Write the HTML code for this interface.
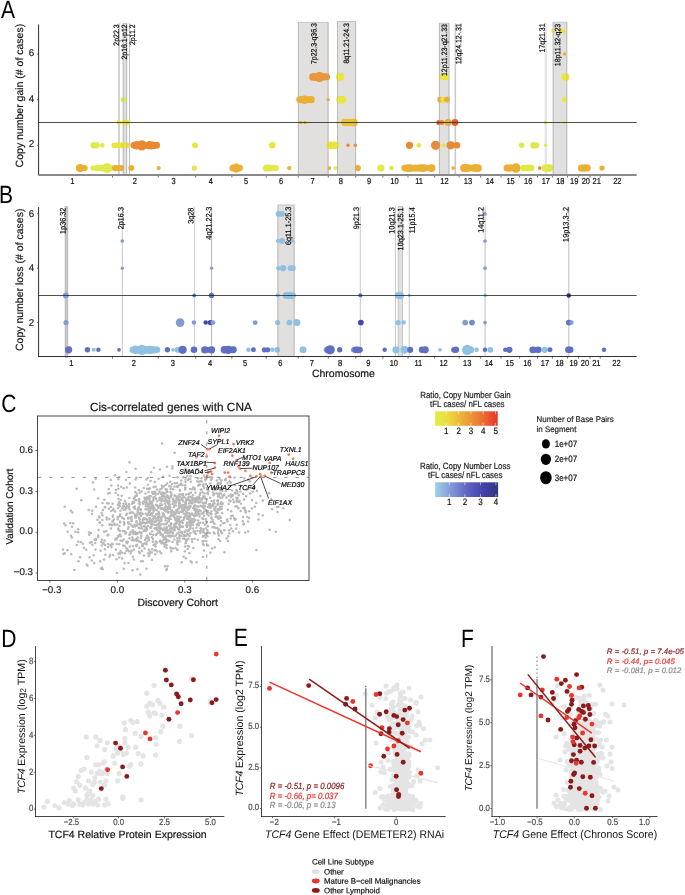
<!DOCTYPE html>
<html lang="en"><head><meta charset="utf-8"><title>Figure</title>
<style>
html,body{margin:0;padding:0;background:#fff;}
body{width:685px;height:895px;overflow:hidden;}
svg{display:block;font-family:"Liberation Sans",sans-serif;text-rendering:geometricPrecision;}
</style></head><body>
<svg width="685" height="895" viewBox="0 0 685 895">
<rect width="685" height="895" fill="#fff"/>
<g id="pA">
<rect x="118.2" y="23.4" width="1.6" height="151.1" fill="#c9c9c9"/>
<rect x="123.2" y="23.4" width="3.5" height="151.1" fill="#e1e0df" stroke="#bdbdbd" stroke-width="0.8"/>
<rect x="129" y="23.4" width="1" height="151.1" fill="#bdbdbd"/>
<rect x="298.3" y="22.3" width="29.8" height="152.2" fill="#e1e0df" stroke="#bdbdbd" stroke-width="0.8"/>
<rect x="337.5" y="21.4" width="18.2" height="153.1" fill="#e1e0df" stroke="#bdbdbd" stroke-width="0.8"/>
<rect x="439.3" y="23.2" width="9.7" height="151.3" fill="#e1e0df" stroke="#bdbdbd" stroke-width="0.8"/>
<rect x="454.6" y="23.2" width="1.5" height="151.3" fill="#c9c9c9"/>
<rect x="545" y="23.2" width="1.4" height="151.3" fill="#ececec" stroke="#d4d4d4" stroke-width="0.5"/>
<rect x="553.1" y="22.2" width="13.7" height="152.3" fill="#e1e0df" stroke="#bdbdbd" stroke-width="0.8"/>
<line x1="38.6" y1="24.4" x2="38.6" y2="175.2" stroke="#2e2e2e" stroke-width="1"/>
<line x1="38.4" y1="175" x2="636.7" y2="175" stroke="#8a8a8a" stroke-width="2"/>
<line x1="112.5" y1="176" x2="112.5" y2="177.5" stroke="#444" stroke-width="0.8"/>
<line x1="158.3" y1="176" x2="158.3" y2="177.5" stroke="#444" stroke-width="0.8"/>
<line x1="195.7" y1="176" x2="195.7" y2="177.5" stroke="#444" stroke-width="0.8"/>
<line x1="231.9" y1="176" x2="231.9" y2="177.5" stroke="#444" stroke-width="0.8"/>
<line x1="266.2" y1="176" x2="266.2" y2="177.5" stroke="#444" stroke-width="0.8"/>
<line x1="298.2" y1="176" x2="298.2" y2="177.5" stroke="#444" stroke-width="0.8"/>
<line x1="328.3" y1="176" x2="328.3" y2="177.5" stroke="#444" stroke-width="0.8"/>
<line x1="355.8" y1="176" x2="355.8" y2="177.5" stroke="#444" stroke-width="0.8"/>
<line x1="382.9" y1="176" x2="382.9" y2="177.5" stroke="#444" stroke-width="0.8"/>
<line x1="408" y1="176" x2="408" y2="177.5" stroke="#444" stroke-width="0.8"/>
<line x1="434.7" y1="176" x2="434.7" y2="177.5" stroke="#444" stroke-width="0.8"/>
<line x1="459.1" y1="176" x2="459.1" y2="177.5" stroke="#444" stroke-width="0.8"/>
<line x1="480.7" y1="176" x2="480.7" y2="177.5" stroke="#444" stroke-width="0.8"/>
<line x1="501" y1="176" x2="501" y2="177.5" stroke="#444" stroke-width="0.8"/>
<line x1="519.6" y1="176" x2="519.6" y2="177.5" stroke="#444" stroke-width="0.8"/>
<line x1="537.5" y1="176" x2="537.5" y2="177.5" stroke="#444" stroke-width="0.8"/>
<line x1="552.4" y1="176" x2="552.4" y2="177.5" stroke="#444" stroke-width="0.8"/>
<line x1="567.6" y1="176" x2="567.6" y2="177.5" stroke="#444" stroke-width="0.8"/>
<line x1="578.7" y1="176" x2="578.7" y2="177.5" stroke="#444" stroke-width="0.8"/>
<line x1="590" y1="176" x2="590" y2="177.5" stroke="#444" stroke-width="0.8"/>
<line x1="600.2" y1="176" x2="600.2" y2="177.5" stroke="#444" stroke-width="0.8"/>
<line x1="37" y1="54.1" x2="38.4" y2="54.1" stroke="#333" stroke-width="0.7"/>
<text x="34.3" y="56.2" font-size="9.8" text-anchor="end" fill="#222" stroke="#222" stroke-width="0.18">6</text>
<line x1="37" y1="99.7" x2="38.4" y2="99.7" stroke="#333" stroke-width="0.7"/>
<text x="34.3" y="101.8" font-size="9.8" text-anchor="end" fill="#222" stroke="#222" stroke-width="0.18">4</text>
<line x1="37" y1="145.3" x2="38.4" y2="145.3" stroke="#333" stroke-width="0.7"/>
<text x="34.3" y="147.4" font-size="9.8" text-anchor="end" fill="#222" stroke="#222" stroke-width="0.18">2</text>
<text transform="translate(72.3 184.2) scale(1 1.16)" font-size="7.5" fill="#111" stroke="#111" stroke-width="0.18" text-anchor="middle">1</text>
<text transform="translate(134.9 184.2) scale(1 1.16)" font-size="7.5" fill="#111" stroke="#111" stroke-width="0.18" text-anchor="middle">2</text>
<text transform="translate(173.6 184.2) scale(1 1.16)" font-size="7.5" fill="#111" stroke="#111" stroke-width="0.18" text-anchor="middle">3</text>
<text transform="translate(210.8 184.2) scale(1 1.16)" font-size="7.5" fill="#111" stroke="#111" stroke-width="0.18" text-anchor="middle">4</text>
<text transform="translate(246 184.2) scale(1 1.16)" font-size="7.5" fill="#111" stroke="#111" stroke-width="0.18" text-anchor="middle">5</text>
<text transform="translate(281.1 184.2) scale(1 1.16)" font-size="7.5" fill="#111" stroke="#111" stroke-width="0.18" text-anchor="middle">6</text>
<text transform="translate(312.5 184.2) scale(1 1.16)" font-size="7.5" fill="#111" stroke="#111" stroke-width="0.18" text-anchor="middle">7</text>
<text transform="translate(340.8 184.2) scale(1 1.16)" font-size="7.5" fill="#111" stroke="#111" stroke-width="0.18" text-anchor="middle">8</text>
<text transform="translate(369.1 184.2) scale(1 1.16)" font-size="7.5" fill="#111" stroke="#111" stroke-width="0.18" text-anchor="middle">9</text>
<text transform="translate(394.5 184.2) scale(1 1.16)" font-size="7.5" fill="#111" stroke="#111" stroke-width="0.18" text-anchor="middle">10</text>
<text transform="translate(419.1 184.2) scale(1 1.16)" font-size="7.5" fill="#111" stroke="#111" stroke-width="0.18" text-anchor="middle">11</text>
<text transform="translate(444.5 184.2) scale(1 1.16)" font-size="7.5" fill="#111" stroke="#111" stroke-width="0.18" text-anchor="middle">12</text>
<text transform="translate(468 184.2) scale(1 1.16)" font-size="7.5" fill="#111" stroke="#111" stroke-width="0.18" text-anchor="middle">13</text>
<text transform="translate(489.8 184.2) scale(1 1.16)" font-size="7.5" fill="#111" stroke="#111" stroke-width="0.18" text-anchor="middle">14</text>
<text transform="translate(510.6 184.2) scale(1 1.16)" font-size="7.5" fill="#111" stroke="#111" stroke-width="0.18" text-anchor="middle">15</text>
<text transform="translate(528.2 184.2) scale(1 1.16)" font-size="7.5" fill="#111" stroke="#111" stroke-width="0.18" text-anchor="middle">16</text>
<text transform="translate(545.8 184.2) scale(1 1.16)" font-size="7.5" fill="#111" stroke="#111" stroke-width="0.18" text-anchor="middle">17</text>
<text transform="translate(560.3 184.2) scale(1 1.16)" font-size="7.5" fill="#111" stroke="#111" stroke-width="0.18" text-anchor="middle">18</text>
<text transform="translate(574.2 184.2) scale(1 1.16)" font-size="7.5" fill="#111" stroke="#111" stroke-width="0.18" text-anchor="middle">19</text>
<text transform="translate(585.8 184.2) scale(1 1.16)" font-size="7.5" fill="#111" stroke="#111" stroke-width="0.18" text-anchor="middle">20</text>
<text transform="translate(596.7 184.2) scale(1 1.16)" font-size="7.5" fill="#111" stroke="#111" stroke-width="0.18" text-anchor="middle">21</text>
<text transform="translate(617.3 184.2) scale(1 1.16)" font-size="7.5" fill="#111" stroke="#111" stroke-width="0.18" text-anchor="middle">22</text>
<text x="23.2" y="95.6" font-size="10.5" text-anchor="middle" fill="#111" transform="rotate(-90 23.2 95.6)" stroke="#111" stroke-width="0.18">Copy number gain (# of cases)</text>
<circle cx="80" cy="168.1" r="4.12" fill="#eab035"/>
<circle cx="84.6" cy="168.1" r="3.09" fill="#eab035"/>
<circle cx="93" cy="168.1" r="2.58" fill="#dfe94b"/>
<circle cx="97" cy="168.1" r="3.09" fill="#dfe94b"/>
<circle cx="100.5" cy="168.1" r="3.3" fill="#dfe94b"/>
<circle cx="104" cy="168.1" r="3.71" fill="#dfe94b"/>
<circle cx="107.4" cy="168.1" r="4.94" fill="#dfe94b"/>
<circle cx="110.3" cy="168.1" r="3.09" fill="#dfe94b"/>
<circle cx="115" cy="168.1" r="3.09" fill="#eab035"/>
<circle cx="118" cy="168.1" r="3.09" fill="#eab035"/>
<circle cx="121" cy="168.1" r="3.09" fill="#eab035"/>
<circle cx="131.3" cy="168.1" r="2.99" fill="#eab035"/>
<circle cx="158.7" cy="168.1" r="2.06" fill="#eab035"/>
<circle cx="194.4" cy="168.1" r="2.68" fill="#dfe94b"/>
<circle cx="233" cy="168.1" r="3.5" fill="#eab035"/>
<circle cx="236.2" cy="168.1" r="4.53" fill="#eab035"/>
<circle cx="239.6" cy="168.1" r="3.3" fill="#eab035"/>
<circle cx="266.5" cy="168.1" r="3.6" fill="#dfe94b"/>
<circle cx="269.5" cy="168.1" r="3.5" fill="#dfe94b"/>
<circle cx="272.5" cy="168.1" r="3.09" fill="#dfe94b"/>
<circle cx="275.8" cy="168.1" r="3.09" fill="#dfe94b"/>
<circle cx="289.2" cy="168.1" r="2.06" fill="#eab035"/>
<circle cx="329.4" cy="168.1" r="1.85" fill="#eab035"/>
<circle cx="335.2" cy="168.1" r="1.85" fill="#dfe94b"/>
<circle cx="357.8" cy="168.1" r="3.09" fill="#eab035"/>
<circle cx="380.9" cy="168.1" r="3.6" fill="#dfe94b"/>
<circle cx="391.4" cy="168.1" r="2.37" fill="#dfe94b"/>
<circle cx="404.7" cy="168.1" r="3.28" fill="#eab035"/>
<circle cx="407.39" cy="168.1" r="3.92" fill="#eab035"/>
<circle cx="410.08" cy="168.1" r="3.84" fill="#eab035"/>
<circle cx="412.77" cy="168.1" r="3.38" fill="#eab035"/>
<circle cx="415.46" cy="168.1" r="3.6" fill="#eab035"/>
<circle cx="418.15" cy="168.1" r="3.56" fill="#eab035"/>
<circle cx="420.84" cy="168.1" r="3.74" fill="#eab035"/>
<circle cx="423.53" cy="168.1" r="3.87" fill="#eab035"/>
<circle cx="426.22" cy="168.1" r="3.24" fill="#eab035"/>
<circle cx="428.91" cy="168.1" r="3.18" fill="#eab035"/>
<circle cx="431.6" cy="168.1" r="3.91" fill="#eab035"/>
<circle cx="453.2" cy="168.1" r="1.85" fill="#eab035"/>
<circle cx="464.1" cy="168.1" r="4.13" fill="#eab035"/>
<circle cx="466.86" cy="168.1" r="4.12" fill="#eab035"/>
<circle cx="469.62" cy="168.1" r="3.3" fill="#eab035"/>
<circle cx="472.38" cy="168.1" r="3.32" fill="#eab035"/>
<circle cx="475.14" cy="168.1" r="4.02" fill="#eab035"/>
<circle cx="477.9" cy="168.1" r="3.93" fill="#eab035"/>
<circle cx="507.1" cy="168.1" r="3.51" fill="#eab035"/>
<circle cx="510.4" cy="168.1" r="3.74" fill="#eab035"/>
<circle cx="516" cy="168.1" r="4.74" fill="#eab035"/>
<circle cx="523.9" cy="168.1" r="3.37" fill="#dfe94b"/>
<circle cx="526.3" cy="168.1" r="3.25" fill="#dfe94b"/>
<circle cx="528.7" cy="168.1" r="3.51" fill="#dfe94b"/>
<circle cx="531.1" cy="168.1" r="3.29" fill="#dfe94b"/>
<circle cx="539.7" cy="168.1" r="1.85" fill="#e88a33"/>
<circle cx="545.2" cy="168.1" r="3.69" fill="#dfe94b"/>
<circle cx="547.35" cy="168.1" r="3.78" fill="#dfe94b"/>
<circle cx="549.5" cy="168.1" r="3.82" fill="#dfe94b"/>
<circle cx="581.5" cy="168.1" r="3.71" fill="#eab035"/>
<circle cx="584.4" cy="168.1" r="3.73" fill="#eab035"/>
<circle cx="587.3" cy="168.1" r="3.49" fill="#eab035"/>
<circle cx="602" cy="168.1" r="2.58" fill="#eab035"/>
<circle cx="93.5" cy="145.3" r="3.09" fill="#dfe94b"/>
<circle cx="96.6" cy="145.3" r="3.09" fill="#dfe94b"/>
<circle cx="102.3" cy="145.3" r="2.37" fill="#dfe94b"/>
<circle cx="114.4" cy="145.3" r="2.88" fill="#ebe33e"/>
<circle cx="116.84" cy="145.3" r="2.78" fill="#ebe33e"/>
<circle cx="119.28" cy="145.3" r="3.08" fill="#ebe33e"/>
<circle cx="121.72" cy="145.3" r="2.73" fill="#ebe33e"/>
<circle cx="124.16" cy="145.3" r="3.01" fill="#ebe33e"/>
<circle cx="126.6" cy="145.3" r="2.91" fill="#ebe33e"/>
<circle cx="133.7" cy="145.3" r="3.21" fill="#e88a33"/>
<circle cx="136.24" cy="145.3" r="3.99" fill="#e88a33"/>
<circle cx="138.79" cy="145.3" r="3.11" fill="#e88a33"/>
<circle cx="141.33" cy="145.3" r="3.72" fill="#e88a33"/>
<circle cx="143.88" cy="145.3" r="3.07" fill="#e88a33"/>
<circle cx="146.42" cy="145.3" r="3.24" fill="#e88a33"/>
<circle cx="148.97" cy="145.3" r="4.03" fill="#e88a33"/>
<circle cx="151.51" cy="145.3" r="3.2" fill="#e88a33"/>
<circle cx="154.06" cy="145.3" r="3.65" fill="#e88a33"/>
<circle cx="156.6" cy="145.3" r="3.46" fill="#e88a33"/>
<circle cx="141.9" cy="145.3" r="5.15" fill="#e88a33"/>
<circle cx="136.5" cy="145.3" r="4.12" fill="#e88a33"/>
<circle cx="151" cy="145.3" r="4.12" fill="#e88a33"/>
<circle cx="195" cy="145.3" r="2.88" fill="#ebe33e"/>
<circle cx="272.3" cy="145.3" r="3.3" fill="#ebe33e"/>
<circle cx="330.2" cy="145.3" r="3.9" fill="#ebe33e"/>
<circle cx="332.8" cy="145.3" r="3.86" fill="#ebe33e"/>
<circle cx="335.4" cy="145.3" r="3.77" fill="#ebe33e"/>
<circle cx="348" cy="145.3" r="1.75" fill="#e88a33"/>
<circle cx="355.3" cy="145.3" r="1.75" fill="#e88a33"/>
<circle cx="409.5" cy="145.3" r="3.6" fill="#e88a33"/>
<circle cx="418.8" cy="145.3" r="2.37" fill="#ebe33e"/>
<circle cx="435.6" cy="145.3" r="4.63" fill="#e88a33"/>
<circle cx="443.7" cy="145.3" r="1.85" fill="#ebe33e"/>
<circle cx="450.7" cy="145.3" r="4.12" fill="#e88a33"/>
<circle cx="457" cy="145.3" r="3.3" fill="#e88a33"/>
<circle cx="521.6" cy="145.3" r="2.78" fill="#dfe94b"/>
<circle cx="533.3" cy="145.3" r="3.09" fill="#dfe94b"/>
<circle cx="536.2" cy="145.3" r="3.09" fill="#dfe94b"/>
<circle cx="545.7" cy="145.3" r="1.75" fill="#dfe94b"/>
<circle cx="119" cy="122.5" r="2.37" fill="#ebe33e"/>
<circle cx="124.8" cy="122.5" r="2.88" fill="#ebe33e"/>
<circle cx="128" cy="122.5" r="2.37" fill="#ebe33e"/>
<circle cx="300.7" cy="122.5" r="1.65" fill="#eab035"/>
<circle cx="305" cy="122.5" r="1.65" fill="#eab035"/>
<circle cx="337.7" cy="122.5" r="1.54" fill="#ebe33e"/>
<circle cx="344.8" cy="122.5" r="3.68" fill="#e8c03a"/>
<circle cx="347.05" cy="122.5" r="3.53" fill="#e8c03a"/>
<circle cx="349.3" cy="122.5" r="3.69" fill="#e8c03a"/>
<circle cx="351.55" cy="122.5" r="3.29" fill="#e8c03a"/>
<circle cx="353.8" cy="122.5" r="3.94" fill="#e8c03a"/>
<circle cx="438.9" cy="122.5" r="2.58" fill="#e6602f"/>
<circle cx="441.9" cy="122.5" r="2.58" fill="#e88a33"/>
<circle cx="448.2" cy="122.5" r="3.6" fill="#eab035"/>
<circle cx="455" cy="122.5" r="3.4" fill="#e6602f"/>
<circle cx="545.7" cy="122.5" r="1.85" fill="#dfe94b"/>
<circle cx="564.6" cy="122.5" r="1.54" fill="#ebe33e"/>
<circle cx="123.5" cy="99.7" r="2.58" fill="#dfe94b"/>
<circle cx="299.7" cy="99.7" r="3.45" fill="#eab035"/>
<circle cx="302" cy="99.7" r="3.56" fill="#eab035"/>
<circle cx="304.3" cy="99.7" r="3.95" fill="#eab035"/>
<circle cx="306.6" cy="99.7" r="3.47" fill="#eab035"/>
<circle cx="308.9" cy="99.7" r="3.51" fill="#eab035"/>
<circle cx="311.2" cy="99.7" r="3.59" fill="#eab035"/>
<circle cx="304.5" cy="99.7" r="4.12" fill="#eab035"/>
<circle cx="328.2" cy="99.7" r="1.65" fill="#eab035"/>
<circle cx="340" cy="99.7" r="3.71" fill="#ebe33e"/>
<circle cx="342.3" cy="99.7" r="3.91" fill="#ebe33e"/>
<circle cx="440.1" cy="99.7" r="2.88" fill="#eab035"/>
<circle cx="443.4" cy="99.7" r="2.99" fill="#ebe33e"/>
<circle cx="446.9" cy="99.7" r="2.88" fill="#eab035"/>
<circle cx="564.8" cy="99.7" r="2.58" fill="#ebe33e"/>
<circle cx="312.8" cy="76.9" r="3.68" fill="#e8973a"/>
<circle cx="315.1" cy="76.9" r="3.88" fill="#e8973a"/>
<circle cx="317.4" cy="76.9" r="3.89" fill="#e8973a"/>
<circle cx="319.7" cy="76.9" r="3.31" fill="#e8973a"/>
<circle cx="322" cy="76.9" r="3.16" fill="#e8973a"/>
<circle cx="324.3" cy="76.9" r="3.57" fill="#e8973a"/>
<circle cx="326.6" cy="76.9" r="3.46" fill="#e8973a"/>
<circle cx="319.4" cy="76.9" r="5.15" fill="#e8973a"/>
<circle cx="340.1" cy="76.9" r="4.12" fill="#ebe33e"/>
<circle cx="442.6" cy="76.9" r="3.09" fill="#ebe33e"/>
<circle cx="446" cy="76.9" r="3.09" fill="#ebe33e"/>
<circle cx="565.5" cy="76.9" r="3.91" fill="#ebe33e"/>
<circle cx="564.5" cy="54.1" r="1.75" fill="#eab035"/>
<circle cx="553.2" cy="31.3" r="2.06" fill="#ebe33e"/>
<circle cx="563.2" cy="31.3" r="2.37" fill="#ebe33e"/>
<circle cx="561" cy="31.3" r="1.85" fill="#ebe33e"/>
<line x1="123.2" y1="23.4" x2="123.2" y2="174.5" stroke="#a8a8a8" stroke-width="0.7" opacity="0.55"/>
<line x1="126.7" y1="23.4" x2="126.7" y2="174.5" stroke="#a8a8a8" stroke-width="0.7" opacity="0.55"/>
<line x1="298.3" y1="22.3" x2="298.3" y2="174.5" stroke="#a8a8a8" stroke-width="0.7" opacity="0.55"/>
<line x1="328.1" y1="22.3" x2="328.1" y2="174.5" stroke="#a8a8a8" stroke-width="0.7" opacity="0.55"/>
<line x1="337.5" y1="21.4" x2="337.5" y2="174.5" stroke="#a8a8a8" stroke-width="0.7" opacity="0.55"/>
<line x1="355.7" y1="21.4" x2="355.7" y2="174.5" stroke="#a8a8a8" stroke-width="0.7" opacity="0.55"/>
<line x1="439.3" y1="23.2" x2="439.3" y2="174.5" stroke="#a8a8a8" stroke-width="0.7" opacity="0.55"/>
<line x1="449" y1="23.2" x2="449" y2="174.5" stroke="#a8a8a8" stroke-width="0.7" opacity="0.55"/>
<line x1="553.1" y1="22.2" x2="553.1" y2="174.5" stroke="#a8a8a8" stroke-width="0.7" opacity="0.55"/>
<line x1="566.8" y1="22.2" x2="566.8" y2="174.5" stroke="#a8a8a8" stroke-width="0.7" opacity="0.55"/>
<line x1="38.4" y1="122.5" x2="636.7" y2="122.5" stroke="#222" stroke-width="0.8"/>
<text transform="translate(119.1 24.4) rotate(-90.03) scale(1 1.13)" font-size="6.95" text-anchor="end" stroke="#000" stroke-width="0.15">2p22.3</text>
<text transform="translate(126.9 24.4) rotate(-90.03) scale(1 1.13)" font-size="6.95" text-anchor="end" stroke="#000" stroke-width="0.15">2p16.1-p12</text>
<text transform="translate(135.1 24.4) rotate(-90.03) scale(1 1.13)" font-size="6.95" text-anchor="end" stroke="#000" stroke-width="0.15">2p11.2</text>
<text transform="translate(316.5 23.2) rotate(-90.03) scale(1 1.13)" font-size="6.95" text-anchor="end" stroke="#000" stroke-width="0.15">7p22.3-q36.3</text>
<text transform="translate(348.9 23.2) rotate(-90.03) scale(1 1.13)" font-size="6.95" text-anchor="end" stroke="#000" stroke-width="0.15">8q11.21-24.3</text>
<text transform="translate(447 24.1) rotate(-90.03) scale(1 1.13)" font-size="6.95" text-anchor="end" stroke="#000" stroke-width="0.15">12p11.23-q21.33</text>
<text transform="translate(461.3 23.4) rotate(-90.03) scale(1 1.13)" font-size="6.95" text-anchor="end" stroke="#000" stroke-width="0.15">12q24.12-.31</text>
<text transform="translate(544.7 23.5) rotate(-90.03) scale(1 1.13)" font-size="6.95" text-anchor="end" stroke="#000" stroke-width="0.15">17q21.31</text>
<text transform="translate(560.3 23.9) rotate(-90.03) scale(1 1.13)" font-size="6.95" text-anchor="end" stroke="#000" stroke-width="0.15">18p11.32-q23</text>
<text transform="translate(1 18.1) scale(0.84 1)" font-size="25">A</text>
</g>
<g id="pB">
<rect x="65" y="206.5" width="2.9" height="151.2" fill="#c6c6c6" stroke="#b0b0b0" stroke-width="0.5"/>
<rect x="277.9" y="204.9" width="16.2" height="151.6" fill="#e1e0df" stroke="#bdbdbd" stroke-width="0.8"/>
<rect x="398.2" y="206.5" width="4.4" height="150" fill="#e1e0df" stroke="#bdbdbd" stroke-width="0.8"/>
<line x1="122.3" y1="206.5" x2="122.3" y2="356.5" stroke="#c8c8c8" stroke-width="1"/>
<line x1="194.4" y1="206.5" x2="194.4" y2="356.5" stroke="#d2d2d2" stroke-width="1"/>
<line x1="211.6" y1="206.5" x2="211.6" y2="356.5" stroke="#b8b8b8" stroke-width="1"/>
<line x1="360.3" y1="206.5" x2="360.3" y2="356.5" stroke="#c8c8c8" stroke-width="1"/>
<line x1="395.4" y1="206.5" x2="395.4" y2="356.5" stroke="#c8c8c8" stroke-width="1"/>
<line x1="409.2" y1="206.5" x2="409.2" y2="356.5" stroke="#c8c8c8" stroke-width="1"/>
<line x1="485.1" y1="206.5" x2="485.1" y2="356.5" stroke="#c0c0c0" stroke-width="1"/>
<line x1="568.8" y1="206.5" x2="568.8" y2="356.5" stroke="#c0c0c0" stroke-width="1"/>
<line x1="38.6" y1="207.1" x2="38.6" y2="357.2" stroke="#2e2e2e" stroke-width="1"/>
<line x1="38.1" y1="356.5" x2="636.7" y2="356.5" stroke="#333" stroke-width="1"/>
<line x1="112.5" y1="357" x2="112.5" y2="358.6" stroke="#444" stroke-width="0.8"/>
<line x1="158.3" y1="357" x2="158.3" y2="358.6" stroke="#444" stroke-width="0.8"/>
<line x1="195.7" y1="357" x2="195.7" y2="358.6" stroke="#444" stroke-width="0.8"/>
<line x1="231.9" y1="357" x2="231.9" y2="358.6" stroke="#444" stroke-width="0.8"/>
<line x1="266.2" y1="357" x2="266.2" y2="358.6" stroke="#444" stroke-width="0.8"/>
<line x1="298.2" y1="357" x2="298.2" y2="358.6" stroke="#444" stroke-width="0.8"/>
<line x1="328.3" y1="357" x2="328.3" y2="358.6" stroke="#444" stroke-width="0.8"/>
<line x1="355.8" y1="357" x2="355.8" y2="358.6" stroke="#444" stroke-width="0.8"/>
<line x1="382.9" y1="357" x2="382.9" y2="358.6" stroke="#444" stroke-width="0.8"/>
<line x1="408" y1="357" x2="408" y2="358.6" stroke="#444" stroke-width="0.8"/>
<line x1="434.7" y1="357" x2="434.7" y2="358.6" stroke="#444" stroke-width="0.8"/>
<line x1="459.1" y1="357" x2="459.1" y2="358.6" stroke="#444" stroke-width="0.8"/>
<line x1="480.7" y1="357" x2="480.7" y2="358.6" stroke="#444" stroke-width="0.8"/>
<line x1="501" y1="357" x2="501" y2="358.6" stroke="#444" stroke-width="0.8"/>
<line x1="519.6" y1="357" x2="519.6" y2="358.6" stroke="#444" stroke-width="0.8"/>
<line x1="537.5" y1="357" x2="537.5" y2="358.6" stroke="#444" stroke-width="0.8"/>
<line x1="552.4" y1="357" x2="552.4" y2="358.6" stroke="#444" stroke-width="0.8"/>
<line x1="567.6" y1="357" x2="567.6" y2="358.6" stroke="#444" stroke-width="0.8"/>
<line x1="578.7" y1="357" x2="578.7" y2="358.6" stroke="#444" stroke-width="0.8"/>
<line x1="590" y1="357" x2="590" y2="358.6" stroke="#444" stroke-width="0.8"/>
<line x1="600.2" y1="357" x2="600.2" y2="358.6" stroke="#444" stroke-width="0.8"/>
<line x1="37" y1="213.8" x2="38.4" y2="213.8" stroke="#333" stroke-width="0.7"/>
<text x="34.3" y="216.7" font-size="9.8" text-anchor="end" fill="#222" stroke="#222" stroke-width="0.18">6</text>
<line x1="37" y1="268.2" x2="38.4" y2="268.2" stroke="#333" stroke-width="0.7"/>
<text x="34.3" y="271.1" font-size="9.8" text-anchor="end" fill="#222" stroke="#222" stroke-width="0.18">4</text>
<line x1="37" y1="322.6" x2="38.4" y2="322.6" stroke="#333" stroke-width="0.7"/>
<text x="34.3" y="325.5" font-size="9.8" text-anchor="end" fill="#222" stroke="#222" stroke-width="0.18">2</text>
<text transform="translate(71.3 366.1) scale(1 1.16)" font-size="7.5" fill="#111" stroke="#111" stroke-width="0.18" text-anchor="middle">1</text>
<text transform="translate(133.9 366.1) scale(1 1.16)" font-size="7.5" fill="#111" stroke="#111" stroke-width="0.18" text-anchor="middle">2</text>
<text transform="translate(172.9 366.1) scale(1 1.16)" font-size="7.5" fill="#111" stroke="#111" stroke-width="0.18" text-anchor="middle">3</text>
<text transform="translate(210.1 366.1) scale(1 1.16)" font-size="7.5" fill="#111" stroke="#111" stroke-width="0.18" text-anchor="middle">4</text>
<text transform="translate(245 366.1) scale(1 1.16)" font-size="7.5" fill="#111" stroke="#111" stroke-width="0.18" text-anchor="middle">5</text>
<text transform="translate(280.3 366.1) scale(1 1.16)" font-size="7.5" fill="#111" stroke="#111" stroke-width="0.18" text-anchor="middle">6</text>
<text transform="translate(311.8 366.1) scale(1 1.16)" font-size="7.5" fill="#111" stroke="#111" stroke-width="0.18" text-anchor="middle">7</text>
<text transform="translate(340 366.1) scale(1 1.16)" font-size="7.5" fill="#111" stroke="#111" stroke-width="0.18" text-anchor="middle">8</text>
<text transform="translate(368.3 366.1) scale(1 1.16)" font-size="7.5" fill="#111" stroke="#111" stroke-width="0.18" text-anchor="middle">9</text>
<text transform="translate(393.8 366.1) scale(1 1.16)" font-size="7.5" fill="#111" stroke="#111" stroke-width="0.18" text-anchor="middle">10</text>
<text transform="translate(418.3 366.1) scale(1 1.16)" font-size="7.5" fill="#111" stroke="#111" stroke-width="0.18" text-anchor="middle">11</text>
<text transform="translate(443.6 366.1) scale(1 1.16)" font-size="7.5" fill="#111" stroke="#111" stroke-width="0.18" text-anchor="middle">12</text>
<text transform="translate(467.2 366.1) scale(1 1.16)" font-size="7.5" fill="#111" stroke="#111" stroke-width="0.18" text-anchor="middle">13</text>
<text transform="translate(488.8 366.1) scale(1 1.16)" font-size="7.5" fill="#111" stroke="#111" stroke-width="0.18" text-anchor="middle">14</text>
<text transform="translate(509.7 366.1) scale(1 1.16)" font-size="7.5" fill="#111" stroke="#111" stroke-width="0.18" text-anchor="middle">15</text>
<text transform="translate(527.3 366.1) scale(1 1.16)" font-size="7.5" fill="#111" stroke="#111" stroke-width="0.18" text-anchor="middle">16</text>
<text transform="translate(544.9 366.1) scale(1 1.16)" font-size="7.5" fill="#111" stroke="#111" stroke-width="0.18" text-anchor="middle">17</text>
<text transform="translate(559.6 366.1) scale(1 1.16)" font-size="7.5" fill="#111" stroke="#111" stroke-width="0.18" text-anchor="middle">18</text>
<text transform="translate(573.6 366.1) scale(1 1.16)" font-size="7.5" fill="#111" stroke="#111" stroke-width="0.18" text-anchor="middle">19</text>
<text transform="translate(584.9 366.1) scale(1 1.16)" font-size="7.5" fill="#111" stroke="#111" stroke-width="0.18" text-anchor="middle">20</text>
<text transform="translate(596.3 366.1) scale(1 1.16)" font-size="7.5" fill="#111" stroke="#111" stroke-width="0.18" text-anchor="middle">21</text>
<text transform="translate(616.5 366.1) scale(1 1.16)" font-size="7.5" fill="#111" stroke="#111" stroke-width="0.18" text-anchor="middle">22</text>
<text x="23.2" y="279.8" font-size="10.5" text-anchor="middle" fill="#111" transform="rotate(-90 23.2 279.8)" stroke="#111" stroke-width="0.18">Copy number loss (# of cases)</text>
<text x="343.4" y="377.2" font-size="10.5" text-anchor="middle" fill="#111" stroke="#111" stroke-width="0.18">Chromosome</text>
<circle cx="68.6" cy="349.8" r="3.6" fill="#5f70c4"/>
<circle cx="87.4" cy="349.8" r="2.68" fill="#5f70c4"/>
<circle cx="93.7" cy="349.8" r="2.06" fill="#8fc1e3"/>
<circle cx="98.4" cy="349.8" r="2.27" fill="#5f70c4"/>
<circle cx="119" cy="349.8" r="1.85" fill="#5f70c4"/>
<circle cx="132.8" cy="349.8" r="3.24" fill="#8fc1e3"/>
<circle cx="135.48" cy="349.8" r="3.81" fill="#8fc1e3"/>
<circle cx="138.16" cy="349.8" r="3.75" fill="#8fc1e3"/>
<circle cx="140.83" cy="349.8" r="3.58" fill="#8fc1e3"/>
<circle cx="143.51" cy="349.8" r="3.3" fill="#8fc1e3"/>
<circle cx="146.19" cy="349.8" r="3.92" fill="#8fc1e3"/>
<circle cx="148.87" cy="349.8" r="3.94" fill="#8fc1e3"/>
<circle cx="151.54" cy="349.8" r="3.62" fill="#8fc1e3"/>
<circle cx="154.22" cy="349.8" r="3.61" fill="#8fc1e3"/>
<circle cx="156.9" cy="349.8" r="3.32" fill="#8fc1e3"/>
<circle cx="141.9" cy="349.8" r="5.15" fill="#8fc1e3"/>
<circle cx="135.5" cy="349.8" r="4.33" fill="#8fc1e3"/>
<circle cx="150.5" cy="349.8" r="4.12" fill="#8fc1e3"/>
<circle cx="167.4" cy="349.8" r="2.68" fill="#5f70c4"/>
<circle cx="173.1" cy="349.8" r="1.85" fill="#8fc1e3"/>
<circle cx="177.6" cy="349.8" r="2.88" fill="#8fc1e3"/>
<circle cx="182.6" cy="349.8" r="4.12" fill="#5f70c4"/>
<circle cx="194" cy="349.8" r="3.3" fill="#5f70c4"/>
<circle cx="204.7" cy="349.8" r="3.6" fill="#5f70c4"/>
<circle cx="207" cy="349.8" r="3.06" fill="#5f70c4"/>
<circle cx="209.3" cy="349.8" r="2.98" fill="#5f70c4"/>
<circle cx="211.6" cy="349.8" r="3.62" fill="#5f70c4"/>
<circle cx="224.3" cy="349.8" r="3.69" fill="#5f70c4"/>
<circle cx="226.55" cy="349.8" r="3.7" fill="#5f70c4"/>
<circle cx="228.8" cy="349.8" r="3.67" fill="#5f70c4"/>
<circle cx="231.05" cy="349.8" r="3.12" fill="#5f70c4"/>
<circle cx="233.3" cy="349.8" r="3.46" fill="#5f70c4"/>
<circle cx="228.3" cy="349.8" r="4.12" fill="#5f70c4"/>
<circle cx="248.4" cy="349.8" r="2.27" fill="#8fc1e3"/>
<circle cx="253.4" cy="349.8" r="2.47" fill="#5f70c4"/>
<circle cx="264.4" cy="349.8" r="2.58" fill="#5f70c4"/>
<circle cx="267.6" cy="349.8" r="2.58" fill="#5f70c4"/>
<circle cx="272.3" cy="349.8" r="2.27" fill="#8fc1e3"/>
<circle cx="277.3" cy="349.8" r="2.88" fill="#8fc1e3"/>
<circle cx="302.9" cy="349.8" r="3.3" fill="#8fc1e3"/>
<circle cx="303.1" cy="349.8" r="3.3" fill="#8fc1e3"/>
<circle cx="325.2" cy="349.8" r="1.85" fill="#8fc1e3"/>
<circle cx="330.2" cy="349.8" r="4.63" fill="#5f70c4"/>
<circle cx="328" cy="349.8" r="3.6" fill="#5f70c4"/>
<circle cx="339.7" cy="349.8" r="2.68" fill="#5f70c4"/>
<circle cx="353.5" cy="349.8" r="2.58" fill="#829cd3"/>
<circle cx="355.7" cy="349.8" r="3.33" fill="#5f70c4"/>
<circle cx="357.8" cy="349.8" r="3.41" fill="#5f70c4"/>
<circle cx="359.9" cy="349.8" r="2.99" fill="#5f70c4"/>
<circle cx="384.7" cy="349.8" r="2.27" fill="#5f70c4"/>
<circle cx="396" cy="349.8" r="3.6" fill="#8fc1e3"/>
<circle cx="404.2" cy="349.8" r="3.81" fill="#8fc1e3"/>
<circle cx="404.6" cy="349.8" r="3.81" fill="#8fc1e3"/>
<circle cx="410.2" cy="349.8" r="3.09" fill="#5f70c4"/>
<circle cx="422" cy="349.8" r="3.21" fill="#5f70c4"/>
<circle cx="425.2" cy="349.8" r="3.58" fill="#5f70c4"/>
<circle cx="440" cy="349.8" r="1.85" fill="#8fc1e3"/>
<circle cx="455.9" cy="349.8" r="3.19" fill="#5f70c4"/>
<circle cx="454" cy="349.8" r="2.88" fill="#5f70c4"/>
<circle cx="466.8" cy="349.8" r="3.5" fill="#8fc1e3"/>
<circle cx="468.7" cy="349.8" r="3.5" fill="#8fc1e3"/>
<circle cx="470.6" cy="349.8" r="3.5" fill="#8fc1e3"/>
<circle cx="467.2" cy="349.8" r="5.15" fill="#8fc1e3"/>
<circle cx="476.6" cy="349.8" r="2.27" fill="#8fc1e3"/>
<circle cx="485" cy="349.8" r="2.27" fill="#5f70c4"/>
<circle cx="490.3" cy="349.8" r="2.88" fill="#8fc1e3"/>
<circle cx="505.3" cy="349.8" r="2.27" fill="#5f70c4"/>
<circle cx="509.4" cy="349.8" r="3.09" fill="#5f70c4"/>
<circle cx="532.7" cy="349.8" r="3.35" fill="#5f70c4"/>
<circle cx="534.6" cy="349.8" r="3" fill="#5f70c4"/>
<circle cx="536.5" cy="349.8" r="3" fill="#5f70c4"/>
<circle cx="538.4" cy="349.8" r="3.26" fill="#5f70c4"/>
<circle cx="544.8" cy="349.8" r="3.09" fill="#8fc1e3"/>
<circle cx="550" cy="349.8" r="2.47" fill="#5f70c4"/>
<circle cx="568.4" cy="349.8" r="3.3" fill="#5f70c4"/>
<circle cx="570.2" cy="349.8" r="3.3" fill="#5f70c4"/>
<circle cx="604" cy="349.8" r="2.27" fill="#5f70c4"/>
<circle cx="66" cy="322.6" r="2.58" fill="#829cd3"/>
<circle cx="180.1" cy="322.6" r="4.33" fill="#829cd3"/>
<circle cx="194" cy="322.6" r="2.27" fill="#829cd3"/>
<circle cx="205.7" cy="322.6" r="2.27" fill="#4348b0"/>
<circle cx="210.3" cy="322.6" r="2.58" fill="#4348b0"/>
<circle cx="212.9" cy="322.6" r="2.47" fill="#829cd3"/>
<circle cx="255.2" cy="322.6" r="2.47" fill="#829cd3"/>
<circle cx="277.6" cy="322.6" r="2.58" fill="#8fc1e3"/>
<circle cx="289.4" cy="322.6" r="2.88" fill="#8fc1e3"/>
<circle cx="296.9" cy="322.6" r="3.5" fill="#8fc1e3"/>
<circle cx="360.9" cy="322.6" r="2.88" fill="#4348b0"/>
<circle cx="398" cy="322.6" r="2.68" fill="#8fc1e3"/>
<circle cx="403.6" cy="322.6" r="2.27" fill="#8fc1e3"/>
<circle cx="465.2" cy="322.6" r="2.88" fill="#829cd3"/>
<circle cx="472" cy="322.6" r="2.88" fill="#6f8ad2"/>
<circle cx="485" cy="322.6" r="1.85" fill="#829cd3"/>
<circle cx="568.9" cy="322.6" r="2.88" fill="#5f70c4"/>
<circle cx="571.4" cy="322.6" r="2.27" fill="#829cd3"/>
<circle cx="65.8" cy="295.4" r="2.88" fill="#829cd3"/>
<circle cx="194.2" cy="295.4" r="1.85" fill="#5f70c4"/>
<circle cx="211.5" cy="295.4" r="2.68" fill="#5f70c4"/>
<circle cx="277.8" cy="295.4" r="2.06" fill="#8fc1e3"/>
<circle cx="286.2" cy="295.4" r="3.39" fill="#8fc1e3"/>
<circle cx="288.4" cy="295.4" r="3.43" fill="#8fc1e3"/>
<circle cx="290.6" cy="295.4" r="3.6" fill="#8fc1e3"/>
<circle cx="292.8" cy="295.4" r="3.1" fill="#8fc1e3"/>
<circle cx="360.4" cy="295.4" r="2.06" fill="#5f70c4"/>
<circle cx="398.4" cy="295.4" r="3.5" fill="#8fc1e3"/>
<circle cx="400.6" cy="295.4" r="3.5" fill="#8fc1e3"/>
<circle cx="409.3" cy="295.4" r="1.65" fill="#8fc1e3"/>
<circle cx="485.2" cy="295.4" r="1.85" fill="#8fc1e3"/>
<circle cx="568.7" cy="295.4" r="2.27" fill="#2a2f7a"/>
<circle cx="122.3" cy="268.2" r="1.65" fill="#829cd3"/>
<circle cx="211.6" cy="268.2" r="1.65" fill="#829cd3"/>
<circle cx="278.5" cy="268.2" r="2.27" fill="#8fc1e3"/>
<circle cx="283.1" cy="268.2" r="3.09" fill="#8fc1e3"/>
<circle cx="290.5" cy="268.2" r="2.88" fill="#8fc1e3"/>
<circle cx="292.8" cy="268.2" r="2.88" fill="#8fc1e3"/>
<circle cx="485" cy="268.2" r="1.85" fill="#829cd3"/>
<circle cx="122.3" cy="241" r="1.85" fill="#829cd3"/>
<circle cx="277.9" cy="241" r="2.06" fill="#8fc1e3"/>
<circle cx="282" cy="241" r="2.88" fill="#8fc1e3"/>
<circle cx="292.2" cy="241" r="2.06" fill="#8fc1e3"/>
<circle cx="485" cy="241" r="1.85" fill="#829cd3"/>
<circle cx="278.5" cy="213.8" r="2.88" fill="#8fc1e3"/>
<circle cx="282" cy="213.8" r="2.88" fill="#8fc1e3"/>
<circle cx="485" cy="213.8" r="1.85" fill="#829cd3"/>
<line x1="277.9" y1="205.2" x2="277.9" y2="356.5" stroke="#a8a8a8" stroke-width="0.7" opacity="0.55"/>
<line x1="294.1" y1="205.2" x2="294.1" y2="356.5" stroke="#a8a8a8" stroke-width="0.7" opacity="0.55"/>
<line x1="38.4" y1="295.5" x2="636.7" y2="295.5" stroke="#222" stroke-width="0.8"/>
<text transform="translate(65.4 207.6) rotate(-90.03) scale(1 1.09)" font-size="7.3" text-anchor="end" stroke="#000" stroke-width="0.15">1p36.32</text>
<text transform="translate(123.4 207) rotate(-90.03) scale(1 1.09)" font-size="7.3" text-anchor="end" stroke="#000" stroke-width="0.15">2p16.3</text>
<text transform="translate(193.5 207.6) rotate(-90.03) scale(1 1.09)" font-size="7.3" text-anchor="end" stroke="#000" stroke-width="0.15">3q28</text>
<text transform="translate(211.6 206.8) rotate(-90.03) scale(1 1.09)" font-size="7.3" text-anchor="end" stroke="#000" stroke-width="0.15">4q21.22-3</text>
<text transform="translate(291 206.6) rotate(-90.03) scale(1 1.09)" font-size="7.3" text-anchor="end" stroke="#000" stroke-width="0.15">6q11.1-25.3</text>
<text transform="translate(358.9 206.9) rotate(-90.03) scale(1 1.09)" font-size="7.3" text-anchor="end" stroke="#000" stroke-width="0.15">9p21.3</text>
<text transform="translate(394.6 207.3) rotate(-90.03) scale(1 1.09)" font-size="7.3" text-anchor="end" stroke="#000" stroke-width="0.15">10q21.3</text>
<text transform="translate(403.3 207.4) rotate(-90.03) scale(1 1.09)" font-size="7.3" text-anchor="end" stroke="#000" stroke-width="0.15">10q23.1-25.1</text>
<text transform="translate(414.7 207.3) rotate(-90.03) scale(1 1.09)" font-size="7.3" text-anchor="end" stroke="#000" stroke-width="0.15">11p15.4</text>
<text transform="translate(483.4 207) rotate(-90.03) scale(1 1.09)" font-size="7.3" text-anchor="end" stroke="#000" stroke-width="0.15">14q11.2</text>
<text transform="translate(568.4 207) rotate(-90.03) scale(1 1.09)" font-size="7.3" text-anchor="end" stroke="#000" stroke-width="0.15">19p13.3-.2</text>
<text transform="translate(-0.88 203) scale(0.84 1)" font-size="25">B</text>
</g>
<g id="pC">
<g fill="#b9b9b9">
<circle cx="246.17" cy="496.22" r="1.25"/>
<circle cx="165.3" cy="506.9" r="1.25"/>
<circle cx="174.51" cy="502.72" r="1.25"/>
<circle cx="136.54" cy="525.66" r="1.25"/>
<circle cx="92.89" cy="482.57" r="1.25"/>
<circle cx="214.78" cy="510.41" r="1.25"/>
<circle cx="205.12" cy="477.34" r="1.25"/>
<circle cx="176.29" cy="510.55" r="1.25"/>
<circle cx="272.05" cy="509.27" r="1.25"/>
<circle cx="269.09" cy="493.35" r="1.25"/>
<circle cx="165.99" cy="528.92" r="1.25"/>
<circle cx="119.92" cy="503.46" r="1.25"/>
<circle cx="159.54" cy="532.55" r="1.25"/>
<circle cx="141.1" cy="561.15" r="1.25"/>
<circle cx="172.45" cy="466.5" r="1.25"/>
<circle cx="194.06" cy="532.45" r="1.25"/>
<circle cx="145.67" cy="529.73" r="1.25"/>
<circle cx="188.33" cy="506.6" r="1.25"/>
<circle cx="174.98" cy="524.26" r="1.25"/>
<circle cx="161.17" cy="518.6" r="1.25"/>
<circle cx="230.99" cy="496.99" r="1.25"/>
<circle cx="256.22" cy="503.04" r="1.25"/>
<circle cx="168.35" cy="536.01" r="1.25"/>
<circle cx="165.94" cy="540.96" r="1.25"/>
<circle cx="159.26" cy="527.56" r="1.25"/>
<circle cx="64.67" cy="506.86" r="1.25"/>
<circle cx="186.48" cy="539.48" r="1.25"/>
<circle cx="185.97" cy="503.94" r="1.25"/>
<circle cx="165.56" cy="500.86" r="1.25"/>
<circle cx="140.54" cy="524.15" r="1.25"/>
<circle cx="219.8" cy="506.79" r="1.25"/>
<circle cx="133.16" cy="540.13" r="1.25"/>
<circle cx="145.86" cy="518.98" r="1.25"/>
<circle cx="207.15" cy="513.27" r="1.25"/>
<circle cx="186.03" cy="515.19" r="1.25"/>
<circle cx="163.62" cy="508.9" r="1.25"/>
<circle cx="128.47" cy="523.78" r="1.25"/>
<circle cx="148.05" cy="537.16" r="1.25"/>
<circle cx="158.75" cy="513.58" r="1.25"/>
<circle cx="169.52" cy="501.92" r="1.25"/>
<circle cx="144.21" cy="501.87" r="1.25"/>
<circle cx="138.93" cy="552.12" r="1.25"/>
<circle cx="159.34" cy="491.42" r="1.25"/>
<circle cx="136.45" cy="522.24" r="1.25"/>
<circle cx="201.76" cy="498.35" r="1.25"/>
<circle cx="235" cy="492.7" r="1.25"/>
<circle cx="122.22" cy="508.36" r="1.25"/>
<circle cx="177.2" cy="533.85" r="1.25"/>
<circle cx="210.82" cy="505.58" r="1.25"/>
<circle cx="134.07" cy="549.72" r="1.25"/>
<circle cx="222.3" cy="497.59" r="1.25"/>
<circle cx="163.25" cy="509" r="1.25"/>
<circle cx="224.47" cy="523.03" r="1.25"/>
<circle cx="196.17" cy="499.72" r="1.25"/>
<circle cx="190.55" cy="505.98" r="1.25"/>
<circle cx="190.41" cy="523.38" r="1.25"/>
<circle cx="184.32" cy="509.97" r="1.25"/>
<circle cx="172.85" cy="533.62" r="1.25"/>
<circle cx="195.26" cy="508.86" r="1.25"/>
<circle cx="192.2" cy="489.25" r="1.25"/>
<circle cx="207.62" cy="511.07" r="1.25"/>
<circle cx="208.5" cy="490.82" r="1.25"/>
<circle cx="136.87" cy="540.02" r="1.25"/>
<circle cx="166.79" cy="527.43" r="1.25"/>
<circle cx="95.51" cy="549.39" r="1.25"/>
<circle cx="173.83" cy="512.14" r="1.25"/>
<circle cx="190.69" cy="525.67" r="1.25"/>
<circle cx="157.74" cy="519.7" r="1.25"/>
<circle cx="199.71" cy="502.29" r="1.25"/>
<circle cx="203.26" cy="486.09" r="1.25"/>
<circle cx="183.48" cy="504.9" r="1.25"/>
<circle cx="191.88" cy="503.59" r="1.25"/>
<circle cx="179.69" cy="523.8" r="1.25"/>
<circle cx="248.04" cy="521.5" r="1.25"/>
<circle cx="220.64" cy="517.85" r="1.25"/>
<circle cx="173.03" cy="548.52" r="1.25"/>
<circle cx="200.35" cy="480.97" r="1.25"/>
<circle cx="140.96" cy="523.75" r="1.25"/>
<circle cx="188.79" cy="462.38" r="1.25"/>
<circle cx="144.96" cy="498.82" r="1.25"/>
<circle cx="101.95" cy="539.71" r="1.25"/>
<circle cx="180.79" cy="517.35" r="1.25"/>
<circle cx="243.75" cy="523.67" r="1.25"/>
<circle cx="138.86" cy="503.59" r="1.25"/>
<circle cx="188.41" cy="498.91" r="1.25"/>
<circle cx="161.38" cy="520.43" r="1.25"/>
<circle cx="205.86" cy="511.09" r="1.25"/>
<circle cx="109.55" cy="556.72" r="1.25"/>
<circle cx="90.83" cy="532.9" r="1.25"/>
<circle cx="247.41" cy="517.02" r="1.25"/>
<circle cx="181.18" cy="480.6" r="1.25"/>
<circle cx="161.48" cy="508.64" r="1.25"/>
<circle cx="162.25" cy="505.05" r="1.25"/>
<circle cx="161.84" cy="485.66" r="1.25"/>
<circle cx="125.41" cy="533.62" r="1.25"/>
<circle cx="151.14" cy="506.69" r="1.25"/>
<circle cx="149.46" cy="499.9" r="1.25"/>
<circle cx="140.25" cy="502.59" r="1.25"/>
<circle cx="118.33" cy="553.46" r="1.25"/>
<circle cx="98.14" cy="535.51" r="1.25"/>
<circle cx="132.46" cy="570.31" r="1.25"/>
<circle cx="133.87" cy="507.21" r="1.25"/>
<circle cx="179.37" cy="527.89" r="1.25"/>
<circle cx="151.55" cy="508.32" r="1.25"/>
<circle cx="143.05" cy="502.6" r="1.25"/>
<circle cx="170.2" cy="481.71" r="1.25"/>
<circle cx="166.58" cy="511.14" r="1.25"/>
<circle cx="148.07" cy="553.38" r="1.25"/>
<circle cx="162.29" cy="492.9" r="1.25"/>
<circle cx="204.86" cy="506.23" r="1.25"/>
<circle cx="122.21" cy="517.39" r="1.25"/>
<circle cx="217.84" cy="484.55" r="1.25"/>
<circle cx="164.2" cy="536.94" r="1.25"/>
<circle cx="169.2" cy="525.7" r="1.25"/>
<circle cx="237.6" cy="497.92" r="1.25"/>
<circle cx="204.16" cy="511.43" r="1.25"/>
<circle cx="78.08" cy="529.25" r="1.25"/>
<circle cx="191.28" cy="523.42" r="1.25"/>
<circle cx="184.38" cy="507.55" r="1.25"/>
<circle cx="132.8" cy="556.66" r="1.25"/>
<circle cx="173.88" cy="507.01" r="1.25"/>
<circle cx="203.1" cy="507.17" r="1.25"/>
<circle cx="126.5" cy="548.35" r="1.25"/>
<circle cx="200.61" cy="510.97" r="1.25"/>
<circle cx="197.29" cy="509.4" r="1.25"/>
<circle cx="141.55" cy="532.44" r="1.25"/>
<circle cx="160.26" cy="540.48" r="1.25"/>
<circle cx="181.16" cy="499.7" r="1.25"/>
<circle cx="226.67" cy="538.44" r="1.25"/>
<circle cx="249.02" cy="517.91" r="1.25"/>
<circle cx="174.63" cy="452.7" r="1.25"/>
<circle cx="170.08" cy="508.92" r="1.25"/>
<circle cx="173.68" cy="516.08" r="1.25"/>
<circle cx="137" cy="544.83" r="1.25"/>
<circle cx="221.39" cy="480.27" r="1.25"/>
<circle cx="243.11" cy="493.67" r="1.25"/>
<circle cx="208.5" cy="515.52" r="1.25"/>
<circle cx="190.41" cy="496.67" r="1.25"/>
<circle cx="200.25" cy="493.09" r="1.25"/>
<circle cx="139.9" cy="523.92" r="1.25"/>
<circle cx="162.9" cy="536.43" r="1.25"/>
<circle cx="194.2" cy="515.92" r="1.25"/>
<circle cx="119.41" cy="525.97" r="1.25"/>
<circle cx="168.42" cy="503.84" r="1.25"/>
<circle cx="144.84" cy="529.51" r="1.25"/>
<circle cx="188.74" cy="478.82" r="1.25"/>
<circle cx="175.74" cy="535.47" r="1.25"/>
<circle cx="152.81" cy="541.87" r="1.25"/>
<circle cx="179.38" cy="503.9" r="1.25"/>
<circle cx="187.77" cy="546.09" r="1.25"/>
<circle cx="129.72" cy="513.24" r="1.25"/>
<circle cx="130.74" cy="551.41" r="1.25"/>
<circle cx="177.46" cy="542.16" r="1.25"/>
<circle cx="159.94" cy="505.38" r="1.25"/>
<circle cx="223.04" cy="523.35" r="1.25"/>
<circle cx="112.88" cy="516.7" r="1.25"/>
<circle cx="135.94" cy="516.14" r="1.25"/>
<circle cx="193.32" cy="547.89" r="1.25"/>
<circle cx="212.96" cy="489.52" r="1.25"/>
<circle cx="168.44" cy="511.68" r="1.25"/>
<circle cx="191.88" cy="519.15" r="1.25"/>
<circle cx="136.34" cy="477.87" r="1.25"/>
<circle cx="161.59" cy="523.97" r="1.25"/>
<circle cx="226.46" cy="497.56" r="1.25"/>
<circle cx="168.24" cy="512.67" r="1.25"/>
<circle cx="197.06" cy="497.53" r="1.25"/>
<circle cx="127.83" cy="549.51" r="1.25"/>
<circle cx="190.15" cy="528.85" r="1.25"/>
<circle cx="167.75" cy="530.37" r="1.25"/>
<circle cx="156.5" cy="513.89" r="1.25"/>
<circle cx="217.55" cy="512.61" r="1.25"/>
<circle cx="120.7" cy="499.89" r="1.25"/>
<circle cx="184.95" cy="504.55" r="1.25"/>
<circle cx="136.71" cy="493.7" r="1.25"/>
<circle cx="164.55" cy="496.53" r="1.25"/>
<circle cx="204.18" cy="497.56" r="1.25"/>
<circle cx="179.72" cy="489.91" r="1.25"/>
<circle cx="150.37" cy="527.51" r="1.25"/>
<circle cx="159.56" cy="507.3" r="1.25"/>
<circle cx="190.61" cy="476.21" r="1.25"/>
<circle cx="198.13" cy="520.51" r="1.25"/>
<circle cx="184.75" cy="532.07" r="1.25"/>
<circle cx="116.43" cy="559.22" r="1.25"/>
<circle cx="140.41" cy="514.54" r="1.25"/>
<circle cx="190.22" cy="502.83" r="1.25"/>
<circle cx="152.61" cy="519.33" r="1.25"/>
<circle cx="125.83" cy="503.79" r="1.25"/>
<circle cx="128.58" cy="527.01" r="1.25"/>
<circle cx="232.04" cy="490.49" r="1.25"/>
<circle cx="155.46" cy="546.52" r="1.25"/>
<circle cx="176.8" cy="498.27" r="1.25"/>
<circle cx="95.73" cy="478.72" r="1.25"/>
<circle cx="142.14" cy="545.69" r="1.25"/>
<circle cx="151.24" cy="508.24" r="1.25"/>
<circle cx="119.9" cy="534.45" r="1.25"/>
<circle cx="164.31" cy="493.25" r="1.25"/>
<circle cx="214.78" cy="547.32" r="1.25"/>
<circle cx="211.41" cy="505.94" r="1.25"/>
<circle cx="92.01" cy="513.93" r="1.25"/>
<circle cx="128.84" cy="551.37" r="1.25"/>
<circle cx="139.47" cy="532.03" r="1.25"/>
<circle cx="230.45" cy="501.27" r="1.25"/>
<circle cx="144.09" cy="531.1" r="1.25"/>
<circle cx="145.36" cy="499.23" r="1.25"/>
<circle cx="190.79" cy="561.22" r="1.25"/>
<circle cx="194.73" cy="508.7" r="1.25"/>
<circle cx="172.33" cy="468.39" r="1.25"/>
<circle cx="166.4" cy="569.97" r="1.25"/>
<circle cx="211.42" cy="511.62" r="1.25"/>
<circle cx="98.48" cy="530.06" r="1.25"/>
<circle cx="153.32" cy="507.48" r="1.25"/>
<circle cx="218.45" cy="487.99" r="1.25"/>
<circle cx="96.02" cy="506.67" r="1.25"/>
<circle cx="162.48" cy="529.36" r="1.25"/>
<circle cx="147.53" cy="509.58" r="1.25"/>
<circle cx="153.25" cy="534.83" r="1.25"/>
<circle cx="278.49" cy="506.67" r="1.25"/>
<circle cx="148.6" cy="492.01" r="1.25"/>
<circle cx="92.38" cy="544.76" r="1.25"/>
<circle cx="157.29" cy="489.56" r="1.25"/>
<circle cx="229.18" cy="533.45" r="1.25"/>
<circle cx="156.66" cy="520.78" r="1.25"/>
<circle cx="173.89" cy="526.93" r="1.25"/>
<circle cx="132.35" cy="537.3" r="1.25"/>
<circle cx="155.6" cy="541.55" r="1.25"/>
<circle cx="149.92" cy="551.6" r="1.25"/>
<circle cx="144.02" cy="522.67" r="1.25"/>
<circle cx="129.38" cy="538.34" r="1.25"/>
<circle cx="202.39" cy="530.38" r="1.25"/>
<circle cx="183.34" cy="477.14" r="1.25"/>
<circle cx="118.51" cy="504.83" r="1.25"/>
<circle cx="190.05" cy="515.04" r="1.25"/>
<circle cx="135.84" cy="517.64" r="1.25"/>
<circle cx="277.51" cy="512.07" r="1.25"/>
<circle cx="192.35" cy="471.59" r="1.25"/>
<circle cx="227.23" cy="519.54" r="1.25"/>
<circle cx="151.87" cy="559.78" r="1.25"/>
<circle cx="70.89" cy="510.71" r="1.25"/>
<circle cx="216.87" cy="511.67" r="1.25"/>
<circle cx="203.2" cy="506.01" r="1.25"/>
<circle cx="209.46" cy="507.61" r="1.25"/>
<circle cx="200.41" cy="501.55" r="1.25"/>
<circle cx="177.31" cy="477.23" r="1.25"/>
<circle cx="233.1" cy="499.43" r="1.25"/>
<circle cx="191.83" cy="497.5" r="1.25"/>
<circle cx="176.37" cy="519.63" r="1.25"/>
<circle cx="198.87" cy="497.08" r="1.25"/>
<circle cx="178.08" cy="519.83" r="1.25"/>
<circle cx="103.05" cy="510.08" r="1.25"/>
<circle cx="64.69" cy="553.17" r="1.25"/>
<circle cx="170.27" cy="506.89" r="1.25"/>
<circle cx="128.36" cy="522.4" r="1.25"/>
<circle cx="154.52" cy="550.24" r="1.25"/>
<circle cx="136.52" cy="539.5" r="1.25"/>
<circle cx="208.04" cy="545.45" r="1.25"/>
<circle cx="154.44" cy="524.76" r="1.25"/>
<circle cx="152.51" cy="513.21" r="1.25"/>
<circle cx="135.21" cy="496.25" r="1.25"/>
<circle cx="183.8" cy="513.44" r="1.25"/>
<circle cx="148.77" cy="556.04" r="1.25"/>
<circle cx="189.99" cy="507.22" r="1.25"/>
<circle cx="199.74" cy="494.93" r="1.25"/>
<circle cx="206.46" cy="498.92" r="1.25"/>
<circle cx="125.8" cy="532.37" r="1.25"/>
<circle cx="155.57" cy="492.96" r="1.25"/>
<circle cx="173.66" cy="514.67" r="1.25"/>
<circle cx="180.58" cy="484.68" r="1.25"/>
<circle cx="123.04" cy="531.05" r="1.25"/>
<circle cx="185.83" cy="558.17" r="1.25"/>
<circle cx="183.97" cy="517.9" r="1.25"/>
<circle cx="233.85" cy="502.22" r="1.25"/>
<circle cx="160.28" cy="525.43" r="1.25"/>
<circle cx="190.65" cy="500.81" r="1.25"/>
<circle cx="167.4" cy="531.5" r="1.25"/>
<circle cx="123.84" cy="522.1" r="1.25"/>
<circle cx="182.96" cy="526.84" r="1.25"/>
<circle cx="194.13" cy="506.2" r="1.25"/>
<circle cx="227.58" cy="482.93" r="1.25"/>
<circle cx="170.48" cy="526.98" r="1.25"/>
<circle cx="166.54" cy="548.09" r="1.25"/>
<circle cx="213.17" cy="505.95" r="1.25"/>
<circle cx="128.03" cy="517.86" r="1.25"/>
<circle cx="175.43" cy="526.93" r="1.25"/>
<circle cx="211.2" cy="517.62" r="1.25"/>
<circle cx="149.72" cy="501.58" r="1.25"/>
<circle cx="173.46" cy="529.84" r="1.25"/>
<circle cx="203.18" cy="519.04" r="1.25"/>
<circle cx="234.53" cy="477.39" r="1.25"/>
<circle cx="161.79" cy="496.68" r="1.25"/>
<circle cx="220.58" cy="482.62" r="1.25"/>
<circle cx="177.56" cy="544.52" r="1.25"/>
<circle cx="202.58" cy="502.68" r="1.25"/>
<circle cx="217.44" cy="501.02" r="1.25"/>
<circle cx="173" cy="498.77" r="1.25"/>
<circle cx="175.22" cy="500.82" r="1.25"/>
<circle cx="163.5" cy="536.85" r="1.25"/>
<circle cx="112.74" cy="544.23" r="1.25"/>
<circle cx="102.49" cy="515.31" r="1.25"/>
<circle cx="169.99" cy="535.44" r="1.25"/>
<circle cx="148.85" cy="549.8" r="1.25"/>
<circle cx="182.79" cy="494.63" r="1.25"/>
<circle cx="209.78" cy="533.1" r="1.25"/>
<circle cx="174.61" cy="505.34" r="1.25"/>
<circle cx="237.13" cy="506.56" r="1.25"/>
<circle cx="171.09" cy="524.77" r="1.25"/>
<circle cx="235.5" cy="506.26" r="1.25"/>
<circle cx="111.37" cy="485.43" r="1.25"/>
<circle cx="154.04" cy="508.22" r="1.25"/>
<circle cx="171.91" cy="528.61" r="1.25"/>
<circle cx="167.12" cy="496.71" r="1.25"/>
<circle cx="138.98" cy="517.78" r="1.25"/>
<circle cx="136.46" cy="546.11" r="1.25"/>
<circle cx="125.43" cy="509.52" r="1.25"/>
<circle cx="164.57" cy="538.83" r="1.25"/>
<circle cx="208.68" cy="505.06" r="1.25"/>
<circle cx="150.76" cy="513.97" r="1.25"/>
<circle cx="224.31" cy="494.38" r="1.25"/>
<circle cx="123" cy="506.45" r="1.25"/>
<circle cx="153.78" cy="518.2" r="1.25"/>
<circle cx="98.09" cy="537.08" r="1.25"/>
<circle cx="146.87" cy="537.55" r="1.25"/>
<circle cx="244.9" cy="510.05" r="1.25"/>
<circle cx="174.33" cy="539.45" r="1.25"/>
<circle cx="204.03" cy="475.54" r="1.25"/>
<circle cx="222.4" cy="490.72" r="1.25"/>
<circle cx="198.51" cy="485.17" r="1.25"/>
<circle cx="159.63" cy="499.9" r="1.25"/>
<circle cx="191.79" cy="562.59" r="1.25"/>
<circle cx="241.06" cy="485.71" r="1.25"/>
<circle cx="130.62" cy="531.69" r="1.25"/>
<circle cx="138.43" cy="523.96" r="1.25"/>
<circle cx="91.57" cy="542.01" r="1.25"/>
<circle cx="170.09" cy="516.53" r="1.25"/>
<circle cx="217.89" cy="500.36" r="1.25"/>
<circle cx="175" cy="496.24" r="1.25"/>
<circle cx="178.28" cy="498.31" r="1.25"/>
<circle cx="191.98" cy="513.76" r="1.25"/>
<circle cx="252.64" cy="491.75" r="1.25"/>
<circle cx="174.72" cy="524.35" r="1.25"/>
<circle cx="136.06" cy="545.41" r="1.25"/>
<circle cx="195.65" cy="461.84" r="1.25"/>
<circle cx="116.7" cy="543.94" r="1.25"/>
<circle cx="189.13" cy="508.94" r="1.25"/>
<circle cx="214.97" cy="489.7" r="1.25"/>
<circle cx="166.57" cy="531.8" r="1.25"/>
<circle cx="160.56" cy="503.65" r="1.25"/>
<circle cx="176.45" cy="526.66" r="1.25"/>
<circle cx="218.59" cy="529.15" r="1.25"/>
<circle cx="174.13" cy="536.21" r="1.25"/>
<circle cx="189.04" cy="546.41" r="1.25"/>
<circle cx="210.95" cy="522.11" r="1.25"/>
<circle cx="146.96" cy="529.33" r="1.25"/>
<circle cx="155.74" cy="486.73" r="1.25"/>
<circle cx="230.74" cy="518.47" r="1.25"/>
<circle cx="177.91" cy="518.89" r="1.25"/>
<circle cx="129.41" cy="462.34" r="1.25"/>
<circle cx="179.56" cy="521.47" r="1.25"/>
<circle cx="184.45" cy="536.23" r="1.25"/>
<circle cx="170.35" cy="492.01" r="1.25"/>
<circle cx="165.88" cy="509.38" r="1.25"/>
<circle cx="120.17" cy="522.42" r="1.25"/>
<circle cx="258.61" cy="514.13" r="1.25"/>
<circle cx="150.2" cy="510.29" r="1.25"/>
<circle cx="200.37" cy="522.8" r="1.25"/>
<circle cx="203.36" cy="513.15" r="1.25"/>
<circle cx="141.3" cy="512.77" r="1.25"/>
<circle cx="190.39" cy="533.17" r="1.25"/>
<circle cx="183.69" cy="509.97" r="1.25"/>
<circle cx="133.24" cy="539.42" r="1.25"/>
<circle cx="206.29" cy="541.11" r="1.25"/>
<circle cx="212.09" cy="477.44" r="1.25"/>
<circle cx="155.31" cy="554.18" r="1.25"/>
<circle cx="98.16" cy="498.35" r="1.25"/>
<circle cx="198.8" cy="514.08" r="1.25"/>
<circle cx="198.3" cy="485.42" r="1.25"/>
<circle cx="165.7" cy="489.34" r="1.25"/>
<circle cx="113.18" cy="510.11" r="1.25"/>
<circle cx="100.54" cy="550.63" r="1.25"/>
<circle cx="208.09" cy="511.95" r="1.25"/>
<circle cx="187.56" cy="499.81" r="1.25"/>
<circle cx="172" cy="484.05" r="1.25"/>
<circle cx="133.16" cy="512.78" r="1.25"/>
<circle cx="179.05" cy="513.12" r="1.25"/>
<circle cx="199.54" cy="511.14" r="1.25"/>
<circle cx="188.74" cy="500.34" r="1.25"/>
<circle cx="126.16" cy="515.09" r="1.25"/>
<circle cx="275.78" cy="531.68" r="1.25"/>
<circle cx="177.4" cy="499.68" r="1.25"/>
<circle cx="187.05" cy="518.65" r="1.25"/>
<circle cx="148.73" cy="489.02" r="1.25"/>
<circle cx="206.99" cy="514.03" r="1.25"/>
<circle cx="238.95" cy="495.19" r="1.25"/>
<circle cx="193.48" cy="498.55" r="1.25"/>
<circle cx="211.26" cy="517.92" r="1.25"/>
<circle cx="179.23" cy="485.17" r="1.25"/>
<circle cx="242.98" cy="516.94" r="1.25"/>
<circle cx="95.28" cy="542.93" r="1.25"/>
<circle cx="135.29" cy="492.1" r="1.25"/>
<circle cx="144.53" cy="497.78" r="1.25"/>
<circle cx="262.93" cy="500.45" r="1.25"/>
<circle cx="186.97" cy="522.71" r="1.25"/>
<circle cx="134.63" cy="524.64" r="1.25"/>
<circle cx="182.19" cy="511.71" r="1.25"/>
<circle cx="192.97" cy="521.83" r="1.25"/>
<circle cx="119.83" cy="506.18" r="1.25"/>
<circle cx="209.19" cy="504.16" r="1.25"/>
<circle cx="119.08" cy="535.86" r="1.25"/>
<circle cx="176.34" cy="523.59" r="1.25"/>
<circle cx="145.34" cy="518.49" r="1.25"/>
<circle cx="158.85" cy="513.04" r="1.25"/>
<circle cx="168.41" cy="503.49" r="1.25"/>
<circle cx="120" cy="531.02" r="1.25"/>
<circle cx="192.98" cy="524.73" r="1.25"/>
<circle cx="189.74" cy="521.44" r="1.25"/>
<circle cx="119.9" cy="521.56" r="1.25"/>
<circle cx="183.59" cy="556.73" r="1.25"/>
<circle cx="146.31" cy="479.62" r="1.25"/>
<circle cx="154.95" cy="491.87" r="1.25"/>
<circle cx="157.47" cy="518.43" r="1.25"/>
<circle cx="178.98" cy="505.86" r="1.25"/>
<circle cx="166.54" cy="501.8" r="1.25"/>
<circle cx="165.35" cy="532.59" r="1.25"/>
<circle cx="154.49" cy="516.29" r="1.25"/>
<circle cx="193.45" cy="499.84" r="1.25"/>
<circle cx="146.05" cy="503.9" r="1.25"/>
<circle cx="186.37" cy="535.72" r="1.25"/>
<circle cx="72.08" cy="526.72" r="1.25"/>
<circle cx="222.04" cy="488.22" r="1.25"/>
<circle cx="169.66" cy="507.42" r="1.25"/>
<circle cx="176.02" cy="505.58" r="1.25"/>
<circle cx="124.41" cy="562.88" r="1.25"/>
<circle cx="142.76" cy="561.33" r="1.25"/>
<circle cx="139.42" cy="513.52" r="1.25"/>
<circle cx="142.69" cy="514.1" r="1.25"/>
<circle cx="187.06" cy="507.28" r="1.25"/>
<circle cx="182.63" cy="523.1" r="1.25"/>
<circle cx="187.31" cy="475.93" r="1.25"/>
<circle cx="214.56" cy="508.62" r="1.25"/>
<circle cx="181.91" cy="521.84" r="1.25"/>
<circle cx="236.62" cy="501.75" r="1.25"/>
<circle cx="147.89" cy="514.27" r="1.25"/>
<circle cx="217.92" cy="531.69" r="1.25"/>
<circle cx="177.58" cy="487.07" r="1.25"/>
<circle cx="179.15" cy="516.7" r="1.25"/>
<circle cx="139.7" cy="492.69" r="1.25"/>
<circle cx="190.46" cy="520.27" r="1.25"/>
<circle cx="166.97" cy="527.41" r="1.25"/>
<circle cx="184.38" cy="506.02" r="1.25"/>
<circle cx="155.46" cy="518.48" r="1.25"/>
<circle cx="204.93" cy="498.53" r="1.25"/>
<circle cx="172.34" cy="515.5" r="1.25"/>
<circle cx="157.09" cy="510.23" r="1.25"/>
<circle cx="133.98" cy="533.96" r="1.25"/>
<circle cx="167.46" cy="518.35" r="1.25"/>
<circle cx="174.13" cy="526.63" r="1.25"/>
<circle cx="191.45" cy="520.04" r="1.25"/>
<circle cx="194.11" cy="500.37" r="1.25"/>
<circle cx="187.46" cy="524.53" r="1.25"/>
<circle cx="147.88" cy="504.83" r="1.25"/>
<circle cx="203.73" cy="529.24" r="1.25"/>
<circle cx="101.19" cy="542.03" r="1.25"/>
<circle cx="174.58" cy="486.71" r="1.25"/>
<circle cx="184.18" cy="497.3" r="1.25"/>
<circle cx="277.14" cy="507.05" r="1.25"/>
<circle cx="155.46" cy="494.76" r="1.25"/>
<circle cx="245.79" cy="511.6" r="1.25"/>
<circle cx="110.86" cy="528.55" r="1.25"/>
<circle cx="217.31" cy="528.04" r="1.25"/>
<circle cx="93.7" cy="555.22" r="1.25"/>
<circle cx="82.8" cy="543.78" r="1.25"/>
<circle cx="181.61" cy="526.34" r="1.25"/>
<circle cx="158.89" cy="531.05" r="1.25"/>
<circle cx="157.39" cy="506.03" r="1.25"/>
<circle cx="105.24" cy="507.03" r="1.25"/>
<circle cx="145.29" cy="523.57" r="1.25"/>
<circle cx="170.6" cy="528.84" r="1.25"/>
<circle cx="213.8" cy="532.43" r="1.25"/>
<circle cx="152.03" cy="512.88" r="1.25"/>
<circle cx="135.14" cy="487.42" r="1.25"/>
<circle cx="221.06" cy="520.99" r="1.25"/>
<circle cx="203.33" cy="536.15" r="1.25"/>
<circle cx="220.98" cy="493.51" r="1.25"/>
<circle cx="179.56" cy="521.65" r="1.25"/>
<circle cx="179.24" cy="524.98" r="1.25"/>
<circle cx="159.47" cy="525.85" r="1.25"/>
<circle cx="118.3" cy="528.46" r="1.25"/>
<circle cx="167.21" cy="483.58" r="1.25"/>
<circle cx="217.9" cy="483.28" r="1.25"/>
<circle cx="74.32" cy="570.01" r="1.25"/>
<circle cx="117.61" cy="519.25" r="1.25"/>
<circle cx="147.74" cy="484.73" r="1.25"/>
<circle cx="141.66" cy="491.4" r="1.25"/>
<circle cx="185.85" cy="508.32" r="1.25"/>
<circle cx="190.8" cy="492.84" r="1.25"/>
<circle cx="175.97" cy="520.36" r="1.25"/>
<circle cx="200.89" cy="489.82" r="1.25"/>
<circle cx="204.89" cy="502.77" r="1.25"/>
<circle cx="172.64" cy="542.05" r="1.25"/>
<circle cx="188.47" cy="519.18" r="1.25"/>
<circle cx="172.93" cy="512.29" r="1.25"/>
<circle cx="177.65" cy="540.58" r="1.25"/>
<circle cx="254.76" cy="506.73" r="1.25"/>
<circle cx="152.98" cy="539" r="1.25"/>
<circle cx="184.85" cy="551.24" r="1.25"/>
<circle cx="169.48" cy="532.27" r="1.25"/>
<circle cx="143.66" cy="501.61" r="1.25"/>
<circle cx="123.76" cy="539.4" r="1.25"/>
<circle cx="163.87" cy="543.18" r="1.25"/>
<circle cx="126" cy="508.84" r="1.25"/>
<circle cx="152.85" cy="505.66" r="1.25"/>
<circle cx="147.56" cy="536.99" r="1.25"/>
<circle cx="140.78" cy="542.27" r="1.25"/>
<circle cx="215.65" cy="513.82" r="1.25"/>
<circle cx="153.65" cy="511.6" r="1.25"/>
<circle cx="120.3" cy="514.38" r="1.25"/>
<circle cx="164.09" cy="524.27" r="1.25"/>
<circle cx="216.57" cy="517.04" r="1.25"/>
<circle cx="191.55" cy="514.15" r="1.25"/>
<circle cx="180.72" cy="483.77" r="1.25"/>
<circle cx="175.15" cy="518.85" r="1.25"/>
<circle cx="157.14" cy="505.42" r="1.25"/>
<circle cx="137.53" cy="537.41" r="1.25"/>
<circle cx="147.35" cy="515.48" r="1.25"/>
<circle cx="195.38" cy="509.19" r="1.25"/>
<circle cx="169.7" cy="532.83" r="1.25"/>
<circle cx="189.6" cy="516.27" r="1.25"/>
<circle cx="205.91" cy="528.14" r="1.25"/>
<circle cx="181.77" cy="562.28" r="1.25"/>
<circle cx="177.28" cy="516.46" r="1.25"/>
<circle cx="128.45" cy="563.06" r="1.25"/>
<circle cx="136.69" cy="534.03" r="1.25"/>
<circle cx="190.53" cy="471.31" r="1.25"/>
<circle cx="177.19" cy="498.83" r="1.25"/>
<circle cx="235.67" cy="519.16" r="1.25"/>
<circle cx="171.12" cy="529.62" r="1.25"/>
<circle cx="160.64" cy="534.81" r="1.25"/>
<circle cx="234.22" cy="518.15" r="1.25"/>
<circle cx="161.32" cy="534.62" r="1.25"/>
<circle cx="216.31" cy="516.37" r="1.25"/>
<circle cx="185.1" cy="487.71" r="1.25"/>
<circle cx="155.48" cy="544.34" r="1.25"/>
<circle cx="218.95" cy="509.14" r="1.25"/>
<circle cx="197.74" cy="524.74" r="1.25"/>
<circle cx="237.13" cy="493.26" r="1.25"/>
<circle cx="159.64" cy="521.92" r="1.25"/>
<circle cx="124.36" cy="523.1" r="1.25"/>
<circle cx="155.91" cy="527.92" r="1.25"/>
<circle cx="166.77" cy="491.43" r="1.25"/>
<circle cx="179.36" cy="502.05" r="1.25"/>
<circle cx="214.47" cy="533.41" r="1.25"/>
<circle cx="170.7" cy="489.02" r="1.25"/>
<circle cx="200.57" cy="505.85" r="1.25"/>
<circle cx="163.07" cy="476.68" r="1.25"/>
<circle cx="146.66" cy="538.07" r="1.25"/>
<circle cx="185.37" cy="487.72" r="1.25"/>
<circle cx="166.84" cy="500.96" r="1.25"/>
<circle cx="179.95" cy="490.42" r="1.25"/>
<circle cx="230.79" cy="482.7" r="1.25"/>
<circle cx="87.5" cy="565.76" r="1.25"/>
<circle cx="117.13" cy="524.62" r="1.25"/>
<circle cx="214.76" cy="509.8" r="1.25"/>
<circle cx="149.3" cy="518.05" r="1.25"/>
<circle cx="152.02" cy="549.32" r="1.25"/>
<circle cx="179.56" cy="534.91" r="1.25"/>
<circle cx="165.62" cy="485.09" r="1.25"/>
<circle cx="134.9" cy="526.4" r="1.25"/>
<circle cx="214.46" cy="503.44" r="1.25"/>
<circle cx="121.73" cy="495.68" r="1.25"/>
<circle cx="158.04" cy="514.33" r="1.25"/>
<circle cx="168.91" cy="497.94" r="1.25"/>
<circle cx="127.03" cy="543.17" r="1.25"/>
<circle cx="132.82" cy="532.18" r="1.25"/>
<circle cx="229.55" cy="481.22" r="1.25"/>
<circle cx="144.08" cy="526.36" r="1.25"/>
<circle cx="152.17" cy="504.99" r="1.25"/>
<circle cx="116.73" cy="573.07" r="1.25"/>
<circle cx="193.67" cy="531.27" r="1.25"/>
<circle cx="181.24" cy="494.6" r="1.25"/>
<circle cx="111.21" cy="511.08" r="1.25"/>
<circle cx="166.06" cy="506.18" r="1.25"/>
<circle cx="120.45" cy="551.21" r="1.25"/>
<circle cx="144.66" cy="519.21" r="1.25"/>
<circle cx="203.93" cy="550.38" r="1.25"/>
<circle cx="65.61" cy="525.35" r="1.25"/>
<circle cx="145.44" cy="493.55" r="1.25"/>
<circle cx="169.48" cy="475.73" r="1.25"/>
<circle cx="228.85" cy="495.74" r="1.25"/>
<circle cx="269.64" cy="529.84" r="1.25"/>
<circle cx="251.84" cy="508.62" r="1.25"/>
<circle cx="229.32" cy="500.52" r="1.25"/>
<circle cx="202.32" cy="518.14" r="1.25"/>
<circle cx="136.07" cy="534.05" r="1.25"/>
<circle cx="147.95" cy="513.42" r="1.25"/>
<circle cx="221.42" cy="502.18" r="1.25"/>
<circle cx="137.46" cy="513.2" r="1.25"/>
<circle cx="181.02" cy="526.69" r="1.25"/>
<circle cx="108.7" cy="503.59" r="1.25"/>
<circle cx="153.86" cy="507.61" r="1.25"/>
<circle cx="210.26" cy="497.65" r="1.25"/>
<circle cx="153.34" cy="499.95" r="1.25"/>
<circle cx="221.02" cy="531.81" r="1.25"/>
<circle cx="140.87" cy="533.16" r="1.25"/>
<circle cx="150.82" cy="523.37" r="1.25"/>
<circle cx="186.62" cy="525.63" r="1.25"/>
<circle cx="218.37" cy="494.33" r="1.25"/>
<circle cx="185.95" cy="511.53" r="1.25"/>
<circle cx="124.2" cy="524.63" r="1.25"/>
<circle cx="149.84" cy="518.53" r="1.25"/>
<circle cx="156.64" cy="525.58" r="1.25"/>
<circle cx="214.16" cy="527.23" r="1.25"/>
<circle cx="149.12" cy="521.89" r="1.25"/>
<circle cx="145.79" cy="506.32" r="1.25"/>
<circle cx="189.01" cy="522.47" r="1.25"/>
<circle cx="118.49" cy="499.01" r="1.25"/>
<circle cx="131.47" cy="512.06" r="1.25"/>
<circle cx="171.06" cy="511.47" r="1.25"/>
<circle cx="165.22" cy="497.92" r="1.25"/>
<circle cx="152.13" cy="501.41" r="1.25"/>
<circle cx="139.24" cy="499" r="1.25"/>
<circle cx="219.58" cy="478.72" r="1.25"/>
<circle cx="163.37" cy="539.96" r="1.25"/>
<circle cx="177.05" cy="549.56" r="1.25"/>
<circle cx="158.24" cy="527.82" r="1.25"/>
<circle cx="176.76" cy="518.43" r="1.25"/>
<circle cx="134.69" cy="499.46" r="1.25"/>
<circle cx="173.14" cy="489.34" r="1.25"/>
<circle cx="160.43" cy="489.24" r="1.25"/>
<circle cx="160.7" cy="532.89" r="1.25"/>
<circle cx="197.34" cy="481.25" r="1.25"/>
<circle cx="196.06" cy="501.48" r="1.25"/>
<circle cx="189.81" cy="516.2" r="1.25"/>
<circle cx="182.06" cy="511.7" r="1.25"/>
<circle cx="212.84" cy="492.62" r="1.25"/>
<circle cx="147.3" cy="535.49" r="1.25"/>
<circle cx="180.26" cy="521.99" r="1.25"/>
<circle cx="185.32" cy="502.69" r="1.25"/>
<circle cx="152.04" cy="521.07" r="1.25"/>
<circle cx="197.78" cy="501.18" r="1.25"/>
<circle cx="215.94" cy="489.79" r="1.25"/>
<circle cx="152.38" cy="515.91" r="1.25"/>
<circle cx="219.22" cy="483.47" r="1.25"/>
<circle cx="176.46" cy="520.02" r="1.25"/>
<circle cx="257.01" cy="490.73" r="1.25"/>
<circle cx="148.18" cy="506.31" r="1.25"/>
<circle cx="147.95" cy="508.54" r="1.25"/>
<circle cx="107.94" cy="493.38" r="1.25"/>
<circle cx="187.62" cy="548.99" r="1.25"/>
<circle cx="157.07" cy="542.45" r="1.25"/>
<circle cx="196.48" cy="527.74" r="1.25"/>
<circle cx="120.83" cy="536.25" r="1.25"/>
<circle cx="140.5" cy="524.96" r="1.25"/>
<circle cx="171.18" cy="551.23" r="1.25"/>
<circle cx="123.48" cy="503.66" r="1.25"/>
<circle cx="135.49" cy="479.44" r="1.25"/>
<circle cx="144.58" cy="548.44" r="1.25"/>
<circle cx="139.36" cy="547.7" r="1.25"/>
<circle cx="176.09" cy="523.42" r="1.25"/>
<circle cx="140.32" cy="574.43" r="1.25"/>
<circle cx="187.29" cy="499.56" r="1.25"/>
<circle cx="159.56" cy="530.91" r="1.25"/>
<circle cx="130.84" cy="553.15" r="1.25"/>
<circle cx="169.21" cy="518.14" r="1.25"/>
<circle cx="119.83" cy="553.48" r="1.25"/>
<circle cx="177.05" cy="486.36" r="1.25"/>
<circle cx="167.5" cy="507.92" r="1.25"/>
<circle cx="167.69" cy="508.78" r="1.25"/>
<circle cx="148.28" cy="537.16" r="1.25"/>
<circle cx="155.15" cy="498.35" r="1.25"/>
<circle cx="219.24" cy="493.59" r="1.25"/>
<circle cx="181.21" cy="521.84" r="1.25"/>
<circle cx="135.5" cy="468.64" r="1.25"/>
<circle cx="166.15" cy="529.95" r="1.25"/>
<circle cx="137.11" cy="539.6" r="1.25"/>
<circle cx="78.19" cy="541.67" r="1.25"/>
<circle cx="184.75" cy="535.5" r="1.25"/>
<circle cx="119.23" cy="557.54" r="1.25"/>
<circle cx="194.81" cy="502.37" r="1.25"/>
<circle cx="157.73" cy="517.51" r="1.25"/>
<circle cx="232.94" cy="531.15" r="1.25"/>
<circle cx="99.07" cy="516.56" r="1.25"/>
<circle cx="147.43" cy="521.35" r="1.25"/>
<circle cx="133.05" cy="526.89" r="1.25"/>
<circle cx="113.39" cy="508.73" r="1.25"/>
<circle cx="152.05" cy="537.19" r="1.25"/>
<circle cx="204.06" cy="515.84" r="1.25"/>
<circle cx="155.89" cy="535.01" r="1.25"/>
<circle cx="162.1" cy="443.41" r="1.25"/>
<circle cx="104.13" cy="531.73" r="1.25"/>
<circle cx="170.65" cy="518.97" r="1.25"/>
<circle cx="215.59" cy="506.79" r="1.25"/>
<circle cx="117.86" cy="504.74" r="1.25"/>
<circle cx="188.68" cy="496.63" r="1.25"/>
<circle cx="166.65" cy="545.22" r="1.25"/>
<circle cx="196.72" cy="524.72" r="1.25"/>
<circle cx="146.42" cy="544.32" r="1.25"/>
<circle cx="169.97" cy="529.6" r="1.25"/>
<circle cx="153.48" cy="509.97" r="1.25"/>
<circle cx="228.62" cy="504.06" r="1.25"/>
<circle cx="238.99" cy="501.96" r="1.25"/>
<circle cx="224.47" cy="552.36" r="1.25"/>
<circle cx="178.78" cy="532.44" r="1.25"/>
<circle cx="133.64" cy="534.09" r="1.25"/>
<circle cx="198.61" cy="525.15" r="1.25"/>
<circle cx="165.28" cy="532.58" r="1.25"/>
<circle cx="162" cy="494.14" r="1.25"/>
<circle cx="198.18" cy="478.3" r="1.25"/>
<circle cx="168.01" cy="509.26" r="1.25"/>
<circle cx="162.43" cy="499.61" r="1.25"/>
<circle cx="121.32" cy="486.8" r="1.25"/>
<circle cx="131.7" cy="521.18" r="1.25"/>
<circle cx="135.31" cy="517.28" r="1.25"/>
<circle cx="190.24" cy="522.76" r="1.25"/>
<circle cx="140.72" cy="537.88" r="1.25"/>
<circle cx="138.91" cy="512.89" r="1.25"/>
<circle cx="179.31" cy="508.35" r="1.25"/>
<circle cx="118.29" cy="488.72" r="1.25"/>
<circle cx="154.18" cy="497.37" r="1.25"/>
<circle cx="119.27" cy="544.34" r="1.25"/>
<circle cx="171.02" cy="486.4" r="1.25"/>
<circle cx="184.04" cy="534.86" r="1.25"/>
<circle cx="204.15" cy="488.03" r="1.25"/>
<circle cx="112.49" cy="503.87" r="1.25"/>
<circle cx="203.39" cy="496.37" r="1.25"/>
<circle cx="187" cy="539.92" r="1.25"/>
<circle cx="193.4" cy="522.19" r="1.25"/>
<circle cx="201.52" cy="489.59" r="1.25"/>
<circle cx="156.87" cy="529.68" r="1.25"/>
<circle cx="200.44" cy="532.91" r="1.25"/>
<circle cx="218.17" cy="503.57" r="1.25"/>
<circle cx="127.68" cy="541.85" r="1.25"/>
<circle cx="145.39" cy="526.67" r="1.25"/>
<circle cx="177.58" cy="496.22" r="1.25"/>
<circle cx="284.71" cy="502.26" r="1.25"/>
<circle cx="108.78" cy="489.12" r="1.25"/>
<circle cx="195.76" cy="513.14" r="1.25"/>
<circle cx="108.2" cy="544" r="1.25"/>
<circle cx="196.96" cy="515.3" r="1.25"/>
<circle cx="234.84" cy="519.81" r="1.25"/>
<circle cx="244.54" cy="507.73" r="1.25"/>
<circle cx="196.67" cy="562.24" r="1.25"/>
<circle cx="186.15" cy="499.57" r="1.25"/>
<circle cx="203.97" cy="461.9" r="1.25"/>
<circle cx="143.41" cy="503.95" r="1.25"/>
<circle cx="187.53" cy="498.46" r="1.25"/>
<circle cx="176.89" cy="519.67" r="1.25"/>
<circle cx="174.48" cy="528.89" r="1.25"/>
<circle cx="154.09" cy="467.87" r="1.25"/>
<circle cx="94.13" cy="489.52" r="1.25"/>
<circle cx="140.81" cy="509.4" r="1.25"/>
<circle cx="177.43" cy="510.01" r="1.25"/>
<circle cx="231.25" cy="528.54" r="1.25"/>
<circle cx="139.88" cy="504.38" r="1.25"/>
<circle cx="173.45" cy="499.4" r="1.25"/>
<circle cx="182.47" cy="485.06" r="1.25"/>
<circle cx="199.83" cy="484.44" r="1.25"/>
<circle cx="164.01" cy="543.8" r="1.25"/>
<circle cx="175.06" cy="526.76" r="1.25"/>
<circle cx="157.22" cy="501.24" r="1.25"/>
<circle cx="171.21" cy="495.33" r="1.25"/>
<circle cx="128.85" cy="506.17" r="1.25"/>
<circle cx="256.43" cy="550.11" r="1.25"/>
<circle cx="119.03" cy="502.16" r="1.25"/>
<circle cx="196.7" cy="512.41" r="1.25"/>
<circle cx="170.69" cy="531.82" r="1.25"/>
<circle cx="133.96" cy="559.4" r="1.25"/>
<circle cx="194.58" cy="488.22" r="1.25"/>
<circle cx="195.24" cy="520.04" r="1.25"/>
<circle cx="232.97" cy="494.88" r="1.25"/>
<circle cx="134.91" cy="508.67" r="1.25"/>
<circle cx="182.83" cy="494.11" r="1.25"/>
<circle cx="201.52" cy="478.21" r="1.25"/>
<circle cx="192.26" cy="498.33" r="1.25"/>
<circle cx="212.15" cy="548.59" r="1.25"/>
<circle cx="118.15" cy="485.43" r="1.25"/>
<circle cx="102.53" cy="569.31" r="1.25"/>
<circle cx="157.98" cy="524.2" r="1.25"/>
<circle cx="248.19" cy="479.54" r="1.25"/>
<circle cx="249.84" cy="481.29" r="1.25"/>
<circle cx="203.17" cy="522.64" r="1.25"/>
<circle cx="150.48" cy="503.64" r="1.25"/>
<circle cx="196.45" cy="511.34" r="1.25"/>
<circle cx="158.16" cy="493.8" r="1.25"/>
<circle cx="168.83" cy="540.82" r="1.25"/>
<circle cx="155.47" cy="521.67" r="1.25"/>
<circle cx="194.94" cy="505.14" r="1.25"/>
<circle cx="104.74" cy="507.27" r="1.25"/>
<circle cx="183.26" cy="538.5" r="1.25"/>
<circle cx="122.34" cy="541.01" r="1.25"/>
<circle cx="187.85" cy="509.77" r="1.25"/>
<circle cx="183.3" cy="501.27" r="1.25"/>
<circle cx="137.32" cy="515.19" r="1.25"/>
<circle cx="179.25" cy="494.45" r="1.25"/>
<circle cx="162.79" cy="534.68" r="1.25"/>
<circle cx="174.5" cy="524.77" r="1.25"/>
<circle cx="216.57" cy="493.32" r="1.25"/>
<circle cx="220.83" cy="483.39" r="1.25"/>
<circle cx="102.36" cy="520" r="1.25"/>
<circle cx="150.03" cy="514.77" r="1.25"/>
<circle cx="94.69" cy="539.73" r="1.25"/>
<circle cx="149.85" cy="515.03" r="1.25"/>
<circle cx="150.55" cy="534.26" r="1.25"/>
<circle cx="156.51" cy="524.73" r="1.25"/>
<circle cx="137.15" cy="533.08" r="1.25"/>
<circle cx="218.86" cy="495.97" r="1.25"/>
<circle cx="146.59" cy="568.8" r="1.25"/>
<circle cx="174.18" cy="516.59" r="1.25"/>
<circle cx="185.47" cy="479.52" r="1.25"/>
<circle cx="75.29" cy="531.73" r="1.25"/>
<circle cx="164.58" cy="516.5" r="1.25"/>
<circle cx="119.94" cy="553.6" r="1.25"/>
<circle cx="185.31" cy="485.16" r="1.25"/>
<circle cx="81.23" cy="500.24" r="1.25"/>
<circle cx="219.93" cy="489.22" r="1.25"/>
<circle cx="145.92" cy="543.88" r="1.25"/>
<circle cx="204.95" cy="535.55" r="1.25"/>
<circle cx="171.09" cy="523.35" r="1.25"/>
<circle cx="207.26" cy="536.21" r="1.25"/>
<circle cx="102.49" cy="503.05" r="1.25"/>
<circle cx="161.29" cy="543.23" r="1.25"/>
<circle cx="190.19" cy="517.52" r="1.25"/>
<circle cx="212.08" cy="478.56" r="1.25"/>
<circle cx="134.02" cy="502.37" r="1.25"/>
<circle cx="131.81" cy="540.07" r="1.25"/>
<circle cx="142.68" cy="520.98" r="1.25"/>
<circle cx="168.63" cy="506.87" r="1.25"/>
<circle cx="95.98" cy="539.85" r="1.25"/>
<circle cx="170.86" cy="495.42" r="1.25"/>
<circle cx="157.08" cy="551.56" r="1.25"/>
<circle cx="186.36" cy="525.07" r="1.25"/>
<circle cx="196.59" cy="512.47" r="1.25"/>
<circle cx="169.37" cy="498.55" r="1.25"/>
<circle cx="165.46" cy="532.65" r="1.25"/>
<circle cx="125.86" cy="507.29" r="1.25"/>
<circle cx="258.45" cy="519.43" r="1.25"/>
<circle cx="179.66" cy="503.39" r="1.25"/>
<circle cx="260.29" cy="495.94" r="1.25"/>
<circle cx="210.94" cy="479.94" r="1.25"/>
<circle cx="153.56" cy="487.01" r="1.25"/>
<circle cx="130.02" cy="534.32" r="1.25"/>
<circle cx="212.42" cy="519.46" r="1.25"/>
<circle cx="130.03" cy="533.47" r="1.25"/>
<circle cx="205.18" cy="524.73" r="1.25"/>
<circle cx="182.65" cy="505.69" r="1.25"/>
<circle cx="181.92" cy="533.14" r="1.25"/>
<circle cx="162.92" cy="513.24" r="1.25"/>
<circle cx="164.19" cy="529.49" r="1.25"/>
<circle cx="218.01" cy="496.58" r="1.25"/>
<circle cx="103.94" cy="559.4" r="1.25"/>
<circle cx="136.32" cy="500.14" r="1.25"/>
<circle cx="151.41" cy="526.38" r="1.25"/>
<circle cx="148.17" cy="497.31" r="1.25"/>
<circle cx="181.71" cy="497.69" r="1.25"/>
<circle cx="150.6" cy="527.64" r="1.25"/>
<circle cx="118.35" cy="516.87" r="1.25"/>
<circle cx="159.85" cy="541.5" r="1.25"/>
<circle cx="118.63" cy="529.97" r="1.25"/>
<circle cx="201.59" cy="506.39" r="1.25"/>
<circle cx="215.79" cy="527.97" r="1.25"/>
<circle cx="236.45" cy="497.66" r="1.25"/>
<circle cx="195.41" cy="492.77" r="1.25"/>
<circle cx="160.02" cy="469.6" r="1.25"/>
<circle cx="186.83" cy="513.24" r="1.25"/>
<circle cx="132.03" cy="503.8" r="1.25"/>
<circle cx="194.67" cy="516.16" r="1.25"/>
<circle cx="239.71" cy="500.83" r="1.25"/>
<circle cx="149.28" cy="504.27" r="1.25"/>
<circle cx="138.01" cy="509.4" r="1.25"/>
<circle cx="176.91" cy="542.5" r="1.25"/>
<circle cx="231.37" cy="516.07" r="1.25"/>
<circle cx="170.55" cy="536.13" r="1.25"/>
<circle cx="197.68" cy="468.91" r="1.25"/>
<circle cx="168.69" cy="521.2" r="1.25"/>
<circle cx="155.19" cy="497.6" r="1.25"/>
<circle cx="197.77" cy="539.78" r="1.25"/>
<circle cx="210.49" cy="504.96" r="1.25"/>
<circle cx="119.99" cy="516.02" r="1.25"/>
<circle cx="136.49" cy="520.97" r="1.25"/>
<circle cx="158.25" cy="507.73" r="1.25"/>
<circle cx="207.61" cy="532.45" r="1.25"/>
<circle cx="142.65" cy="544.3" r="1.25"/>
<circle cx="91.82" cy="560.61" r="1.25"/>
<circle cx="131.39" cy="519.63" r="1.25"/>
<circle cx="206.34" cy="521.61" r="1.25"/>
<circle cx="190.78" cy="481.68" r="1.25"/>
<circle cx="193.74" cy="518.94" r="1.25"/>
<circle cx="174.64" cy="495.6" r="1.25"/>
<circle cx="162.07" cy="541.83" r="1.25"/>
<circle cx="222.6" cy="495.6" r="1.25"/>
<circle cx="131.66" cy="519.19" r="1.25"/>
<circle cx="202.89" cy="536.41" r="1.25"/>
<circle cx="150.63" cy="480.96" r="1.25"/>
<circle cx="132.91" cy="545.92" r="1.25"/>
<circle cx="153.97" cy="521.62" r="1.25"/>
<circle cx="182.42" cy="499.17" r="1.25"/>
<circle cx="158.67" cy="512.08" r="1.25"/>
<circle cx="149.76" cy="507.92" r="1.25"/>
<circle cx="129.8" cy="483.48" r="1.25"/>
<circle cx="248.13" cy="531.62" r="1.25"/>
<circle cx="115.11" cy="511.41" r="1.25"/>
<circle cx="230.33" cy="524.91" r="1.25"/>
<circle cx="221.69" cy="506.48" r="1.25"/>
<circle cx="193.02" cy="495.18" r="1.25"/>
<circle cx="159.87" cy="551.39" r="1.25"/>
<circle cx="170.26" cy="536.74" r="1.25"/>
<circle cx="150.26" cy="502.98" r="1.25"/>
<circle cx="71.18" cy="554.35" r="1.25"/>
<circle cx="159.9" cy="520.59" r="1.25"/>
<circle cx="103.53" cy="543.76" r="1.25"/>
<circle cx="189.42" cy="493.59" r="1.25"/>
<circle cx="262.84" cy="515.55" r="1.25"/>
<circle cx="167.23" cy="495.6" r="1.25"/>
<circle cx="145.78" cy="513.72" r="1.25"/>
<circle cx="200.13" cy="531.55" r="1.25"/>
<circle cx="145.89" cy="531.04" r="1.25"/>
<circle cx="176.77" cy="527.21" r="1.25"/>
<circle cx="205.71" cy="534.1" r="1.25"/>
<circle cx="159.72" cy="497.77" r="1.25"/>
<circle cx="177.28" cy="538.24" r="1.25"/>
<circle cx="169.8" cy="504.8" r="1.25"/>
<circle cx="142.29" cy="528.63" r="1.25"/>
<circle cx="184.97" cy="546.44" r="1.25"/>
<circle cx="166.67" cy="489.5" r="1.25"/>
<circle cx="177.51" cy="549.76" r="1.25"/>
<circle cx="180.21" cy="526.92" r="1.25"/>
<circle cx="221.57" cy="509.07" r="1.25"/>
<circle cx="202.82" cy="543.71" r="1.25"/>
<circle cx="73.16" cy="523.17" r="1.25"/>
<circle cx="112.9" cy="515.56" r="1.25"/>
<circle cx="194.27" cy="506.12" r="1.25"/>
<circle cx="254.37" cy="487.19" r="1.25"/>
<circle cx="70.22" cy="523.09" r="1.25"/>
<circle cx="104.29" cy="499.79" r="1.25"/>
<circle cx="163.79" cy="509.02" r="1.25"/>
<circle cx="227.85" cy="509.7" r="1.25"/>
<circle cx="234.97" cy="485.25" r="1.25"/>
<circle cx="176.6" cy="512.99" r="1.25"/>
<circle cx="152.26" cy="502.78" r="1.25"/>
<circle cx="126.44" cy="472.07" r="1.25"/>
<circle cx="166.85" cy="507.19" r="1.25"/>
<circle cx="110.36" cy="524.12" r="1.25"/>
<circle cx="116.82" cy="538.9" r="1.25"/>
<circle cx="80.13" cy="557.19" r="1.25"/>
<circle cx="153.57" cy="544.95" r="1.25"/>
<circle cx="120.62" cy="540.53" r="1.25"/>
<circle cx="195.66" cy="513.48" r="1.25"/>
<circle cx="165.98" cy="511.24" r="1.25"/>
<circle cx="186.72" cy="500.04" r="1.25"/>
<circle cx="70.87" cy="535.72" r="1.25"/>
<circle cx="196.67" cy="498.91" r="1.25"/>
<circle cx="189.46" cy="553.35" r="1.25"/>
<circle cx="107.47" cy="535.51" r="1.25"/>
<circle cx="203.6" cy="544.88" r="1.25"/>
<circle cx="111.97" cy="525.3" r="1.25"/>
<circle cx="236.37" cy="489.93" r="1.25"/>
<circle cx="168.33" cy="508.17" r="1.25"/>
<circle cx="140.54" cy="509.39" r="1.25"/>
<circle cx="164.81" cy="538.24" r="1.25"/>
<circle cx="188.78" cy="508.34" r="1.25"/>
<circle cx="105.16" cy="545.05" r="1.25"/>
<circle cx="133.61" cy="502.92" r="1.25"/>
<circle cx="176.15" cy="502.52" r="1.25"/>
<circle cx="105.44" cy="554.67" r="1.25"/>
<circle cx="131.69" cy="516.81" r="1.25"/>
<circle cx="170.82" cy="515.7" r="1.25"/>
<circle cx="110.36" cy="545.17" r="1.25"/>
<circle cx="149.56" cy="522.61" r="1.25"/>
<circle cx="221.27" cy="508.65" r="1.25"/>
<circle cx="67.61" cy="531.68" r="1.25"/>
<circle cx="128.06" cy="518.55" r="1.25"/>
<circle cx="204.47" cy="493.4" r="1.25"/>
<circle cx="207.32" cy="530.32" r="1.25"/>
<circle cx="149.98" cy="488.27" r="1.25"/>
<circle cx="168.97" cy="500.5" r="1.25"/>
<circle cx="156.77" cy="529.4" r="1.25"/>
<circle cx="204.52" cy="533.05" r="1.25"/>
<circle cx="195.27" cy="531.48" r="1.25"/>
<circle cx="163.36" cy="495.96" r="1.25"/>
<circle cx="147.78" cy="478.05" r="1.25"/>
<circle cx="181.16" cy="507.15" r="1.25"/>
<circle cx="192.98" cy="528.39" r="1.25"/>
<circle cx="195.55" cy="498.27" r="1.25"/>
<circle cx="198.61" cy="506.6" r="1.25"/>
<circle cx="225.92" cy="478.72" r="1.25"/>
<circle cx="165.8" cy="500.14" r="1.25"/>
<circle cx="124.48" cy="531.21" r="1.25"/>
<circle cx="62.92" cy="549.46" r="1.25"/>
<circle cx="120.41" cy="510.71" r="1.25"/>
<circle cx="185.57" cy="543.13" r="1.25"/>
<circle cx="89.55" cy="557.27" r="1.25"/>
<circle cx="245.86" cy="512.42" r="1.25"/>
<circle cx="168.67" cy="498.27" r="1.25"/>
<circle cx="209.98" cy="477.17" r="1.25"/>
<circle cx="123.63" cy="509.76" r="1.25"/>
<circle cx="148.9" cy="540.18" r="1.25"/>
<circle cx="167.52" cy="501.72" r="1.25"/>
<circle cx="108.11" cy="546.93" r="1.25"/>
<circle cx="185.65" cy="506.62" r="1.25"/>
<circle cx="205.71" cy="510.01" r="1.25"/>
<circle cx="154.74" cy="481.94" r="1.25"/>
<circle cx="101.76" cy="545.57" r="1.25"/>
<circle cx="207.76" cy="526.23" r="1.25"/>
<circle cx="152.16" cy="492.51" r="1.25"/>
<circle cx="195.73" cy="533.88" r="1.25"/>
<circle cx="239.01" cy="532.39" r="1.25"/>
<circle cx="214.08" cy="487.3" r="1.25"/>
<circle cx="155.29" cy="493.16" r="1.25"/>
<circle cx="172.51" cy="504.12" r="1.25"/>
<circle cx="193.22" cy="508.14" r="1.25"/>
<circle cx="130.59" cy="512.64" r="1.25"/>
<circle cx="208.02" cy="493.94" r="1.25"/>
<circle cx="148.01" cy="526.05" r="1.25"/>
<circle cx="191.05" cy="524.25" r="1.25"/>
<circle cx="250.63" cy="486.66" r="1.25"/>
<circle cx="123.73" cy="568.82" r="1.25"/>
<circle cx="175.87" cy="520.23" r="1.25"/>
<circle cx="124.83" cy="553.31" r="1.25"/>
<circle cx="146.5" cy="502.39" r="1.25"/>
<circle cx="181.59" cy="535.88" r="1.25"/>
<circle cx="212.69" cy="527.29" r="1.25"/>
<circle cx="151.06" cy="496.24" r="1.25"/>
<circle cx="101.61" cy="512.82" r="1.25"/>
<circle cx="182.29" cy="505" r="1.25"/>
<circle cx="149.54" cy="553.33" r="1.25"/>
<circle cx="134.73" cy="496.99" r="1.25"/>
<circle cx="169.39" cy="486.19" r="1.25"/>
<circle cx="225.34" cy="480.34" r="1.25"/>
<circle cx="193.5" cy="515.35" r="1.25"/>
<circle cx="156.15" cy="498.92" r="1.25"/>
<circle cx="148.61" cy="506.04" r="1.25"/>
<circle cx="219.49" cy="516.26" r="1.25"/>
<circle cx="142.26" cy="523.35" r="1.25"/>
<circle cx="161.55" cy="516.94" r="1.25"/>
<circle cx="215.68" cy="516.85" r="1.25"/>
<circle cx="154.44" cy="528.51" r="1.25"/>
<circle cx="210.15" cy="513.31" r="1.25"/>
<circle cx="109.83" cy="493.05" r="1.25"/>
<circle cx="161.42" cy="499.36" r="1.25"/>
<circle cx="174.47" cy="517.37" r="1.25"/>
<circle cx="141.76" cy="526.66" r="1.25"/>
<circle cx="143.96" cy="555.44" r="1.25"/>
<circle cx="133.77" cy="498.47" r="1.25"/>
<circle cx="115.44" cy="539.8" r="1.25"/>
<circle cx="189.08" cy="503.58" r="1.25"/>
<circle cx="166.06" cy="536.37" r="1.25"/>
<circle cx="137.03" cy="524.88" r="1.25"/>
<circle cx="113.11" cy="555.07" r="1.25"/>
<circle cx="158.02" cy="518.96" r="1.25"/>
<circle cx="238.49" cy="508.3" r="1.25"/>
<circle cx="152.55" cy="524.36" r="1.25"/>
<circle cx="218.63" cy="509.21" r="1.25"/>
<circle cx="231.09" cy="511.17" r="1.25"/>
<circle cx="227.39" cy="521.29" r="1.25"/>
<circle cx="209.1" cy="504.77" r="1.25"/>
<circle cx="162.54" cy="492.53" r="1.25"/>
<circle cx="183.31" cy="463.74" r="1.25"/>
<circle cx="222.12" cy="512.99" r="1.25"/>
<circle cx="205.86" cy="503.26" r="1.25"/>
<circle cx="218.79" cy="535.52" r="1.25"/>
<circle cx="166.38" cy="542.18" r="1.25"/>
<circle cx="182.93" cy="510.8" r="1.25"/>
<circle cx="135.39" cy="532.3" r="1.25"/>
<circle cx="217.39" cy="504.86" r="1.25"/>
<circle cx="188.14" cy="517.24" r="1.25"/>
<circle cx="97.43" cy="519.86" r="1.25"/>
<circle cx="158.74" cy="523.53" r="1.25"/>
<circle cx="190.24" cy="479.12" r="1.25"/>
<circle cx="213.6" cy="502.6" r="1.25"/>
<circle cx="161.11" cy="553.35" r="1.25"/>
<circle cx="125.98" cy="503.62" r="1.25"/>
<circle cx="164.75" cy="546.83" r="1.25"/>
<circle cx="189.48" cy="520.03" r="1.25"/>
<circle cx="187.2" cy="533.71" r="1.25"/>
<circle cx="160.38" cy="520.14" r="1.25"/>
<circle cx="189.49" cy="525.54" r="1.25"/>
<circle cx="170.92" cy="548.46" r="1.25"/>
<circle cx="160.96" cy="508.46" r="1.25"/>
<circle cx="128.99" cy="507.8" r="1.25"/>
<circle cx="99.49" cy="522.43" r="1.25"/>
<circle cx="166.84" cy="496.65" r="1.25"/>
<circle cx="92.32" cy="510.82" r="1.25"/>
<circle cx="182.62" cy="497.83" r="1.25"/>
<circle cx="205.73" cy="537.7" r="1.25"/>
<circle cx="249.16" cy="511.29" r="1.25"/>
<circle cx="71.82" cy="537.46" r="1.25"/>
<circle cx="151.94" cy="521.63" r="1.25"/>
<circle cx="188.62" cy="530.18" r="1.25"/>
<circle cx="129.2" cy="504.29" r="1.25"/>
<circle cx="134.97" cy="514.38" r="1.25"/>
<circle cx="180.26" cy="505.75" r="1.25"/>
<circle cx="140.21" cy="522.02" r="1.25"/>
<circle cx="250.28" cy="493.53" r="1.25"/>
<circle cx="198.99" cy="497.41" r="1.25"/>
<circle cx="156.74" cy="534" r="1.25"/>
<circle cx="200.27" cy="530.95" r="1.25"/>
<circle cx="158.05" cy="532.79" r="1.25"/>
<circle cx="218.28" cy="518.27" r="1.25"/>
<circle cx="146.26" cy="499.91" r="1.25"/>
<circle cx="213.44" cy="495.27" r="1.25"/>
<circle cx="111.46" cy="546.88" r="1.25"/>
<circle cx="177.05" cy="510.87" r="1.25"/>
<circle cx="178.47" cy="511.96" r="1.25"/>
<circle cx="152.17" cy="531.52" r="1.25"/>
<circle cx="118.15" cy="495.12" r="1.25"/>
<circle cx="167.64" cy="533.54" r="1.25"/>
<circle cx="197.66" cy="499.4" r="1.25"/>
<circle cx="210.39" cy="552.8" r="1.25"/>
<circle cx="153.21" cy="493.96" r="1.25"/>
<circle cx="245.23" cy="532.46" r="1.25"/>
<circle cx="152.61" cy="491.96" r="1.25"/>
<circle cx="188.11" cy="531.2" r="1.25"/>
<circle cx="147.59" cy="503.84" r="1.25"/>
<circle cx="76.54" cy="488.64" r="1.25"/>
<circle cx="162.42" cy="508.57" r="1.25"/>
<circle cx="228.1" cy="536.2" r="1.25"/>
<circle cx="149.85" cy="520.07" r="1.25"/>
<circle cx="185.49" cy="468.69" r="1.25"/>
<circle cx="211.45" cy="514.16" r="1.25"/>
<circle cx="191.94" cy="539.34" r="1.25"/>
<circle cx="95.93" cy="539.31" r="1.25"/>
<circle cx="161.62" cy="501.26" r="1.25"/>
<circle cx="150.13" cy="533.64" r="1.25"/>
<circle cx="189.74" cy="517.23" r="1.25"/>
<circle cx="198.52" cy="481.93" r="1.25"/>
<circle cx="237.13" cy="491.36" r="1.25"/>
<circle cx="179.44" cy="541.31" r="1.25"/>
<circle cx="115.85" cy="490.08" r="1.25"/>
<circle cx="178" cy="529" r="1.25"/>
<circle cx="131.8" cy="550.72" r="1.25"/>
<circle cx="138.76" cy="527.74" r="1.25"/>
<circle cx="136.64" cy="540.77" r="1.25"/>
<circle cx="210.97" cy="507.38" r="1.25"/>
<circle cx="139.71" cy="528.29" r="1.25"/>
<circle cx="213.32" cy="522.52" r="1.25"/>
<circle cx="165.95" cy="524.3" r="1.25"/>
<circle cx="185.73" cy="530.54" r="1.25"/>
<circle cx="185.51" cy="517.05" r="1.25"/>
<circle cx="109.3" cy="524.83" r="1.25"/>
<circle cx="103.34" cy="543.07" r="1.25"/>
<circle cx="182.22" cy="532.09" r="1.25"/>
<circle cx="210.41" cy="483.59" r="1.25"/>
<circle cx="218.17" cy="533.43" r="1.25"/>
<circle cx="217.35" cy="509.48" r="1.25"/>
<circle cx="172.15" cy="510.48" r="1.25"/>
<circle cx="122.18" cy="552.64" r="1.25"/>
<circle cx="187.91" cy="518.06" r="1.25"/>
<circle cx="146.64" cy="527.83" r="1.25"/>
<circle cx="171.8" cy="535.72" r="1.25"/>
<circle cx="78.14" cy="532.34" r="1.25"/>
<circle cx="86.31" cy="549.77" r="1.25"/>
<circle cx="200.59" cy="528.36" r="1.25"/>
<circle cx="132.7" cy="502.12" r="1.25"/>
<circle cx="236.71" cy="524.77" r="1.25"/>
<circle cx="102.07" cy="567.86" r="1.25"/>
<circle cx="182.84" cy="495.56" r="1.25"/>
<circle cx="117.85" cy="517.16" r="1.25"/>
<circle cx="151.27" cy="523.5" r="1.25"/>
<circle cx="155.59" cy="550.03" r="1.25"/>
<circle cx="220.9" cy="530.81" r="1.25"/>
<circle cx="219.64" cy="509.38" r="1.25"/>
<circle cx="159.37" cy="520.65" r="1.25"/>
<circle cx="188.69" cy="515.73" r="1.25"/>
<circle cx="76.84" cy="544.95" r="1.25"/>
<circle cx="147.08" cy="488.63" r="1.25"/>
<circle cx="161.23" cy="528.21" r="1.25"/>
<circle cx="133.95" cy="507.2" r="1.25"/>
<circle cx="166.83" cy="522.82" r="1.25"/>
<circle cx="114.09" cy="523.64" r="1.25"/>
<circle cx="149.03" cy="511.24" r="1.25"/>
<circle cx="185.21" cy="506.03" r="1.25"/>
<circle cx="138.9" cy="500.77" r="1.25"/>
<circle cx="159.5" cy="498.82" r="1.25"/>
<circle cx="203.51" cy="484.21" r="1.25"/>
<circle cx="185.19" cy="489.48" r="1.25"/>
<circle cx="124.08" cy="518.94" r="1.25"/>
<circle cx="184.54" cy="535.64" r="1.25"/>
<circle cx="271.16" cy="499.13" r="1.25"/>
<circle cx="176.89" cy="523.03" r="1.25"/>
<circle cx="112.89" cy="521.1" r="1.25"/>
<circle cx="199.73" cy="516.21" r="1.25"/>
<circle cx="188.34" cy="534.65" r="1.25"/>
<circle cx="163.05" cy="515.34" r="1.25"/>
<circle cx="179.59" cy="538.47" r="1.25"/>
<circle cx="220.53" cy="490.58" r="1.25"/>
<circle cx="163.7" cy="514.18" r="1.25"/>
<circle cx="89.92" cy="542.82" r="1.25"/>
<circle cx="230.75" cy="494.53" r="1.25"/>
<circle cx="167.14" cy="540.36" r="1.25"/>
<circle cx="153.85" cy="492.47" r="1.25"/>
<circle cx="122.32" cy="517.93" r="1.25"/>
<circle cx="188.37" cy="493.99" r="1.25"/>
<circle cx="151.56" cy="524.27" r="1.25"/>
<circle cx="177.09" cy="482.95" r="1.25"/>
<circle cx="232.8" cy="515.71" r="1.25"/>
<circle cx="106.26" cy="531.31" r="1.25"/>
<circle cx="143.55" cy="518.21" r="1.25"/>
<circle cx="145.51" cy="509.21" r="1.25"/>
<circle cx="180.81" cy="511.75" r="1.25"/>
<circle cx="147.07" cy="498.74" r="1.25"/>
<circle cx="235.88" cy="528.78" r="1.25"/>
<circle cx="167.37" cy="492.12" r="1.25"/>
<circle cx="134.26" cy="531.63" r="1.25"/>
<circle cx="112.48" cy="521.65" r="1.25"/>
<circle cx="151.13" cy="472.29" r="1.25"/>
<circle cx="145.97" cy="538.25" r="1.25"/>
<circle cx="164.5" cy="536.88" r="1.25"/>
<circle cx="214.62" cy="487.37" r="1.25"/>
<circle cx="163.98" cy="514.92" r="1.25"/>
<circle cx="143.87" cy="488.01" r="1.25"/>
<circle cx="184.37" cy="516.89" r="1.25"/>
<circle cx="160.98" cy="517.8" r="1.25"/>
<circle cx="109.38" cy="518.75" r="1.25"/>
<circle cx="241" cy="503.8" r="1.25"/>
<circle cx="185.55" cy="482.07" r="1.25"/>
<circle cx="222.02" cy="533.22" r="1.25"/>
<circle cx="139.01" cy="541.61" r="1.25"/>
<circle cx="175.57" cy="547.9" r="1.25"/>
<circle cx="207.99" cy="532.74" r="1.25"/>
<circle cx="115.82" cy="538.6" r="1.25"/>
<circle cx="177.27" cy="519.33" r="1.25"/>
<circle cx="153.5" cy="498.02" r="1.25"/>
<circle cx="225.74" cy="491.27" r="1.25"/>
<circle cx="151.97" cy="552.53" r="1.25"/>
<circle cx="129.71" cy="518.01" r="1.25"/>
<circle cx="123.99" cy="506.35" r="1.25"/>
<circle cx="216.92" cy="480.47" r="1.25"/>
<circle cx="179.03" cy="500.07" r="1.25"/>
<circle cx="137.48" cy="533.83" r="1.25"/>
<circle cx="168.49" cy="521.02" r="1.25"/>
<circle cx="115.57" cy="493.12" r="1.25"/>
<circle cx="181.18" cy="532.35" r="1.25"/>
<circle cx="164.63" cy="543.46" r="1.25"/>
<circle cx="198.98" cy="498.87" r="1.25"/>
<circle cx="133.69" cy="540.33" r="1.25"/>
<circle cx="195.16" cy="515.03" r="1.25"/>
<circle cx="194.68" cy="510.34" r="1.25"/>
<circle cx="146.38" cy="497.45" r="1.25"/>
<circle cx="166.95" cy="466.78" r="1.25"/>
<circle cx="228" cy="541.12" r="1.25"/>
<circle cx="194.11" cy="521.1" r="1.25"/>
<circle cx="186.07" cy="541.29" r="1.25"/>
<circle cx="64.12" cy="523.39" r="1.25"/>
<circle cx="202.81" cy="513.05" r="1.25"/>
<circle cx="242.77" cy="521.35" r="1.25"/>
<circle cx="166.18" cy="538.93" r="1.25"/>
<circle cx="173.38" cy="501.57" r="1.25"/>
<circle cx="80.8" cy="542.09" r="1.25"/>
<circle cx="205.95" cy="484.05" r="1.25"/>
<circle cx="206.08" cy="478.73" r="1.25"/>
<circle cx="162.33" cy="497.71" r="1.25"/>
<circle cx="204.11" cy="508.42" r="1.25"/>
<circle cx="148.68" cy="539.29" r="1.25"/>
<circle cx="88.74" cy="509.89" r="1.25"/>
<circle cx="220.19" cy="541.08" r="1.25"/>
<circle cx="130.82" cy="524.53" r="1.25"/>
<circle cx="235.31" cy="493.45" r="1.25"/>
<circle cx="187.2" cy="515.74" r="1.25"/>
<circle cx="126.76" cy="513.63" r="1.25"/>
<circle cx="251.93" cy="500.06" r="1.25"/>
<circle cx="139.55" cy="519.52" r="1.25"/>
<circle cx="169.05" cy="504.83" r="1.25"/>
<circle cx="201.91" cy="499.46" r="1.25"/>
<circle cx="179.55" cy="530.02" r="1.25"/>
<circle cx="149.39" cy="498.13" r="1.25"/>
<circle cx="168.13" cy="511.97" r="1.25"/>
<circle cx="198.48" cy="523.41" r="1.25"/>
<circle cx="108.3" cy="534.85" r="1.25"/>
<circle cx="208.07" cy="507.04" r="1.25"/>
<circle cx="220.39" cy="497.85" r="1.25"/>
<circle cx="199.37" cy="510.08" r="1.25"/>
<circle cx="211.5" cy="500.98" r="1.25"/>
<circle cx="135.81" cy="539.43" r="1.25"/>
<circle cx="132.31" cy="526.11" r="1.25"/>
<circle cx="192.33" cy="522.27" r="1.25"/>
<circle cx="179.44" cy="536.41" r="1.25"/>
<circle cx="183.53" cy="508.08" r="1.25"/>
<circle cx="110.14" cy="555.07" r="1.25"/>
<circle cx="165.06" cy="509.35" r="1.25"/>
<circle cx="118.13" cy="508.04" r="1.25"/>
<circle cx="158.89" cy="517.31" r="1.25"/>
<circle cx="218.71" cy="494.51" r="1.25"/>
<circle cx="218.51" cy="539.36" r="1.25"/>
<circle cx="140.92" cy="516.01" r="1.25"/>
<circle cx="197.54" cy="525.06" r="1.25"/>
<circle cx="137.77" cy="511.16" r="1.25"/>
<circle cx="243.58" cy="524.6" r="1.25"/>
<circle cx="165.14" cy="503.69" r="1.25"/>
<circle cx="212.91" cy="504.28" r="1.25"/>
<circle cx="220.55" cy="525.52" r="1.25"/>
<circle cx="191.93" cy="513.72" r="1.25"/>
<circle cx="171.34" cy="514.29" r="1.25"/>
<circle cx="192.57" cy="502.58" r="1.25"/>
<circle cx="201.48" cy="513.72" r="1.25"/>
<circle cx="142.94" cy="546.12" r="1.25"/>
<circle cx="136.82" cy="495.64" r="1.25"/>
<circle cx="119.35" cy="476.9" r="1.25"/>
<circle cx="164.25" cy="500.78" r="1.25"/>
<circle cx="123.35" cy="545.4" r="1.25"/>
<circle cx="134.73" cy="506.6" r="1.25"/>
<circle cx="221.67" cy="488.68" r="1.25"/>
<circle cx="205.84" cy="519.32" r="1.25"/>
<circle cx="164.99" cy="544.81" r="1.25"/>
<circle cx="88.97" cy="532.52" r="1.25"/>
<circle cx="115.07" cy="475.32" r="1.25"/>
<circle cx="172.02" cy="528.77" r="1.25"/>
<circle cx="189.94" cy="489.04" r="1.25"/>
<circle cx="110.72" cy="479.9" r="1.25"/>
<circle cx="100.08" cy="522.78" r="1.25"/>
<circle cx="167.57" cy="565.88" r="1.25"/>
<circle cx="240.38" cy="491.52" r="1.25"/>
<circle cx="179.01" cy="518.98" r="1.25"/>
<circle cx="165.76" cy="506.81" r="1.25"/>
<circle cx="111.98" cy="543.86" r="1.25"/>
<circle cx="214.38" cy="493.81" r="1.25"/>
<circle cx="171.01" cy="497.12" r="1.25"/>
<circle cx="155.09" cy="544.61" r="1.25"/>
<circle cx="129.56" cy="509.57" r="1.25"/>
<circle cx="218.83" cy="529.83" r="1.25"/>
<circle cx="127.35" cy="505.66" r="1.25"/>
<circle cx="174.92" cy="514.34" r="1.25"/>
<circle cx="168.25" cy="496.73" r="1.25"/>
<circle cx="207.31" cy="493.09" r="1.25"/>
<circle cx="190.2" cy="501.14" r="1.25"/>
<circle cx="129.4" cy="497.99" r="1.25"/>
<circle cx="141.24" cy="535.74" r="1.25"/>
<circle cx="179.53" cy="496.86" r="1.25"/>
<circle cx="123.68" cy="488.23" r="1.25"/>
<circle cx="209.91" cy="504.04" r="1.25"/>
<circle cx="150.03" cy="533.84" r="1.25"/>
<circle cx="201.81" cy="481.52" r="1.25"/>
<circle cx="197.42" cy="531.07" r="1.25"/>
<circle cx="107.11" cy="503.33" r="1.25"/>
<circle cx="122.1" cy="558.61" r="1.25"/>
<circle cx="154.93" cy="517.34" r="1.25"/>
<circle cx="202.52" cy="492.25" r="1.25"/>
<circle cx="144.51" cy="543.48" r="1.25"/>
<circle cx="163.74" cy="486.54" r="1.25"/>
<circle cx="137.44" cy="540.21" r="1.25"/>
<circle cx="203.34" cy="532.18" r="1.25"/>
<circle cx="202.97" cy="557.07" r="1.25"/>
<circle cx="138.43" cy="508.11" r="1.25"/>
<circle cx="113.84" cy="519.62" r="1.25"/>
<circle cx="136.33" cy="533.56" r="1.25"/>
<circle cx="194.62" cy="538.82" r="1.25"/>
<circle cx="190.54" cy="500.55" r="1.25"/>
<circle cx="132.75" cy="530.17" r="1.25"/>
<circle cx="149.57" cy="511.95" r="1.25"/>
<circle cx="147.28" cy="519.64" r="1.25"/>
<circle cx="190.3" cy="521.35" r="1.25"/>
<circle cx="243.14" cy="507.9" r="1.25"/>
<circle cx="229.1" cy="530.25" r="1.25"/>
<circle cx="182.27" cy="520.78" r="1.25"/>
<circle cx="138.97" cy="507.15" r="1.25"/>
<circle cx="108.88" cy="508.84" r="1.25"/>
<circle cx="224.39" cy="530.37" r="1.25"/>
<circle cx="83.97" cy="547.89" r="1.25"/>
<circle cx="222.68" cy="503.83" r="1.25"/>
<circle cx="128.14" cy="528.75" r="1.25"/>
<circle cx="188.38" cy="538.81" r="1.25"/>
<circle cx="118.07" cy="536.82" r="1.25"/>
<circle cx="106.79" cy="519.52" r="1.25"/>
<circle cx="165.16" cy="493.51" r="1.25"/>
<circle cx="174.91" cy="483.35" r="1.25"/>
<circle cx="187.27" cy="498.97" r="1.25"/>
<circle cx="218.39" cy="503.77" r="1.25"/>
<circle cx="101.06" cy="568.38" r="1.25"/>
<circle cx="165.53" cy="520.35" r="1.25"/>
<circle cx="246.43" cy="490.01" r="1.25"/>
<circle cx="137.49" cy="569.18" r="1.25"/>
<circle cx="240.63" cy="510.94" r="1.25"/>
<circle cx="155.84" cy="504.64" r="1.25"/>
<circle cx="170.66" cy="547.47" r="1.25"/>
<circle cx="200.12" cy="498.89" r="1.25"/>
<circle cx="202.54" cy="541.15" r="1.25"/>
<circle cx="214.08" cy="500.6" r="1.25"/>
<circle cx="115.83" cy="549.63" r="1.25"/>
<circle cx="104.59" cy="540.4" r="1.25"/>
<circle cx="198.17" cy="511.91" r="1.25"/>
<circle cx="146.66" cy="529.63" r="1.25"/>
<circle cx="166.51" cy="489.98" r="1.25"/>
<circle cx="232.36" cy="495.85" r="1.25"/>
<circle cx="186.07" cy="501.83" r="1.25"/>
<circle cx="117.87" cy="535.94" r="1.25"/>
<circle cx="78.59" cy="561.34" r="1.25"/>
<circle cx="171.48" cy="493.66" r="1.25"/>
<circle cx="163.21" cy="530.2" r="1.25"/>
<circle cx="163.04" cy="515.32" r="1.25"/>
<circle cx="149.35" cy="554.49" r="1.25"/>
<circle cx="159.22" cy="514.3" r="1.25"/>
<circle cx="243.98" cy="499.4" r="1.25"/>
<circle cx="192.19" cy="541.66" r="1.25"/>
<circle cx="106.59" cy="517.6" r="1.25"/>
<circle cx="124.92" cy="500.78" r="1.25"/>
<circle cx="205.71" cy="502.76" r="1.25"/>
<circle cx="86.71" cy="564.62" r="1.25"/>
<circle cx="169.19" cy="541.08" r="1.25"/>
<circle cx="182.29" cy="509.38" r="1.25"/>
<circle cx="171.59" cy="512.59" r="1.25"/>
<circle cx="244.26" cy="478.38" r="1.25"/>
<circle cx="187.96" cy="479.92" r="1.25"/>
<circle cx="146.41" cy="502.16" r="1.25"/>
<circle cx="168.72" cy="507.9" r="1.25"/>
<circle cx="139.76" cy="552.97" r="1.25"/>
<circle cx="140.74" cy="510" r="1.25"/>
<circle cx="146.71" cy="541.99" r="1.25"/>
<circle cx="139.83" cy="519.31" r="1.25"/>
<circle cx="216.65" cy="488.67" r="1.25"/>
<circle cx="196.44" cy="457.84" r="1.25"/>
<circle cx="143.01" cy="519.15" r="1.25"/>
<circle cx="186.44" cy="499.03" r="1.25"/>
<circle cx="179.14" cy="520.17" r="1.25"/>
<circle cx="179.34" cy="502.2" r="1.25"/>
<circle cx="174.51" cy="530.34" r="1.25"/>
<circle cx="212.61" cy="521.46" r="1.25"/>
<circle cx="162.18" cy="488.09" r="1.25"/>
<circle cx="126.46" cy="550.73" r="1.25"/>
<circle cx="217.51" cy="500.82" r="1.25"/>
<circle cx="72.35" cy="512.39" r="1.25"/>
<circle cx="89.32" cy="534.66" r="1.25"/>
<circle cx="114.9" cy="524.72" r="1.25"/>
<circle cx="110.84" cy="507.05" r="1.25"/>
<circle cx="149.44" cy="522.13" r="1.25"/>
<circle cx="94.27" cy="562.91" r="1.25"/>
<circle cx="129.86" cy="546.54" r="1.25"/>
<circle cx="164.63" cy="510.46" r="1.25"/>
<circle cx="126.43" cy="507.43" r="1.25"/>
<circle cx="194.68" cy="489.6" r="1.25"/>
<circle cx="217.21" cy="512.94" r="1.25"/>
<circle cx="176.76" cy="510.68" r="1.25"/>
<circle cx="236.97" cy="500.17" r="1.25"/>
<circle cx="196.62" cy="500.24" r="1.25"/>
<circle cx="204.55" cy="496.71" r="1.25"/>
<circle cx="193.94" cy="508.15" r="1.25"/>
<circle cx="223.6" cy="495.61" r="1.25"/>
<circle cx="169.04" cy="519.24" r="1.25"/>
<circle cx="186.45" cy="470" r="1.25"/>
<circle cx="165.75" cy="517.81" r="1.25"/>
<circle cx="220.97" cy="504.12" r="1.25"/>
<circle cx="185.91" cy="494.46" r="1.25"/>
<circle cx="63.33" cy="554.01" r="1.25"/>
<circle cx="149.46" cy="496.07" r="1.25"/>
<circle cx="162.79" cy="495.41" r="1.25"/>
<circle cx="125.93" cy="479.73" r="1.25"/>
<circle cx="193.46" cy="487.36" r="1.25"/>
<circle cx="128.37" cy="521.99" r="1.25"/>
<circle cx="191.91" cy="500.4" r="1.25"/>
<circle cx="158.95" cy="516.3" r="1.25"/>
<circle cx="141.69" cy="550.95" r="1.25"/>
<circle cx="203.82" cy="541.04" r="1.25"/>
<circle cx="225.45" cy="479.78" r="1.25"/>
<circle cx="166.92" cy="568.7" r="1.25"/>
<circle cx="177.35" cy="500.28" r="1.25"/>
<circle cx="100.12" cy="561.34" r="1.25"/>
<circle cx="138.87" cy="490.29" r="1.25"/>
<circle cx="283.34" cy="508.3" r="1.25"/>
<circle cx="99.28" cy="517.52" r="1.25"/>
<circle cx="134.94" cy="515.49" r="1.25"/>
<circle cx="146.73" cy="522.91" r="1.25"/>
<circle cx="159.97" cy="529.59" r="1.25"/>
<circle cx="186.86" cy="526.96" r="1.25"/>
<circle cx="185.09" cy="514.24" r="1.25"/>
<circle cx="206.61" cy="522.25" r="1.25"/>
<circle cx="104.99" cy="549.3" r="1.25"/>
<circle cx="203.19" cy="530.81" r="1.25"/>
<circle cx="172.47" cy="532.32" r="1.25"/>
<circle cx="165.12" cy="566.3" r="1.25"/>
<circle cx="177.16" cy="521.59" r="1.25"/>
<circle cx="160.63" cy="493.53" r="1.25"/>
<circle cx="118.31" cy="479.3" r="1.25"/>
<circle cx="214.45" cy="523.85" r="1.25"/>
<circle cx="67.52" cy="550.35" r="1.25"/>
<circle cx="198.47" cy="502.47" r="1.25"/>
<circle cx="189.29" cy="513.21" r="1.25"/>
<circle cx="156.45" cy="514.4" r="1.25"/>
<circle cx="205.18" cy="480.07" r="1.25"/>
<circle cx="126.26" cy="541.83" r="1.25"/>
<circle cx="174.74" cy="512.61" r="1.25"/>
<circle cx="137.58" cy="509.62" r="1.25"/>
<circle cx="218.71" cy="518.66" r="1.25"/>
<circle cx="102.4" cy="525.15" r="1.25"/>
<circle cx="124.75" cy="546.09" r="1.25"/>
<circle cx="158.64" cy="478.65" r="1.25"/>
<circle cx="129.38" cy="534.68" r="1.25"/>
<circle cx="178.71" cy="508.37" r="1.25"/>
<circle cx="201.29" cy="528.73" r="1.25"/>
<circle cx="151.87" cy="520.13" r="1.25"/>
<circle cx="203.69" cy="503.87" r="1.25"/>
<circle cx="190.48" cy="527.63" r="1.25"/>
<circle cx="196.95" cy="506.52" r="1.25"/>
<circle cx="198.3" cy="523.67" r="1.25"/>
<circle cx="289.72" cy="519.98" r="1.25"/>
<circle cx="184.66" cy="539.03" r="1.25"/>
<circle cx="189.36" cy="536.11" r="1.25"/>
<circle cx="155.55" cy="509.76" r="1.25"/>
<circle cx="166.08" cy="499.68" r="1.25"/>
<circle cx="164.5" cy="527.85" r="1.25"/>
<circle cx="144.92" cy="539.95" r="1.25"/>
<circle cx="187.74" cy="512.77" r="1.25"/>
<circle cx="188.55" cy="529.66" r="1.25"/>
<circle cx="183.59" cy="519.63" r="1.25"/>
<circle cx="126.87" cy="487.52" r="1.25"/>
</g>
<line x1="37.9" y1="477.4" x2="309" y2="477.4" stroke="#777" stroke-width="0.8" stroke-dasharray="3.3 7.9"/>
<line x1="206.8" y1="580.1" x2="206.8" y2="416" stroke="#777" stroke-width="0.8" stroke-dasharray="3.3 7.9"/>
<g fill="#e9795a">
<circle cx="219.1" cy="435.8" r="1.35"/>
<circle cx="233.5" cy="444.1" r="1.35"/>
<circle cx="207.3" cy="449.1" r="1.35"/>
<circle cx="209.5" cy="449.1" r="1.35"/>
<circle cx="288.7" cy="454.6" r="1.35"/>
<circle cx="232.4" cy="455.7" r="1.35"/>
<circle cx="206.6" cy="456.6" r="1.35"/>
<circle cx="293.1" cy="458.8" r="1.35"/>
<circle cx="236.6" cy="460.1" r="1.35"/>
<circle cx="269.7" cy="462.9" r="1.35"/>
<circle cx="214.9" cy="463.1" r="1.35"/>
<circle cx="238.4" cy="466.4" r="1.35"/>
<circle cx="214.9" cy="467.7" r="1.35"/>
<circle cx="239.9" cy="468.6" r="1.35"/>
<circle cx="245.4" cy="470.8" r="1.35"/>
<circle cx="211" cy="471.5" r="1.35"/>
<circle cx="208.1" cy="472.6" r="1.35"/>
<circle cx="212.1" cy="474.1" r="1.35"/>
<circle cx="224.8" cy="472.6" r="1.35"/>
<circle cx="228.1" cy="472.6" r="1.35"/>
<circle cx="271.2" cy="472.6" r="1.35"/>
<circle cx="260.2" cy="474.1" r="1.35"/>
<circle cx="207.3" cy="475.8" r="1.35"/>
<circle cx="250.4" cy="475.8" r="1.35"/>
<circle cx="256.5" cy="476.3" r="1.35"/>
<circle cx="260.9" cy="476.5" r="1.35"/>
<circle cx="264.6" cy="475.8" r="1.35"/>
<circle cx="229.6" cy="476.9" r="1.35"/>
</g>
<line x1="201.1" y1="444.5" x2="206.6" y2="448.5" stroke="#111" stroke-width="0.75"/>
<line x1="217.6" y1="444.5" x2="209.9" y2="448.7" stroke="#111" stroke-width="0.75"/>
<line x1="242.7" y1="457.2" x2="236.8" y2="460.1" stroke="#111" stroke-width="0.75"/>
<line x1="206.2" y1="462.3" x2="214.5" y2="462.7" stroke="#111" stroke-width="0.75"/>
<line x1="252.6" y1="468.2" x2="240.5" y2="468.6" stroke="#111" stroke-width="0.75"/>
<line x1="204.4" y1="470.8" x2="214.3" y2="468.2" stroke="#111" stroke-width="0.75"/>
<line x1="205" y1="472.6" x2="210.5" y2="471.7" stroke="#111" stroke-width="0.75"/>
<line x1="230.7" y1="485.7" x2="255.9" y2="476.9" stroke="#111" stroke-width="0.75"/>
<line x1="252.6" y1="485.3" x2="260.2" y2="476.5" stroke="#111" stroke-width="0.75"/>
<line x1="280.6" y1="483.5" x2="265.3" y2="476.3" stroke="#111" stroke-width="0.75"/>
<line x1="268.6" y1="498.4" x2="260.9" y2="477.4" stroke="#111" stroke-width="0.75"/>
<line x1="273.4" y1="472.9" x2="271.6" y2="472.6" stroke="#111" stroke-width="0.75"/>
<text x="220.6" y="432.75" font-size="7" text-anchor="middle" font-style="italic" stroke="#000" stroke-width="0.18">WIPI2</text>
<text x="218.4" y="444.35" font-size="7" text-anchor="middle" font-style="italic" stroke="#000" stroke-width="0.18">SYPL1</text>
<text x="188.9" y="445.45" font-size="7" text-anchor="middle" font-style="italic" stroke="#000" stroke-width="0.18">ZNF24</text>
<text x="244.9" y="445.45" font-size="7" text-anchor="middle" font-style="italic" stroke="#000" stroke-width="0.18">VRK2</text>
<text x="232" y="453.15" font-size="7" text-anchor="middle" font-style="italic" stroke="#000" stroke-width="0.18">EIF2AK1</text>
<text x="290.7" y="452.05" font-size="7" text-anchor="middle" font-style="italic" stroke="#000" stroke-width="0.18">TXNL1</text>
<text x="196.3" y="457.45" font-size="7" text-anchor="middle" font-style="italic" stroke="#000" stroke-width="0.18">TAF2</text>
<text x="251.9" y="459.65" font-size="7" text-anchor="middle" font-style="italic" stroke="#000" stroke-width="0.18">MTO1</text>
<text x="272.5" y="461.45" font-size="7" text-anchor="middle" font-style="italic" stroke="#000" stroke-width="0.18">VAPA</text>
<text x="191.7" y="465.85" font-size="7" text-anchor="middle" font-style="italic" stroke="#000" stroke-width="0.18">TAX1BP1</text>
<text x="236.6" y="465.85" font-size="7" text-anchor="middle" font-style="italic" stroke="#000" stroke-width="0.18">RNF139</text>
<text x="296.8" y="465.85" font-size="7" text-anchor="middle" font-style="italic" stroke="#000" stroke-width="0.18">HAUS1</text>
<text x="265.7" y="469.55" font-size="7" text-anchor="middle" font-style="italic" stroke="#000" stroke-width="0.18">NUP107</text>
<text x="191.3" y="474.35" font-size="7" text-anchor="middle" font-style="italic" stroke="#000" stroke-width="0.18">SMAD4</text>
<text x="288.7" y="474.95" font-size="7" text-anchor="middle" font-style="italic" stroke="#000" stroke-width="0.18">TRAPPC8</text>
<text x="218.6" y="489.65" font-size="7" text-anchor="middle" font-style="italic" stroke="#000" stroke-width="0.18">YWHAZ</text>
<text x="246.7" y="489.65" font-size="7" text-anchor="middle" font-style="italic" stroke="#000" stroke-width="0.18">TCF4</text>
<text x="292.7" y="487.45" font-size="7" text-anchor="middle" font-style="italic" stroke="#000" stroke-width="0.18">MED30</text>
<text x="280" y="504.95" font-size="7" text-anchor="middle" font-style="italic" stroke="#000" stroke-width="0.18">EIF1AX</text>
<rect x="37.5" y="416" width="271.5" height="164.5" fill="none" stroke="#333" stroke-width="0.9"/>
<line x1="49.8" y1="580.9" x2="49.8" y2="582.5" stroke="#333" stroke-width="0.7"/>
<text x="51.8" y="592.8" font-size="9.8" text-anchor="middle" fill="#222" stroke="#222" stroke-width="0.18">−0.3</text>
<line x1="35.5" y1="573.11" x2="37.1" y2="573.11" stroke="#333" stroke-width="0.7"/>
<text x="33" y="575.31" font-size="9.8" text-anchor="end" fill="#222" stroke="#222" stroke-width="0.18">−0.3</text>
<line x1="117.3" y1="580.9" x2="117.3" y2="582.5" stroke="#333" stroke-width="0.7"/>
<text x="117.3" y="592.8" font-size="9.8" text-anchor="middle" fill="#222" stroke="#222" stroke-width="0.18">0.0</text>
<line x1="35.5" y1="532.25" x2="37.1" y2="532.25" stroke="#333" stroke-width="0.7"/>
<text x="33" y="534.45" font-size="9.8" text-anchor="end" fill="#222" stroke="#222" stroke-width="0.18">0.0</text>
<line x1="184.8" y1="580.9" x2="184.8" y2="582.5" stroke="#333" stroke-width="0.7"/>
<text x="184.8" y="592.8" font-size="9.8" text-anchor="middle" fill="#222" stroke="#222" stroke-width="0.18">0.3</text>
<line x1="35.5" y1="491.39" x2="37.1" y2="491.39" stroke="#333" stroke-width="0.7"/>
<text x="33" y="493.59" font-size="9.8" text-anchor="end" fill="#222" stroke="#222" stroke-width="0.18">0.3</text>
<line x1="252.3" y1="580.9" x2="252.3" y2="582.5" stroke="#333" stroke-width="0.7"/>
<text x="252.3" y="592.8" font-size="9.8" text-anchor="middle" fill="#222" stroke="#222" stroke-width="0.18">0.6</text>
<line x1="35.5" y1="450.53" x2="37.1" y2="450.53" stroke="#333" stroke-width="0.7"/>
<text x="33" y="452.73" font-size="9.8" text-anchor="end" fill="#222" stroke="#222" stroke-width="0.18">0.6</text>
<text x="177.7" y="605.8" font-size="10.5" text-anchor="middle" fill="#111" stroke="#111" stroke-width="0.18">Discovery Cohort</text>
<text x="13.1" y="506.6" font-size="10" text-anchor="middle" fill="#111" transform="rotate(-90 13.1 506.6)" stroke="#111" stroke-width="0.18">Validation Cohort</text>
<text x="170.9" y="411.3" font-size="11.85" text-anchor="middle" fill="#111" stroke="#111" stroke-width="0.18">Cis-correlated genes with CNA</text>
<text transform="translate(1.15 412.3) scale(0.84 1)" font-size="25">C</text>
</g>
<g id="pLEG">
<defs><linearGradient id="gg" x1="0" x2="1" y1="0" y2="0"><stop offset="0" stop-color="#e3ee47"/><stop offset="0.2" stop-color="#ecdc3f"/><stop offset="0.45" stop-color="#ecab38"/><stop offset="0.7" stop-color="#ec7c34"/><stop offset="1" stop-color="#e6352b"/></linearGradient><linearGradient id="gl" x1="0" x2="1" y1="0" y2="0"><stop offset="0" stop-color="#9fd0ea"/><stop offset="0.25" stop-color="#829bd8"/><stop offset="0.5" stop-color="#6166c0"/><stop offset="0.78" stop-color="#4040a8"/><stop offset="1" stop-color="#32367f"/></linearGradient></defs>
<text transform="translate(465.4 397.6) scale(1 1.15)" font-size="7.9" fill="#222" stroke="#222" stroke-width="0.18" text-anchor="middle">Ratio, Copy Number Gain</text>
<text transform="translate(467.3 406.9) scale(1 1.15)" font-size="7.9" fill="#222" stroke="#222" stroke-width="0.18" text-anchor="middle">tFL cases/ nFL cases</text>
<rect x="435.1" y="411.3" width="62.6" height="14.5" fill="url(#gg)"/>
<line x1="446.3" y1="411.3" x2="446.3" y2="414.2" stroke="#fff" stroke-width="0.7" opacity="0.8"/>
<line x1="446.3" y1="422.9" x2="446.3" y2="425.8" stroke="#fff" stroke-width="0.7" opacity="0.8"/>
<text transform="translate(446.3 434.2) scale(1 1.15)" font-size="8" fill="#111" stroke="#111" stroke-width="0.18" text-anchor="middle">1</text>
<line x1="458.6" y1="411.3" x2="458.6" y2="414.2" stroke="#fff" stroke-width="0.7" opacity="0.8"/>
<line x1="458.6" y1="422.9" x2="458.6" y2="425.8" stroke="#fff" stroke-width="0.7" opacity="0.8"/>
<text transform="translate(458.6 434.2) scale(1 1.15)" font-size="8" fill="#111" stroke="#111" stroke-width="0.18" text-anchor="middle">2</text>
<line x1="470.9" y1="411.3" x2="470.9" y2="414.2" stroke="#fff" stroke-width="0.7" opacity="0.8"/>
<line x1="470.9" y1="422.9" x2="470.9" y2="425.8" stroke="#fff" stroke-width="0.7" opacity="0.8"/>
<text transform="translate(470.9 434.2) scale(1 1.15)" font-size="8" fill="#111" stroke="#111" stroke-width="0.18" text-anchor="middle">3</text>
<line x1="483.2" y1="411.3" x2="483.2" y2="414.2" stroke="#fff" stroke-width="0.7" opacity="0.8"/>
<line x1="483.2" y1="422.9" x2="483.2" y2="425.8" stroke="#fff" stroke-width="0.7" opacity="0.8"/>
<text transform="translate(483.2 434.2) scale(1 1.15)" font-size="8" fill="#111" stroke="#111" stroke-width="0.18" text-anchor="middle">4</text>
<line x1="495.6" y1="411.3" x2="495.6" y2="414.2" stroke="#fff" stroke-width="0.7" opacity="0.8"/>
<line x1="495.6" y1="422.9" x2="495.6" y2="425.8" stroke="#fff" stroke-width="0.7" opacity="0.8"/>
<text transform="translate(495.6 434.2) scale(1 1.15)" font-size="8" fill="#111" stroke="#111" stroke-width="0.18" text-anchor="middle">5</text>
<text transform="translate(465.2 468.7) scale(1 1.15)" font-size="7.9" fill="#222" stroke="#222" stroke-width="0.18" text-anchor="middle">Ratio, Copy Number Loss</text>
<text transform="translate(465.2 478) scale(1 1.15)" font-size="7.9" fill="#222" stroke="#222" stroke-width="0.18" text-anchor="middle">tFL cases/ nFL cases</text>
<rect x="435.1" y="482.3" width="63" height="14.7" fill="url(#gl)"/>
<line x1="449.3" y1="482.3" x2="449.3" y2="485.2" stroke="#fff" stroke-width="0.7" opacity="0.8"/>
<line x1="449.3" y1="494.1" x2="449.3" y2="497" stroke="#fff" stroke-width="0.7" opacity="0.8"/>
<text transform="translate(449.3 505.2) scale(1 1.15)" font-size="8" fill="#111" stroke="#111" stroke-width="0.18" text-anchor="middle">1</text>
<line x1="464.9" y1="482.3" x2="464.9" y2="485.2" stroke="#fff" stroke-width="0.7" opacity="0.8"/>
<line x1="464.9" y1="494.1" x2="464.9" y2="497" stroke="#fff" stroke-width="0.7" opacity="0.8"/>
<text transform="translate(464.9 505.2) scale(1 1.15)" font-size="8" fill="#111" stroke="#111" stroke-width="0.18" text-anchor="middle">2</text>
<line x1="480.4" y1="482.3" x2="480.4" y2="485.2" stroke="#fff" stroke-width="0.7" opacity="0.8"/>
<line x1="480.4" y1="494.1" x2="480.4" y2="497" stroke="#fff" stroke-width="0.7" opacity="0.8"/>
<text transform="translate(480.4 505.2) scale(1 1.15)" font-size="8" fill="#111" stroke="#111" stroke-width="0.18" text-anchor="middle">3</text>
<line x1="495.9" y1="482.3" x2="495.9" y2="485.2" stroke="#fff" stroke-width="0.7" opacity="0.8"/>
<line x1="495.9" y1="494.1" x2="495.9" y2="497" stroke="#fff" stroke-width="0.7" opacity="0.8"/>
<text transform="translate(495.9 505.2) scale(1 1.15)" font-size="8" fill="#111" stroke="#111" stroke-width="0.18" text-anchor="middle">4</text>
<text transform="translate(536.6 422.2) scale(1 1.05)" font-size="7.88" fill="#222" stroke="#222" stroke-width="0.18">Number of Base Pairs</text>
<text transform="translate(536.6 431.8) scale(1 1.05)" font-size="7.88" fill="#222" stroke="#222" stroke-width="0.18">in Segment</text>
<ellipse cx="545.9" cy="443.9" rx="4" ry="4.7" fill="#000"/>
<text transform="translate(554.7 447) scale(1 1.15)" font-size="8" fill="#111" stroke="#111" stroke-width="0.18">1e+07</text>
<ellipse cx="545.9" cy="459.3" rx="5.1" ry="5.6" fill="#000"/>
<text transform="translate(554.7 462.4) scale(1 1.15)" font-size="8" fill="#111" stroke="#111" stroke-width="0.18">2e+07</text>
<ellipse cx="545.9" cy="477.7" rx="5.8" ry="6.5" fill="#000"/>
<text transform="translate(554.7 480.8) scale(1 1.15)" font-size="8" fill="#111" stroke="#111" stroke-width="0.18">3e+07</text>
</g>
<g id="pD">
<g fill="#e4e4e4">
<circle cx="44.01" cy="807.04" r="2.6"/>
<circle cx="47.52" cy="801.5" r="2.6"/>
<circle cx="54.82" cy="805.58" r="2.6"/>
<circle cx="59.2" cy="807.92" r="2.6"/>
<circle cx="64.45" cy="802.66" r="2.6"/>
<circle cx="67.96" cy="804.12" r="2.6"/>
<circle cx="69.42" cy="800.62" r="2.6"/>
<circle cx="72.34" cy="805.58" r="2.6"/>
<circle cx="73.8" cy="804.12" r="2.6"/>
<circle cx="78.18" cy="799.74" r="2.6"/>
<circle cx="79.64" cy="804.12" r="2.6"/>
<circle cx="82.55" cy="805" r="2.6"/>
<circle cx="84.01" cy="802.66" r="2.6"/>
<circle cx="86.93" cy="799.74" r="2.6"/>
<circle cx="88.39" cy="804.12" r="2.6"/>
<circle cx="89.85" cy="802.08" r="2.6"/>
<circle cx="91.31" cy="799.74" r="2.6"/>
<circle cx="92.77" cy="804.12" r="2.6"/>
<circle cx="95.69" cy="801.2" r="2.6"/>
<circle cx="97.74" cy="805" r="2.6"/>
<circle cx="98.61" cy="799.16" r="2.6"/>
<circle cx="104.45" cy="805" r="2.6"/>
<circle cx="105.91" cy="799.16" r="2.6"/>
<circle cx="108.25" cy="803.54" r="2.6"/>
<circle cx="122.85" cy="798.28" r="2.6"/>
<circle cx="140.95" cy="799.74" r="2.6"/>
<circle cx="122.85" cy="796.82" r="2.6"/>
<circle cx="73.8" cy="788.07" r="2.6"/>
<circle cx="75.26" cy="790.99" r="2.6"/>
<circle cx="76.72" cy="781.64" r="2.6"/>
<circle cx="78.18" cy="776.39" r="2.6"/>
<circle cx="79.64" cy="785.15" r="2.6"/>
<circle cx="81.09" cy="770.55" r="2.6"/>
<circle cx="84.01" cy="769.09" r="2.6"/>
<circle cx="86.93" cy="757.41" r="2.6"/>
<circle cx="85.47" cy="788.07" r="2.6"/>
<circle cx="88.39" cy="780.77" r="2.6"/>
<circle cx="89.85" cy="790.99" r="2.6"/>
<circle cx="91.31" cy="772.01" r="2.6"/>
<circle cx="92.77" cy="795.36" r="2.6"/>
<circle cx="94.23" cy="782.23" r="2.6"/>
<circle cx="95.69" cy="764.71" r="2.6"/>
<circle cx="97.15" cy="773.47" r="2.6"/>
<circle cx="98.61" cy="764.71" r="2.6"/>
<circle cx="100.07" cy="782.23" r="2.6"/>
<circle cx="101.53" cy="772.01" r="2.6"/>
<circle cx="102.99" cy="763.25" r="2.6"/>
<circle cx="104.45" cy="785.15" r="2.6"/>
<circle cx="105.91" cy="780.77" r="2.6"/>
<circle cx="107.37" cy="773.47" r="2.6"/>
<circle cx="104.45" cy="761.79" r="2.6"/>
<circle cx="106.5" cy="769.09" r="2.6"/>
<circle cx="117.59" cy="780.77" r="2.6"/>
<circle cx="119.05" cy="773.47" r="2.6"/>
<circle cx="88.39" cy="793.91" r="2.6"/>
<circle cx="86.93" cy="795.36" r="2.6"/>
<circle cx="100.07" cy="773.47" r="2.6"/>
<circle cx="102.41" cy="773.47" r="2.6"/>
<circle cx="92.77" cy="784.56" r="2.6"/>
<circle cx="94.82" cy="777.85" r="2.6"/>
<circle cx="99.49" cy="771.13" r="2.6"/>
<circle cx="86.35" cy="736.97" r="2.6"/>
<circle cx="95.69" cy="736.97" r="2.6"/>
<circle cx="100.07" cy="740.47" r="2.6"/>
<circle cx="97.15" cy="745.73" r="2.6"/>
<circle cx="104.45" cy="749.53" r="2.6"/>
<circle cx="107.37" cy="742.81" r="2.6"/>
<circle cx="113.21" cy="755.95" r="2.6"/>
<circle cx="114.67" cy="763.25" r="2.6"/>
<circle cx="117.59" cy="753.03" r="2.6"/>
<circle cx="119.05" cy="745.73" r="2.6"/>
<circle cx="120.51" cy="748.65" r="2.6"/>
<circle cx="123.43" cy="754.49" r="2.6"/>
<circle cx="124.89" cy="738.43" r="2.6"/>
<circle cx="126.35" cy="753.03" r="2.6"/>
<circle cx="127.81" cy="747.19" r="2.6"/>
<circle cx="129.27" cy="766.17" r="2.6"/>
<circle cx="130.73" cy="764.71" r="2.6"/>
<circle cx="135.69" cy="747.19" r="2.6"/>
<circle cx="138.03" cy="753.61" r="2.6"/>
<circle cx="140.95" cy="764.12" r="2.6"/>
<circle cx="143.28" cy="755.95" r="2.6"/>
<circle cx="155.55" cy="755.07" r="2.6"/>
<circle cx="156.13" cy="744.27" r="2.6"/>
<circle cx="135.11" cy="733.47" r="2.6"/>
<circle cx="124.31" cy="722.96" r="2.6"/>
<circle cx="125.47" cy="729.67" r="2.6"/>
<circle cx="130.73" cy="720.33" r="2.6"/>
<circle cx="132.77" cy="722.37" r="2.6"/>
<circle cx="137.15" cy="721.5" r="2.6"/>
<circle cx="140.95" cy="736.39" r="2.6"/>
<circle cx="146.79" cy="693.18" r="2.6"/>
<circle cx="154.09" cy="685.29" r="2.6"/>
<circle cx="146.79" cy="706.31" r="2.6"/>
<circle cx="148.25" cy="712.15" r="2.6"/>
<circle cx="149.71" cy="703.39" r="2.6"/>
<circle cx="149.71" cy="715.95" r="2.6"/>
<circle cx="152.63" cy="704.85" r="2.6"/>
<circle cx="154.09" cy="712.74" r="2.6"/>
<circle cx="155.55" cy="713.61" r="2.6"/>
<circle cx="157.88" cy="700.47" r="2.6"/>
<circle cx="159.93" cy="703.39" r="2.6"/>
<circle cx="161.97" cy="715.07" r="2.6"/>
<circle cx="163.72" cy="707.19" r="2.6"/>
<circle cx="162.85" cy="726.17" r="2.6"/>
<circle cx="160.8" cy="731.72" r="2.6"/>
<circle cx="155.55" cy="737.85" r="2.6"/>
<circle cx="179.78" cy="726.17" r="2.6"/>
<circle cx="179.49" cy="741.35" r="2.6"/>
<circle cx="191.46" cy="735.51" r="2.6"/>
<circle cx="191.17" cy="678.58" r="2.6"/>
<circle cx="210.15" cy="701.93" r="2.6"/>
<circle cx="178.32" cy="697.55" r="2.6"/>
<circle cx="116.13" cy="748.65" r="2.6"/>
<circle cx="121.09" cy="750.69" r="2.6"/>
<circle cx="124.89" cy="742.81" r="2.6"/>
</g>
<g fill="#8b1a1a">
<circle cx="165.4" cy="670.2" r="2.45"/>
<circle cx="166.4" cy="680" r="2.45"/>
<circle cx="171.3" cy="684.9" r="2.45"/>
<circle cx="193.4" cy="679.7" r="2.45"/>
<circle cx="176.6" cy="694" r="2.45"/>
<circle cx="178.3" cy="696.8" r="2.45"/>
<circle cx="181.1" cy="703.8" r="2.45"/>
<circle cx="190.3" cy="700" r="2.45"/>
<circle cx="212" cy="702.8" r="2.45"/>
<circle cx="216.2" cy="699.6" r="2.45"/>
<circle cx="168.9" cy="719.3" r="2.45"/>
<circle cx="115.6" cy="743.1" r="2.45"/>
<circle cx="120.5" cy="748.3" r="2.45"/>
<circle cx="122.6" cy="766.9" r="2.45"/>
<circle cx="126.8" cy="776.4" r="2.45"/>
<circle cx="101.3" cy="788.6" r="2.45"/>
</g>
<g fill="#e8352e">
<circle cx="216.2" cy="654.1" r="2.45"/>
<circle cx="177.6" cy="712.6" r="2.45"/>
<circle cx="145.4" cy="732.9" r="2.45"/>
<circle cx="150" cy="738.9" r="2.45"/>
<circle cx="107.6" cy="769.7" r="2.45"/>
</g>
<line x1="35.5" y1="646" x2="35.5" y2="816.95" stroke="#333" stroke-width="0.9"/>
<line x1="35.05" y1="816.5" x2="224.3" y2="816.5" stroke="#333" stroke-width="0.9"/>
<line x1="33.9" y1="661.4" x2="35.5" y2="661.4" stroke="#333" stroke-width="0.7"/>
<text transform="translate(33.4 663.6) scale(1 1.15)" font-size="7.9" fill="#4d4d4d" stroke="#4d4d4d" stroke-width="0.18" text-anchor="end">8</text>
<line x1="33.9" y1="698.4" x2="35.5" y2="698.4" stroke="#333" stroke-width="0.7"/>
<text transform="translate(33.4 700.6) scale(1 1.15)" font-size="7.9" fill="#4d4d4d" stroke="#4d4d4d" stroke-width="0.18" text-anchor="end">6</text>
<line x1="33.9" y1="735.4" x2="35.5" y2="735.4" stroke="#333" stroke-width="0.7"/>
<text transform="translate(33.4 737.6) scale(1 1.15)" font-size="7.9" fill="#4d4d4d" stroke="#4d4d4d" stroke-width="0.18" text-anchor="end">4</text>
<line x1="33.9" y1="772.3" x2="35.5" y2="772.3" stroke="#333" stroke-width="0.7"/>
<text transform="translate(33.4 774.5) scale(1 1.15)" font-size="7.9" fill="#4d4d4d" stroke="#4d4d4d" stroke-width="0.18" text-anchor="end">2</text>
<line x1="33.9" y1="809.2" x2="35.5" y2="809.2" stroke="#333" stroke-width="0.7"/>
<text transform="translate(33.4 811.4) scale(1 1.15)" font-size="7.9" fill="#4d4d4d" stroke="#4d4d4d" stroke-width="0.18" text-anchor="end">0</text>
<line x1="73.6" y1="816.5" x2="73.6" y2="818.3" stroke="#333" stroke-width="0.7"/>
<text transform="translate(71.5 825) scale(1 1.15)" font-size="7.8" fill="#4d4d4d" stroke="#4d4d4d" stroke-width="0.18" text-anchor="middle">−2.5</text>
<line x1="118.6" y1="816.5" x2="118.6" y2="818.3" stroke="#333" stroke-width="0.7"/>
<text transform="translate(118.6 825) scale(1 1.15)" font-size="7.8" fill="#4d4d4d" stroke="#4d4d4d" stroke-width="0.18" text-anchor="middle">0.0</text>
<line x1="164.5" y1="816.5" x2="164.5" y2="818.3" stroke="#333" stroke-width="0.7"/>
<text transform="translate(164.5 825) scale(1 1.15)" font-size="7.8" fill="#4d4d4d" stroke="#4d4d4d" stroke-width="0.18" text-anchor="middle">2.5</text>
<line x1="210.4" y1="816.5" x2="210.4" y2="818.3" stroke="#333" stroke-width="0.7"/>
<text transform="translate(210.4 825) scale(1 1.15)" font-size="7.8" fill="#4d4d4d" stroke="#4d4d4d" stroke-width="0.18" text-anchor="middle">5.0</text>
<text x="127.5" y="837.7" font-size="10.5" text-anchor="middle" fill="#111" stroke="#111" stroke-width="0.18">TCF4 Relative Protein Expression</text>
<text x="25.3" y="726.6" font-size="10.6" text-anchor="middle" fill="#111" transform="rotate(-90 25.3 726.6)"><tspan font-style="italic" letter-spacing="-0.3">TCF4</tspan> Expression (log<tspan font-size="8.4" dy="0.7">2</tspan><tspan dy="-0.7"> TPM)</tspan></text>
<text transform="translate(1.32 647) scale(0.84 1)" font-size="25">D</text>
</g>
<g id="pE">
<g fill="#e4e4e4">
<circle cx="400.86" cy="743.23" r="2.5"/>
<circle cx="400.89" cy="807.97" r="2.5"/>
<circle cx="404.9" cy="793.33" r="2.5"/>
<circle cx="401.28" cy="728.71" r="2.5"/>
<circle cx="401.65" cy="708.91" r="2.5"/>
<circle cx="402.26" cy="781.03" r="2.5"/>
<circle cx="404.41" cy="747.86" r="2.5"/>
<circle cx="394.17" cy="746.07" r="2.5"/>
<circle cx="400.64" cy="724.61" r="2.5"/>
<circle cx="402.23" cy="776.83" r="2.5"/>
<circle cx="407.02" cy="727.5" r="2.5"/>
<circle cx="409.05" cy="755.5" r="2.5"/>
<circle cx="408.04" cy="804.66" r="2.5"/>
<circle cx="400.46" cy="734.75" r="2.5"/>
<circle cx="401.46" cy="722.14" r="2.5"/>
<circle cx="408.81" cy="763.25" r="2.5"/>
<circle cx="405.55" cy="740.32" r="2.5"/>
<circle cx="401.77" cy="750.79" r="2.5"/>
<circle cx="401.31" cy="711.18" r="2.5"/>
<circle cx="405.15" cy="753.28" r="2.5"/>
<circle cx="393.1" cy="761.41" r="2.5"/>
<circle cx="397.71" cy="739.98" r="2.5"/>
<circle cx="400.25" cy="714.95" r="2.5"/>
<circle cx="404.33" cy="769.68" r="2.5"/>
<circle cx="400.41" cy="759.59" r="2.5"/>
<circle cx="403.15" cy="786.67" r="2.5"/>
<circle cx="396.18" cy="774.46" r="2.5"/>
<circle cx="396.29" cy="796.36" r="2.5"/>
<circle cx="403.25" cy="705.64" r="2.5"/>
<circle cx="406.12" cy="781.91" r="2.5"/>
<circle cx="397.36" cy="762.47" r="2.5"/>
<circle cx="401.17" cy="734.05" r="2.5"/>
<circle cx="406.68" cy="798.11" r="2.5"/>
<circle cx="400.72" cy="758.68" r="2.5"/>
<circle cx="398.75" cy="719.59" r="2.5"/>
<circle cx="399.42" cy="774.61" r="2.5"/>
<circle cx="392.28" cy="738.1" r="2.5"/>
<circle cx="403.18" cy="741.89" r="2.5"/>
<circle cx="399.08" cy="765.59" r="2.5"/>
<circle cx="406.12" cy="797.5" r="2.5"/>
<circle cx="405.89" cy="761.26" r="2.5"/>
<circle cx="400.26" cy="757.29" r="2.5"/>
<circle cx="394.43" cy="776.51" r="2.5"/>
<circle cx="401.25" cy="739.48" r="2.5"/>
<circle cx="399.82" cy="701.58" r="2.5"/>
<circle cx="402.08" cy="734.56" r="2.5"/>
<circle cx="397.6" cy="771.89" r="2.5"/>
<circle cx="391.91" cy="779.75" r="2.5"/>
<circle cx="398.37" cy="767.65" r="2.5"/>
<circle cx="405.64" cy="739.2" r="2.5"/>
<circle cx="394.96" cy="716.03" r="2.5"/>
<circle cx="399.89" cy="741.4" r="2.5"/>
<circle cx="397.41" cy="785.6" r="2.5"/>
<circle cx="400.56" cy="796.03" r="2.5"/>
<circle cx="400.82" cy="703.28" r="2.5"/>
<circle cx="405.32" cy="779.2" r="2.5"/>
<circle cx="403.45" cy="735.09" r="2.5"/>
<circle cx="401.06" cy="756.86" r="2.5"/>
<circle cx="401.18" cy="758.91" r="2.5"/>
<circle cx="397.78" cy="724.03" r="2.5"/>
<circle cx="402.69" cy="786.02" r="2.5"/>
<circle cx="395.44" cy="800.76" r="2.5"/>
<circle cx="396.17" cy="751.03" r="2.5"/>
<circle cx="403" cy="719.39" r="2.5"/>
<circle cx="403.01" cy="793.86" r="2.5"/>
<circle cx="402" cy="801.43" r="2.5"/>
<circle cx="407.15" cy="757.06" r="2.5"/>
<circle cx="408.94" cy="727.49" r="2.5"/>
<circle cx="403.85" cy="757.21" r="2.5"/>
<circle cx="401.53" cy="760.18" r="2.5"/>
<circle cx="406.66" cy="781.9" r="2.5"/>
<circle cx="406.96" cy="776.45" r="2.5"/>
<circle cx="406.44" cy="779.19" r="2.5"/>
<circle cx="400.16" cy="699.56" r="2.5"/>
<circle cx="402.82" cy="709.14" r="2.5"/>
<circle cx="399.7" cy="737.5" r="2.5"/>
<circle cx="400.68" cy="777.29" r="2.5"/>
<circle cx="393.62" cy="768.05" r="2.5"/>
<circle cx="402.02" cy="743.58" r="2.5"/>
<circle cx="400.78" cy="735.65" r="2.5"/>
<circle cx="404.65" cy="808.34" r="2.5"/>
<circle cx="409.47" cy="772.26" r="2.5"/>
<circle cx="397.93" cy="775.25" r="2.5"/>
<circle cx="397.57" cy="795.03" r="2.5"/>
<circle cx="399.55" cy="709.67" r="2.5"/>
<circle cx="409.01" cy="785.4" r="2.5"/>
<circle cx="399.88" cy="776.18" r="2.5"/>
<circle cx="397.74" cy="772.2" r="2.5"/>
<circle cx="402.61" cy="769.12" r="2.5"/>
<circle cx="398.24" cy="738.66" r="2.5"/>
<circle cx="403.3" cy="742.9" r="2.5"/>
<circle cx="408.45" cy="761.15" r="2.5"/>
<circle cx="405.67" cy="710.93" r="2.5"/>
<circle cx="397.8" cy="793.43" r="2.5"/>
<circle cx="398.06" cy="786.05" r="2.5"/>
<circle cx="403.72" cy="767.03" r="2.5"/>
<circle cx="404.99" cy="804.16" r="2.5"/>
<circle cx="390.35" cy="769.32" r="2.5"/>
<circle cx="399.49" cy="766.61" r="2.5"/>
<circle cx="406.82" cy="767.81" r="2.5"/>
<circle cx="406.48" cy="787.73" r="2.5"/>
<circle cx="392.87" cy="735.15" r="2.5"/>
<circle cx="404.72" cy="776.7" r="2.5"/>
<circle cx="402.81" cy="772.5" r="2.5"/>
<circle cx="405.04" cy="698.5" r="2.5"/>
<circle cx="396.97" cy="733.49" r="2.5"/>
<circle cx="401.33" cy="753.89" r="2.5"/>
<circle cx="399.29" cy="801.53" r="2.5"/>
<circle cx="398.34" cy="777.73" r="2.5"/>
<circle cx="400.76" cy="774.58" r="2.5"/>
<circle cx="409.45" cy="731.45" r="2.5"/>
<circle cx="405.1" cy="746.16" r="2.5"/>
<circle cx="395.41" cy="788.53" r="2.5"/>
<circle cx="401.9" cy="750.15" r="2.5"/>
<circle cx="402.16" cy="793.08" r="2.5"/>
<circle cx="396.82" cy="767.83" r="2.5"/>
<circle cx="405.6" cy="737.71" r="2.5"/>
<circle cx="398.58" cy="772.22" r="2.5"/>
<circle cx="404.68" cy="769.58" r="2.5"/>
<circle cx="403.69" cy="789.19" r="2.5"/>
<circle cx="401.38" cy="771.01" r="2.5"/>
<circle cx="404.06" cy="797.54" r="2.5"/>
<circle cx="403.45" cy="792.41" r="2.5"/>
<circle cx="399.4" cy="766.98" r="2.5"/>
<circle cx="397.41" cy="755.61" r="2.5"/>
<circle cx="403.26" cy="776.11" r="2.5"/>
<circle cx="402.47" cy="769.39" r="2.5"/>
<circle cx="401.88" cy="725.89" r="2.5"/>
<circle cx="405.7" cy="792.23" r="2.5"/>
<circle cx="396.04" cy="748.06" r="2.5"/>
<circle cx="399.51" cy="765.28" r="2.5"/>
<circle cx="399.12" cy="805.9" r="2.5"/>
<circle cx="404.74" cy="802.06" r="2.5"/>
<circle cx="402.08" cy="737.66" r="2.5"/>
<circle cx="410.58" cy="796.84" r="2.5"/>
<circle cx="395.33" cy="754.55" r="2.5"/>
<circle cx="401.67" cy="766.52" r="2.5"/>
<circle cx="402.37" cy="775.8" r="2.5"/>
<circle cx="408.75" cy="766.86" r="2.5"/>
<circle cx="394.05" cy="765.89" r="2.5"/>
<circle cx="391.67" cy="709.08" r="2.5"/>
<circle cx="396.76" cy="759.51" r="2.5"/>
<circle cx="396.31" cy="776.51" r="2.5"/>
<circle cx="400.86" cy="753.87" r="2.5"/>
<circle cx="393.54" cy="732.7" r="2.5"/>
<circle cx="403.96" cy="785.7" r="2.5"/>
<circle cx="401.67" cy="705" r="2.5"/>
<circle cx="403.04" cy="714.42" r="2.5"/>
<circle cx="400.85" cy="700.6" r="2.5"/>
<circle cx="398.24" cy="778.12" r="2.5"/>
<circle cx="403.25" cy="794.14" r="2.5"/>
<circle cx="404.16" cy="718.06" r="2.5"/>
<circle cx="410.66" cy="720.1" r="2.5"/>
<circle cx="400.21" cy="806.83" r="2.5"/>
<circle cx="396.09" cy="726.83" r="2.5"/>
<circle cx="403.94" cy="710.72" r="2.5"/>
<circle cx="408.69" cy="776.7" r="2.5"/>
<circle cx="393.79" cy="797.3" r="2.5"/>
<circle cx="402.29" cy="741" r="2.5"/>
<circle cx="398.34" cy="758.04" r="2.5"/>
<circle cx="402.85" cy="711.78" r="2.5"/>
<circle cx="402.36" cy="746.84" r="2.5"/>
<circle cx="398.71" cy="785.99" r="2.5"/>
<circle cx="400.29" cy="739.37" r="2.5"/>
<circle cx="403.35" cy="747.54" r="2.5"/>
<circle cx="403.13" cy="804.72" r="2.5"/>
<circle cx="400.47" cy="789.52" r="2.5"/>
<circle cx="399.47" cy="763.08" r="2.5"/>
<circle cx="402.69" cy="790.2" r="2.5"/>
<circle cx="398.37" cy="749.29" r="2.5"/>
<circle cx="404.95" cy="773.1" r="2.5"/>
<circle cx="406.37" cy="712.16" r="2.5"/>
<circle cx="402.03" cy="792.77" r="2.5"/>
<circle cx="405.61" cy="781.84" r="2.5"/>
<circle cx="408.04" cy="771.96" r="2.5"/>
<circle cx="400.82" cy="736.54" r="2.5"/>
<circle cx="402.6" cy="721.13" r="2.5"/>
<circle cx="394.03" cy="728.04" r="2.5"/>
<circle cx="399.2" cy="793.02" r="2.5"/>
<circle cx="403.32" cy="722.71" r="2.5"/>
<circle cx="402.58" cy="756.16" r="2.5"/>
<circle cx="395.86" cy="740.89" r="2.5"/>
<circle cx="408.73" cy="776.3" r="2.5"/>
<circle cx="402.21" cy="780.32" r="2.5"/>
<circle cx="405.58" cy="757.66" r="2.5"/>
<circle cx="403.22" cy="800.8" r="2.5"/>
<circle cx="401.65" cy="803.37" r="2.5"/>
<circle cx="394.12" cy="807.92" r="2.5"/>
<circle cx="408.71" cy="737.22" r="2.5"/>
<circle cx="394.28" cy="794.56" r="2.5"/>
<circle cx="400.6" cy="732.72" r="2.5"/>
<circle cx="400.37" cy="733.08" r="2.5"/>
<circle cx="405.38" cy="794.77" r="2.5"/>
<circle cx="406.51" cy="728.45" r="2.5"/>
<circle cx="412.17" cy="806.86" r="2.5"/>
<circle cx="396.42" cy="770.98" r="2.5"/>
<circle cx="404.77" cy="809.36" r="2.5"/>
<circle cx="406.28" cy="715.91" r="2.5"/>
<circle cx="408.74" cy="771.93" r="2.5"/>
<circle cx="400.76" cy="790.42" r="2.5"/>
<circle cx="405.62" cy="800.95" r="2.5"/>
<circle cx="396.65" cy="788.79" r="2.5"/>
<circle cx="401.3" cy="723.14" r="2.5"/>
<circle cx="408.66" cy="784.2" r="2.5"/>
<circle cx="397.22" cy="751.61" r="2.5"/>
<circle cx="402.11" cy="790.85" r="2.5"/>
<circle cx="399.74" cy="756.68" r="2.5"/>
<circle cx="404.17" cy="757.68" r="2.5"/>
<circle cx="401.35" cy="799.08" r="2.5"/>
<circle cx="402.51" cy="747.22" r="2.5"/>
<circle cx="405.88" cy="746.73" r="2.5"/>
<circle cx="397.91" cy="769.02" r="2.5"/>
<circle cx="396.71" cy="740.78" r="2.5"/>
<circle cx="404.42" cy="761.47" r="2.5"/>
<circle cx="407.34" cy="759.11" r="2.5"/>
<circle cx="399.9" cy="746.32" r="2.5"/>
<circle cx="402.67" cy="784.86" r="2.5"/>
<circle cx="403.11" cy="750.36" r="2.5"/>
<circle cx="399.69" cy="765.21" r="2.5"/>
<circle cx="399.7" cy="776.73" r="2.5"/>
<circle cx="401.4" cy="803.55" r="2.5"/>
<circle cx="405.9" cy="762.92" r="2.5"/>
<circle cx="405.2" cy="790.38" r="2.5"/>
<circle cx="395.92" cy="768.6" r="2.5"/>
<circle cx="399.44" cy="727.29" r="2.5"/>
<circle cx="401.04" cy="705.47" r="2.5"/>
<circle cx="403.48" cy="720.06" r="2.5"/>
<circle cx="398.44" cy="723.16" r="2.5"/>
<circle cx="399.14" cy="787.85" r="2.5"/>
<circle cx="402.22" cy="777.16" r="2.5"/>
<circle cx="402.93" cy="806.74" r="2.5"/>
<circle cx="400.97" cy="768" r="2.5"/>
<circle cx="395.02" cy="752.57" r="2.5"/>
<circle cx="401.17" cy="745.94" r="2.5"/>
<circle cx="396.33" cy="784.62" r="2.5"/>
<circle cx="403.55" cy="770.42" r="2.5"/>
<circle cx="396.95" cy="741.9" r="2.5"/>
<circle cx="394.47" cy="748.85" r="2.5"/>
<circle cx="398.84" cy="771.23" r="2.5"/>
<circle cx="406.22" cy="708.21" r="2.5"/>
<circle cx="401.03" cy="716.99" r="2.5"/>
<circle cx="401.59" cy="789.21" r="2.5"/>
<circle cx="401.66" cy="799.17" r="2.5"/>
<circle cx="397.82" cy="766.58" r="2.5"/>
<circle cx="398.36" cy="714.32" r="2.5"/>
<circle cx="405.68" cy="801.88" r="2.5"/>
<circle cx="402.01" cy="787.12" r="2.5"/>
<circle cx="403.98" cy="781.28" r="2.5"/>
<circle cx="404.96" cy="732.19" r="2.5"/>
<circle cx="401.92" cy="743.46" r="2.5"/>
<circle cx="403.3" cy="796.44" r="2.5"/>
<circle cx="398.72" cy="795.94" r="2.5"/>
<circle cx="403.35" cy="787.48" r="2.5"/>
<circle cx="405.27" cy="767.38" r="2.5"/>
<circle cx="397.28" cy="755.35" r="2.5"/>
<circle cx="403.21" cy="776.17" r="2.5"/>
<circle cx="395.88" cy="776.52" r="2.5"/>
<circle cx="400.94" cy="731.09" r="2.5"/>
<circle cx="400.39" cy="725.29" r="2.5"/>
<circle cx="396.31" cy="746.58" r="2.5"/>
<circle cx="401.96" cy="761.44" r="2.5"/>
<circle cx="402.87" cy="738.28" r="2.5"/>
<circle cx="393.18" cy="761.68" r="2.5"/>
<circle cx="401.64" cy="743.52" r="2.5"/>
<circle cx="398.1" cy="779.51" r="2.5"/>
<circle cx="396.75" cy="780.58" r="2.5"/>
<circle cx="402.18" cy="768.25" r="2.5"/>
<circle cx="395.89" cy="724.34" r="2.5"/>
<circle cx="393.13" cy="790.18" r="2.5"/>
<circle cx="399.8" cy="723.27" r="2.5"/>
<circle cx="398.69" cy="792.58" r="2.5"/>
<circle cx="396.74" cy="750.12" r="2.5"/>
<circle cx="402.69" cy="784.55" r="2.5"/>
<circle cx="401.49" cy="795.84" r="2.5"/>
<circle cx="412.25" cy="731.96" r="2.5"/>
<circle cx="404.93" cy="706" r="2.5"/>
<circle cx="391.72" cy="724.54" r="2.5"/>
<circle cx="400.71" cy="700.57" r="2.5"/>
<circle cx="402.6" cy="801.43" r="2.5"/>
<circle cx="407.06" cy="742.41" r="2.5"/>
<circle cx="401.3" cy="746.56" r="2.5"/>
<circle cx="406.1" cy="715.73" r="2.5"/>
<circle cx="402.41" cy="766.28" r="2.5"/>
<circle cx="392.83" cy="805.41" r="2.5"/>
<circle cx="396.24" cy="751.24" r="2.5"/>
<circle cx="405.24" cy="797.23" r="2.5"/>
<circle cx="408.86" cy="754.09" r="2.5"/>
<circle cx="402.31" cy="766.24" r="2.5"/>
<circle cx="399.25" cy="772.12" r="2.5"/>
<circle cx="397.98" cy="764.2" r="2.5"/>
<circle cx="401.25" cy="802.22" r="2.5"/>
<circle cx="398.28" cy="746.09" r="2.5"/>
<circle cx="400.13" cy="720.04" r="2.5"/>
<circle cx="405.79" cy="745.5" r="2.5"/>
<circle cx="402.21" cy="722.38" r="2.5"/>
<circle cx="406.31" cy="747.48" r="2.5"/>
<circle cx="404.23" cy="737.86" r="2.5"/>
<circle cx="401.61" cy="790.83" r="2.5"/>
<circle cx="402.34" cy="741.77" r="2.5"/>
<circle cx="394.69" cy="804.13" r="2.5"/>
<circle cx="406.39" cy="795.94" r="2.5"/>
<circle cx="411.5" cy="800.37" r="2.5"/>
<circle cx="402.72" cy="809.17" r="2.5"/>
<circle cx="390.11" cy="806.27" r="2.5"/>
<circle cx="411.26" cy="799.07" r="2.5"/>
<circle cx="405.92" cy="795.27" r="2.5"/>
<circle cx="394.87" cy="797.42" r="2.5"/>
<circle cx="385.1" cy="807.7" r="2.5"/>
<circle cx="405.36" cy="802.85" r="2.5"/>
<circle cx="388.55" cy="802.66" r="2.5"/>
<circle cx="411.71" cy="799.88" r="2.5"/>
<circle cx="386.96" cy="805.62" r="2.5"/>
<circle cx="410.39" cy="806.71" r="2.5"/>
<circle cx="420.04" cy="807.32" r="2.5"/>
<circle cx="404.79" cy="804.7" r="2.5"/>
<circle cx="396.43" cy="805.56" r="2.5"/>
<circle cx="392.42" cy="807.43" r="2.5"/>
<circle cx="388.06" cy="803.36" r="2.5"/>
<circle cx="399.98" cy="804.98" r="2.5"/>
<circle cx="397.61" cy="804.43" r="2.5"/>
<circle cx="409.88" cy="799.27" r="2.5"/>
<circle cx="393.94" cy="809.13" r="2.5"/>
<circle cx="402.01" cy="806.12" r="2.5"/>
<circle cx="412.92" cy="809.79" r="2.5"/>
<circle cx="389.64" cy="806.15" r="2.5"/>
<circle cx="412.61" cy="796.69" r="2.5"/>
<circle cx="403.93" cy="808.11" r="2.5"/>
<circle cx="398.78" cy="807.77" r="2.5"/>
<circle cx="383.51" cy="796.39" r="2.5"/>
<circle cx="400.04" cy="795.52" r="2.5"/>
<circle cx="398.64" cy="802.1" r="2.5"/>
<circle cx="407.19" cy="808.68" r="2.5"/>
<circle cx="389.7" cy="804.59" r="2.5"/>
<circle cx="391.78" cy="795.26" r="2.5"/>
<circle cx="391.37" cy="800.12" r="2.5"/>
<circle cx="396.88" cy="799.26" r="2.5"/>
<circle cx="391.65" cy="803.21" r="2.5"/>
<circle cx="408.57" cy="797.13" r="2.5"/>
<circle cx="412.53" cy="800.15" r="2.5"/>
<circle cx="410.64" cy="807.02" r="2.5"/>
<circle cx="395.85" cy="805.38" r="2.5"/>
<circle cx="409.66" cy="800.24" r="2.5"/>
<circle cx="388.03" cy="796.09" r="2.5"/>
<circle cx="394.33" cy="809.13" r="2.5"/>
<circle cx="385.51" cy="809.1" r="2.5"/>
<circle cx="397.97" cy="801.83" r="2.5"/>
<circle cx="408.89" cy="804.76" r="2.5"/>
<circle cx="400.94" cy="800.66" r="2.5"/>
<circle cx="407.85" cy="800.01" r="2.5"/>
<circle cx="390.21" cy="805.05" r="2.5"/>
<circle cx="402.82" cy="806.48" r="2.5"/>
<circle cx="393.18" cy="795.92" r="2.5"/>
<circle cx="385.69" cy="805.99" r="2.5"/>
<circle cx="389.65" cy="805.55" r="2.5"/>
<circle cx="405.02" cy="802.31" r="2.5"/>
<circle cx="402.91" cy="799.41" r="2.5"/>
<circle cx="412.72" cy="800.83" r="2.5"/>
<circle cx="391.55" cy="797.74" r="2.5"/>
<circle cx="392.97" cy="800.99" r="2.5"/>
<circle cx="410.16" cy="809.07" r="2.5"/>
<circle cx="402.02" cy="805.12" r="2.5"/>
<circle cx="404.29" cy="804.67" r="2.5"/>
<circle cx="412.3" cy="805.2" r="2.5"/>
<circle cx="397.51" cy="807.81" r="2.5"/>
<circle cx="397.02" cy="808.02" r="2.5"/>
<circle cx="409.22" cy="795.8" r="2.5"/>
<circle cx="410.52" cy="797" r="2.5"/>
<circle cx="391.95" cy="803.59" r="2.5"/>
<circle cx="389.53" cy="801.6" r="2.5"/>
<circle cx="391.93" cy="798.3" r="2.5"/>
<circle cx="391.79" cy="798.32" r="2.5"/>
<circle cx="400.51" cy="808.24" r="2.5"/>
<circle cx="404.86" cy="800.1" r="2.5"/>
<circle cx="400.1" cy="808.83" r="2.5"/>
<circle cx="413.38" cy="802.48" r="2.5"/>
<circle cx="392" cy="805.93" r="2.5"/>
<circle cx="404.8" cy="807.58" r="2.5"/>
<circle cx="387.81" cy="809.38" r="2.5"/>
<circle cx="403.87" cy="804" r="2.5"/>
<circle cx="404.69" cy="800.84" r="2.5"/>
<circle cx="401.33" cy="798.56" r="2.5"/>
<circle cx="381.23" cy="796.87" r="2.5"/>
<circle cx="400.98" cy="805.42" r="2.5"/>
<circle cx="403.45" cy="803.31" r="2.5"/>
<circle cx="393.57" cy="798.06" r="2.5"/>
<circle cx="415.6" cy="801.32" r="2.5"/>
<circle cx="392.85" cy="797.94" r="2.5"/>
<circle cx="399.28" cy="797.82" r="2.5"/>
<circle cx="399.16" cy="803.87" r="2.5"/>
<circle cx="389.56" cy="805.38" r="2.5"/>
<circle cx="404.7" cy="806.13" r="2.5"/>
<circle cx="397.32" cy="798.32" r="2.5"/>
<circle cx="402.47" cy="796.59" r="2.5"/>
<circle cx="402.91" cy="801.85" r="2.5"/>
<circle cx="388.51" cy="799.93" r="2.5"/>
<circle cx="394.31" cy="804.51" r="2.5"/>
<circle cx="410.08" cy="801.29" r="2.5"/>
<circle cx="393.57" cy="795.3" r="2.5"/>
<circle cx="408.41" cy="804.59" r="2.5"/>
<circle cx="420.58" cy="803.51" r="2.5"/>
<circle cx="390.48" cy="799.08" r="2.5"/>
<circle cx="402.2" cy="807.9" r="2.5"/>
<circle cx="406.29" cy="801.95" r="2.5"/>
<circle cx="402.11" cy="803.97" r="2.5"/>
<circle cx="383.67" cy="805.04" r="2.5"/>
<circle cx="391.68" cy="803.13" r="2.5"/>
<circle cx="397.47" cy="803.83" r="2.5"/>
<circle cx="394.88" cy="803.16" r="2.5"/>
<circle cx="409.08" cy="807.59" r="2.5"/>
<circle cx="384.14" cy="799.83" r="2.5"/>
<circle cx="398.39" cy="705.05" r="2.5"/>
<circle cx="380.18" cy="697.46" r="2.5"/>
<circle cx="402.85" cy="692.07" r="2.5"/>
<circle cx="387.48" cy="715.86" r="2.5"/>
<circle cx="393.83" cy="687.81" r="2.5"/>
<circle cx="392.65" cy="718.36" r="2.5"/>
<circle cx="395.96" cy="688.48" r="2.5"/>
<circle cx="400.41" cy="695.75" r="2.5"/>
<circle cx="385.83" cy="698.75" r="2.5"/>
<circle cx="402.72" cy="711.88" r="2.5"/>
<circle cx="391.24" cy="708.29" r="2.5"/>
<circle cx="400.25" cy="693.4" r="2.5"/>
<circle cx="400.5" cy="712.47" r="2.5"/>
<circle cx="397.9" cy="721.73" r="2.5"/>
<circle cx="389.29" cy="719.84" r="2.5"/>
<circle cx="386.53" cy="693.14" r="2.5"/>
<circle cx="412.13" cy="715.88" r="2.5"/>
<circle cx="401.44" cy="697.7" r="2.5"/>
<circle cx="397.19" cy="688.71" r="2.5"/>
<circle cx="391.37" cy="703.84" r="2.5"/>
<circle cx="391.12" cy="691.29" r="2.5"/>
<circle cx="395.77" cy="714.01" r="2.5"/>
<circle cx="401.58" cy="704.76" r="2.5"/>
<circle cx="388.13" cy="691.66" r="2.5"/>
<circle cx="387.44" cy="716.9" r="2.5"/>
<circle cx="404.23" cy="713.56" r="2.5"/>
<circle cx="402.76" cy="707.29" r="2.5"/>
<circle cx="394.21" cy="689.07" r="2.5"/>
<circle cx="393.08" cy="702.11" r="2.5"/>
<circle cx="402.15" cy="712.15" r="2.5"/>
<circle cx="398.76" cy="750.86" r="2.5"/>
<circle cx="391.68" cy="712.95" r="2.5"/>
<circle cx="393.52" cy="785.42" r="2.5"/>
<circle cx="401.11" cy="735.93" r="2.5"/>
<circle cx="396.27" cy="770.11" r="2.5"/>
<circle cx="394.7" cy="769.35" r="2.5"/>
<circle cx="400.51" cy="765.66" r="2.5"/>
<circle cx="400.18" cy="785.81" r="2.5"/>
<circle cx="415.94" cy="702.37" r="2.5"/>
<circle cx="400.58" cy="781.22" r="2.5"/>
<circle cx="407.16" cy="730.25" r="2.5"/>
<circle cx="390.85" cy="740.03" r="2.5"/>
<circle cx="396.26" cy="780.24" r="2.5"/>
<circle cx="379.83" cy="788.61" r="2.5"/>
<circle cx="392.16" cy="702.65" r="2.5"/>
<circle cx="419.66" cy="724.95" r="2.5"/>
<circle cx="416.6" cy="725.81" r="2.5"/>
<circle cx="393.92" cy="723.34" r="2.5"/>
<circle cx="396.75" cy="744.91" r="2.5"/>
<circle cx="380.96" cy="772.06" r="2.5"/>
<circle cx="394.17" cy="712.26" r="2.5"/>
<circle cx="423.5" cy="728.63" r="2.5"/>
<circle cx="400.04" cy="745.63" r="2.5"/>
<circle cx="396.91" cy="747.12" r="2.5"/>
<circle cx="388.71" cy="752.8" r="2.5"/>
<circle cx="397.72" cy="783.49" r="2.5"/>
<circle cx="398.65" cy="754.5" r="2.5"/>
<circle cx="384.37" cy="772.85" r="2.5"/>
<circle cx="390.32" cy="786.21" r="2.5"/>
<circle cx="410.82" cy="746.67" r="2.5"/>
<circle cx="395.1" cy="767.3" r="2.5"/>
<circle cx="393.57" cy="707.35" r="2.5"/>
<circle cx="387.86" cy="760.25" r="2.5"/>
<circle cx="406.78" cy="725.82" r="2.5"/>
<circle cx="397.01" cy="752.07" r="2.5"/>
<circle cx="411.81" cy="785.84" r="2.5"/>
<circle cx="411.34" cy="718.42" r="2.5"/>
<circle cx="393.61" cy="775.43" r="2.5"/>
<circle cx="399.54" cy="744.25" r="2.5"/>
<circle cx="410.59" cy="700.03" r="2.5"/>
<circle cx="416.47" cy="703.53" r="2.5"/>
<circle cx="403.63" cy="795.08" r="2.5"/>
<circle cx="413.7" cy="781.61" r="2.5"/>
<circle cx="429.9" cy="740.1" r="2.5"/>
<circle cx="437.7" cy="767.8" r="2.5"/>
<circle cx="375.2" cy="792.6" r="2.5"/>
<circle cx="376" cy="743" r="2.5"/>
<circle cx="365" cy="694" r="2.5"/>
<circle cx="372" cy="705" r="2.5"/>
<circle cx="386" cy="686" r="2.5"/>
<circle cx="397" cy="685" r="2.5"/>
<circle cx="409" cy="688" r="2.5"/>
<circle cx="421" cy="697" r="2.5"/>
<circle cx="418" cy="712" r="2.5"/>
<circle cx="419" cy="722" r="2.5"/>
<circle cx="377" cy="712" r="2.5"/>
<circle cx="375" cy="718" r="2.5"/>
<circle cx="383" cy="767" r="2.5"/>
<circle cx="381" cy="762" r="2.5"/>
<circle cx="417" cy="776" r="2.5"/>
<circle cx="418" cy="770" r="2.5"/>
<circle cx="420" cy="781" r="2.5"/>
<circle cx="383" cy="805" r="2.5"/>
<circle cx="385" cy="800" r="2.5"/>
<circle cx="416" cy="800" r="2.5"/>
<circle cx="417" cy="806" r="2.5"/>
<circle cx="380" cy="808" r="2.5"/>
<circle cx="422" cy="744" r="2.5"/>
<circle cx="425" cy="740" r="2.5"/>
<circle cx="416" cy="735" r="2.5"/>
</g>
<line x1="368.7" y1="765.3" x2="437.7" y2="782.6" stroke="#e3e3e3" stroke-width="1.3"/>
<line x1="365.8" y1="688.2" x2="365.8" y2="808.8" stroke="#808080" stroke-width="1.4"/>
<line x1="365.8" y1="685.8" x2="365.8" y2="687.2" stroke="#666" stroke-width="1.2"/>
<g fill="#8b1a1a">
<circle cx="308.7" cy="685.6" r="2.45"/>
<circle cx="346.6" cy="698.4" r="2.45"/>
<circle cx="345.6" cy="704.2" r="2.45"/>
<circle cx="355.1" cy="708.9" r="2.45"/>
<circle cx="379.8" cy="693.7" r="2.45"/>
<circle cx="409.5" cy="708.2" r="2.45"/>
<circle cx="404.8" cy="710.1" r="2.45"/>
<circle cx="386.2" cy="711.7" r="2.45"/>
<circle cx="379.6" cy="714.3" r="2.45"/>
<circle cx="393.8" cy="715.4" r="2.45"/>
<circle cx="396.7" cy="716.6" r="2.45"/>
<circle cx="403.1" cy="719.6" r="2.45"/>
<circle cx="398.2" cy="724.8" r="2.45"/>
<circle cx="389.4" cy="728.7" r="2.45"/>
<circle cx="389" cy="732.2" r="2.45"/>
<circle cx="381" cy="733.8" r="2.45"/>
<circle cx="402.2" cy="733.2" r="2.45"/>
<circle cx="397.1" cy="754.4" r="2.45"/>
<circle cx="383.8" cy="756.2" r="2.45"/>
<circle cx="403.2" cy="762.3" r="2.45"/>
<circle cx="396.2" cy="776.2" r="2.45"/>
<circle cx="396.6" cy="789.7" r="2.45"/>
<circle cx="398.7" cy="794.4" r="2.45"/>
<circle cx="398.5" cy="796.5" r="2.45"/>
</g>
<g fill="#e8352e">
<circle cx="269.5" cy="688.4" r="2.45"/>
<circle cx="352.8" cy="701.5" r="2.45"/>
<circle cx="376.1" cy="694.5" r="2.45"/>
<circle cx="407.4" cy="722.9" r="2.45"/>
<circle cx="382" cy="727.8" r="2.45"/>
<circle cx="398.3" cy="740.8" r="2.45"/>
<circle cx="393.9" cy="746" r="2.45"/>
<circle cx="387.5" cy="749" r="2.45"/>
<circle cx="370.6" cy="765.7" r="2.45"/>
<circle cx="420.9" cy="773.2" r="2.45"/>
</g>
<line x1="269.5" y1="682.1" x2="420.9" y2="751.8" stroke="#e8352e" stroke-width="1.5"/>
<line x1="309.1" y1="679.2" x2="409.7" y2="748.3" stroke="#8b1a1a" stroke-width="1.5"/>
<line x1="366.5" y1="765.1" x2="374.5" y2="767" stroke="#fff" stroke-width="0.7"/>
<line x1="261.5" y1="646" x2="261.5" y2="816.95" stroke="#333" stroke-width="0.9"/>
<line x1="261.05" y1="816.5" x2="445.7" y2="816.5" stroke="#333" stroke-width="0.9"/>
<line x1="259.9" y1="686.5" x2="261.5" y2="686.5" stroke="#333" stroke-width="0.7"/>
<text transform="translate(259.2 688.3) scale(1 1.15)" font-size="7.8" fill="#4d4d4d" stroke="#4d4d4d" stroke-width="0.18" text-anchor="end">7.5</text>
<line x1="259.9" y1="727.2" x2="261.5" y2="727.2" stroke="#333" stroke-width="0.7"/>
<text transform="translate(259.2 729) scale(1 1.15)" font-size="7.8" fill="#4d4d4d" stroke="#4d4d4d" stroke-width="0.18" text-anchor="end">5.0</text>
<line x1="259.9" y1="767.8" x2="261.5" y2="767.8" stroke="#333" stroke-width="0.7"/>
<text transform="translate(259.2 769.6) scale(1 1.15)" font-size="7.8" fill="#4d4d4d" stroke="#4d4d4d" stroke-width="0.18" text-anchor="end">2.5</text>
<line x1="259.9" y1="808.5" x2="261.5" y2="808.5" stroke="#333" stroke-width="0.7"/>
<text transform="translate(259.2 810.3) scale(1 1.15)" font-size="7.8" fill="#4d4d4d" stroke="#4d4d4d" stroke-width="0.18" text-anchor="end">0.0</text>
<line x1="272.5" y1="816.5" x2="272.5" y2="818.3" stroke="#333" stroke-width="0.7"/>
<text transform="translate(274.3 825) scale(1 1.15)" font-size="7.8" fill="#4d4d4d" stroke="#4d4d4d" stroke-width="0.18" text-anchor="middle">−2</text>
<line x1="334.4" y1="816.5" x2="334.4" y2="818.3" stroke="#333" stroke-width="0.7"/>
<text transform="translate(336.4 825) scale(1 1.15)" font-size="7.8" fill="#4d4d4d" stroke="#4d4d4d" stroke-width="0.18" text-anchor="middle">−1</text>
<line x1="396.2" y1="816.5" x2="396.2" y2="818.3" stroke="#333" stroke-width="0.7"/>
<text transform="translate(396.2 825) scale(1 1.15)" font-size="7.8" fill="#4d4d4d" stroke="#4d4d4d" stroke-width="0.18" text-anchor="middle">0</text>
<text transform="translate(354.5 837.7) scale(1 1.05)" font-size="10.5" text-anchor="middle" fill="#111"><tspan font-style="italic">TCF4</tspan> Gene Effect (DEMETER2) RNAi</text>
<text x="243.3" y="728.4" font-size="10.6" text-anchor="middle" fill="#111" transform="rotate(-90 243.3 728.4)"><tspan font-style="italic" letter-spacing="-0.3">TCF4</tspan> Expression (log2 TPM)</text>
<text transform="translate(269.8 789) scale(1 1.15)" font-size="7.9" fill="#8b1a1a" stroke="#8b1a1a" stroke-width="0.18" font-style="italic">R = -0.51, p = 0.0096</text>
<text transform="translate(269.8 798.5) scale(1 1.15)" font-size="7.9" fill="#e8352e" stroke="#e8352e" stroke-width="0.18" font-style="italic">R = -0.66, p= 0.037</text>
<text transform="translate(269.8 807.9) scale(1 1.15)" font-size="7.9" fill="#8a8a8a" stroke="#8a8a8a" stroke-width="0.18" font-style="italic">R = -0.06, p = 0.13</text>
<text transform="translate(233.72 646) scale(0.84 1)" font-size="25">E</text>
</g>
<g id="pF">
<g fill="#e4e4e4">
<circle cx="593.16" cy="809.11" r="2.5"/>
<circle cx="588.81" cy="766.63" r="2.5"/>
<circle cx="577.79" cy="792.67" r="2.5"/>
<circle cx="582.6" cy="789.1" r="2.5"/>
<circle cx="568.49" cy="790.25" r="2.5"/>
<circle cx="573.06" cy="766.56" r="2.5"/>
<circle cx="577.06" cy="789.53" r="2.5"/>
<circle cx="591.49" cy="758.61" r="2.5"/>
<circle cx="587.34" cy="794.82" r="2.5"/>
<circle cx="577.2" cy="749.99" r="2.5"/>
<circle cx="583.94" cy="771.43" r="2.5"/>
<circle cx="585.74" cy="760.71" r="2.5"/>
<circle cx="581.59" cy="800.04" r="2.5"/>
<circle cx="588.67" cy="785.8" r="2.5"/>
<circle cx="579.54" cy="756.16" r="2.5"/>
<circle cx="591.34" cy="806" r="2.5"/>
<circle cx="592.27" cy="754.09" r="2.5"/>
<circle cx="579.25" cy="806.72" r="2.5"/>
<circle cx="585" cy="771.54" r="2.5"/>
<circle cx="586.87" cy="768.83" r="2.5"/>
<circle cx="586.89" cy="748.01" r="2.5"/>
<circle cx="581.22" cy="773.05" r="2.5"/>
<circle cx="594.76" cy="776.11" r="2.5"/>
<circle cx="587.23" cy="801.52" r="2.5"/>
<circle cx="589.33" cy="795.78" r="2.5"/>
<circle cx="582.42" cy="776.86" r="2.5"/>
<circle cx="587.29" cy="774.04" r="2.5"/>
<circle cx="583.6" cy="808.5" r="2.5"/>
<circle cx="590.26" cy="764.38" r="2.5"/>
<circle cx="586.61" cy="767.81" r="2.5"/>
<circle cx="589.18" cy="798.2" r="2.5"/>
<circle cx="584.28" cy="761.56" r="2.5"/>
<circle cx="587.36" cy="750.61" r="2.5"/>
<circle cx="581.62" cy="808.88" r="2.5"/>
<circle cx="594.79" cy="757.41" r="2.5"/>
<circle cx="585.36" cy="782.07" r="2.5"/>
<circle cx="580.34" cy="788.6" r="2.5"/>
<circle cx="593.68" cy="793.33" r="2.5"/>
<circle cx="594.27" cy="759.71" r="2.5"/>
<circle cx="593.87" cy="783.04" r="2.5"/>
<circle cx="589.03" cy="778.92" r="2.5"/>
<circle cx="572.98" cy="776.74" r="2.5"/>
<circle cx="592.89" cy="783.13" r="2.5"/>
<circle cx="596.7" cy="794.77" r="2.5"/>
<circle cx="595.43" cy="763.75" r="2.5"/>
<circle cx="582.15" cy="775.62" r="2.5"/>
<circle cx="587.21" cy="800.41" r="2.5"/>
<circle cx="589.63" cy="787.97" r="2.5"/>
<circle cx="588.86" cy="770.9" r="2.5"/>
<circle cx="592.08" cy="797.7" r="2.5"/>
<circle cx="587.8" cy="749.48" r="2.5"/>
<circle cx="578.64" cy="756.38" r="2.5"/>
<circle cx="578.2" cy="746.32" r="2.5"/>
<circle cx="581.8" cy="793" r="2.5"/>
<circle cx="579.69" cy="745.99" r="2.5"/>
<circle cx="580.28" cy="767.33" r="2.5"/>
<circle cx="582.26" cy="751.05" r="2.5"/>
<circle cx="583.16" cy="746.71" r="2.5"/>
<circle cx="594.22" cy="790.95" r="2.5"/>
<circle cx="586.44" cy="786" r="2.5"/>
<circle cx="581.69" cy="744.77" r="2.5"/>
<circle cx="590.62" cy="797.07" r="2.5"/>
<circle cx="579.9" cy="751.52" r="2.5"/>
<circle cx="583.67" cy="762.28" r="2.5"/>
<circle cx="576.14" cy="748.76" r="2.5"/>
<circle cx="591.91" cy="795.2" r="2.5"/>
<circle cx="584.86" cy="785.08" r="2.5"/>
<circle cx="588.65" cy="753.74" r="2.5"/>
<circle cx="595.3" cy="792.18" r="2.5"/>
<circle cx="583.61" cy="780.08" r="2.5"/>
<circle cx="594.68" cy="780.2" r="2.5"/>
<circle cx="574.73" cy="753.36" r="2.5"/>
<circle cx="572.78" cy="760.07" r="2.5"/>
<circle cx="583.41" cy="798.28" r="2.5"/>
<circle cx="581.18" cy="779.37" r="2.5"/>
<circle cx="575.64" cy="778.64" r="2.5"/>
<circle cx="580.94" cy="787.59" r="2.5"/>
<circle cx="580.03" cy="801.19" r="2.5"/>
<circle cx="580.51" cy="752.27" r="2.5"/>
<circle cx="584.25" cy="750.69" r="2.5"/>
<circle cx="576.94" cy="762.2" r="2.5"/>
<circle cx="580.62" cy="785.23" r="2.5"/>
<circle cx="584.72" cy="806.61" r="2.5"/>
<circle cx="582.71" cy="783.07" r="2.5"/>
<circle cx="575.54" cy="776.1" r="2.5"/>
<circle cx="585.59" cy="777.51" r="2.5"/>
<circle cx="573.38" cy="793.18" r="2.5"/>
<circle cx="582.79" cy="753.49" r="2.5"/>
<circle cx="582.26" cy="769.51" r="2.5"/>
<circle cx="580.14" cy="775.03" r="2.5"/>
<circle cx="594.66" cy="788.95" r="2.5"/>
<circle cx="580.69" cy="779.21" r="2.5"/>
<circle cx="567.17" cy="761.5" r="2.5"/>
<circle cx="590.93" cy="793.33" r="2.5"/>
<circle cx="583.68" cy="759.93" r="2.5"/>
<circle cx="576.18" cy="804.29" r="2.5"/>
<circle cx="590.56" cy="806.12" r="2.5"/>
<circle cx="592.84" cy="792.9" r="2.5"/>
<circle cx="582.55" cy="793.2" r="2.5"/>
<circle cx="572.69" cy="769.3" r="2.5"/>
<circle cx="583.65" cy="773.63" r="2.5"/>
<circle cx="582.88" cy="805.56" r="2.5"/>
<circle cx="588.06" cy="779.23" r="2.5"/>
<circle cx="573.33" cy="762.32" r="2.5"/>
<circle cx="583.66" cy="750.66" r="2.5"/>
<circle cx="580.67" cy="755.83" r="2.5"/>
<circle cx="580.57" cy="777" r="2.5"/>
<circle cx="571.86" cy="776.31" r="2.5"/>
<circle cx="595.08" cy="805.39" r="2.5"/>
<circle cx="586.34" cy="781.71" r="2.5"/>
<circle cx="574.07" cy="753.92" r="2.5"/>
<circle cx="587.25" cy="797.54" r="2.5"/>
<circle cx="581.46" cy="807.91" r="2.5"/>
<circle cx="595.03" cy="795.66" r="2.5"/>
<circle cx="574.5" cy="776.15" r="2.5"/>
<circle cx="586.37" cy="786.29" r="2.5"/>
<circle cx="573.34" cy="775.66" r="2.5"/>
<circle cx="575.7" cy="751.42" r="2.5"/>
<circle cx="575.93" cy="786.4" r="2.5"/>
<circle cx="587.22" cy="809.57" r="2.5"/>
<circle cx="582.97" cy="802.05" r="2.5"/>
<circle cx="575.42" cy="771.57" r="2.5"/>
<circle cx="587.21" cy="759.9" r="2.5"/>
<circle cx="576.02" cy="748.88" r="2.5"/>
<circle cx="600.07" cy="774.57" r="2.5"/>
<circle cx="582.82" cy="805.95" r="2.5"/>
<circle cx="594.56" cy="785.09" r="2.5"/>
<circle cx="588.66" cy="770.57" r="2.5"/>
<circle cx="593.41" cy="764.27" r="2.5"/>
<circle cx="572.21" cy="754.59" r="2.5"/>
<circle cx="598.56" cy="758.31" r="2.5"/>
<circle cx="580.55" cy="801.82" r="2.5"/>
<circle cx="586.45" cy="750.77" r="2.5"/>
<circle cx="580.1" cy="781.93" r="2.5"/>
<circle cx="582.48" cy="744.23" r="2.5"/>
<circle cx="588.86" cy="763.79" r="2.5"/>
<circle cx="586.71" cy="758.64" r="2.5"/>
<circle cx="584.78" cy="777.46" r="2.5"/>
<circle cx="579.11" cy="757.91" r="2.5"/>
<circle cx="580.43" cy="779.04" r="2.5"/>
<circle cx="578.59" cy="776.78" r="2.5"/>
<circle cx="580.17" cy="783.28" r="2.5"/>
<circle cx="587.7" cy="800.22" r="2.5"/>
<circle cx="583.84" cy="796.94" r="2.5"/>
<circle cx="575.89" cy="802.69" r="2.5"/>
<circle cx="590.04" cy="795.34" r="2.5"/>
<circle cx="585.03" cy="759.49" r="2.5"/>
<circle cx="581.49" cy="754.03" r="2.5"/>
<circle cx="589.46" cy="770.89" r="2.5"/>
<circle cx="583.75" cy="791.09" r="2.5"/>
<circle cx="587.56" cy="803.27" r="2.5"/>
<circle cx="579.58" cy="766.29" r="2.5"/>
<circle cx="587.13" cy="804.77" r="2.5"/>
<circle cx="581.41" cy="746.34" r="2.5"/>
<circle cx="589.54" cy="787.77" r="2.5"/>
<circle cx="579.48" cy="796.9" r="2.5"/>
<circle cx="598.68" cy="797.05" r="2.5"/>
<circle cx="578.83" cy="750.68" r="2.5"/>
<circle cx="591.9" cy="758.63" r="2.5"/>
<circle cx="583.24" cy="761.63" r="2.5"/>
<circle cx="584.26" cy="784.38" r="2.5"/>
<circle cx="591.81" cy="779.11" r="2.5"/>
<circle cx="579.25" cy="747.57" r="2.5"/>
<circle cx="583.96" cy="746.66" r="2.5"/>
<circle cx="567.08" cy="782.14" r="2.5"/>
<circle cx="582.68" cy="807.61" r="2.5"/>
<circle cx="584.03" cy="790.06" r="2.5"/>
<circle cx="600.87" cy="753.56" r="2.5"/>
<circle cx="596.28" cy="782.65" r="2.5"/>
<circle cx="587.37" cy="806.55" r="2.5"/>
<circle cx="589.35" cy="798.16" r="2.5"/>
<circle cx="597.43" cy="786.42" r="2.5"/>
<circle cx="585.69" cy="804.72" r="2.5"/>
<circle cx="592.3" cy="745.82" r="2.5"/>
<circle cx="587.35" cy="784.13" r="2.5"/>
<circle cx="584.72" cy="769.3" r="2.5"/>
<circle cx="584.03" cy="797.22" r="2.5"/>
<circle cx="597.39" cy="800.54" r="2.5"/>
<circle cx="602.95" cy="792.31" r="2.5"/>
<circle cx="593.75" cy="775.43" r="2.5"/>
<circle cx="582.85" cy="798.67" r="2.5"/>
<circle cx="578.64" cy="753.86" r="2.5"/>
<circle cx="589.7" cy="801.9" r="2.5"/>
<circle cx="590.57" cy="778.55" r="2.5"/>
<circle cx="586.32" cy="787.36" r="2.5"/>
<circle cx="582.36" cy="793.8" r="2.5"/>
<circle cx="598.71" cy="757.14" r="2.5"/>
<circle cx="572.55" cy="774.58" r="2.5"/>
<circle cx="584.68" cy="772.15" r="2.5"/>
<circle cx="580.22" cy="789.59" r="2.5"/>
<circle cx="585.58" cy="778.17" r="2.5"/>
<circle cx="583.32" cy="782.39" r="2.5"/>
<circle cx="577.29" cy="796.39" r="2.5"/>
<circle cx="587.59" cy="792.22" r="2.5"/>
<circle cx="584.92" cy="763.66" r="2.5"/>
<circle cx="590.06" cy="802.17" r="2.5"/>
<circle cx="590.46" cy="747.17" r="2.5"/>
<circle cx="594.59" cy="768.54" r="2.5"/>
<circle cx="581.64" cy="749.51" r="2.5"/>
<circle cx="582.59" cy="801.2" r="2.5"/>
<circle cx="590.74" cy="784.14" r="2.5"/>
<circle cx="590.34" cy="758.18" r="2.5"/>
<circle cx="578.21" cy="783.48" r="2.5"/>
<circle cx="591.22" cy="766.28" r="2.5"/>
<circle cx="591.62" cy="744.91" r="2.5"/>
<circle cx="585.07" cy="784.11" r="2.5"/>
<circle cx="582.62" cy="755.48" r="2.5"/>
<circle cx="592.42" cy="774.79" r="2.5"/>
<circle cx="580.33" cy="783.67" r="2.5"/>
<circle cx="594.93" cy="747.68" r="2.5"/>
<circle cx="581.28" cy="805.26" r="2.5"/>
<circle cx="575.49" cy="759.35" r="2.5"/>
<circle cx="575.82" cy="767.29" r="2.5"/>
<circle cx="579.62" cy="794.83" r="2.5"/>
<circle cx="585.61" cy="768.99" r="2.5"/>
<circle cx="571.69" cy="791.96" r="2.5"/>
<circle cx="581.53" cy="745.82" r="2.5"/>
<circle cx="589.4" cy="755.75" r="2.5"/>
<circle cx="583.78" cy="766.58" r="2.5"/>
<circle cx="589.04" cy="800.16" r="2.5"/>
<circle cx="576.17" cy="788.33" r="2.5"/>
<circle cx="579.35" cy="781.64" r="2.5"/>
<circle cx="579.1" cy="748.93" r="2.5"/>
<circle cx="594.89" cy="808.71" r="2.5"/>
<circle cx="579.07" cy="792.09" r="2.5"/>
<circle cx="580.84" cy="763.85" r="2.5"/>
<circle cx="581.34" cy="786.47" r="2.5"/>
<circle cx="583.23" cy="747.47" r="2.5"/>
<circle cx="588.63" cy="803.79" r="2.5"/>
<circle cx="583.02" cy="779.59" r="2.5"/>
<circle cx="579.32" cy="796" r="2.5"/>
<circle cx="585.93" cy="751.71" r="2.5"/>
<circle cx="588.68" cy="771.99" r="2.5"/>
<circle cx="592.38" cy="755.9" r="2.5"/>
<circle cx="583.96" cy="773.58" r="2.5"/>
<circle cx="596.93" cy="776.79" r="2.5"/>
<circle cx="582.29" cy="758.27" r="2.5"/>
<circle cx="583.4" cy="786.32" r="2.5"/>
<circle cx="591.4" cy="766.68" r="2.5"/>
<circle cx="587.57" cy="759.58" r="2.5"/>
<circle cx="584.77" cy="782.5" r="2.5"/>
<circle cx="590.66" cy="793.72" r="2.5"/>
<circle cx="580.49" cy="769.74" r="2.5"/>
<circle cx="584.24" cy="793.38" r="2.5"/>
<circle cx="573.95" cy="783.45" r="2.5"/>
<circle cx="581.21" cy="797.58" r="2.5"/>
<circle cx="584.18" cy="772.78" r="2.5"/>
<circle cx="585.4" cy="789.57" r="2.5"/>
<circle cx="580.12" cy="803.25" r="2.5"/>
<circle cx="580.34" cy="758.36" r="2.5"/>
<circle cx="601.83" cy="753.85" r="2.5"/>
<circle cx="592.43" cy="805.3" r="2.5"/>
<circle cx="588.98" cy="776.38" r="2.5"/>
<circle cx="591.3" cy="767.14" r="2.5"/>
<circle cx="582.9" cy="752.05" r="2.5"/>
<circle cx="584.41" cy="806.34" r="2.5"/>
<circle cx="577.59" cy="771.98" r="2.5"/>
<circle cx="583.42" cy="752.41" r="2.5"/>
<circle cx="588.85" cy="763.44" r="2.5"/>
<circle cx="578.38" cy="781.03" r="2.5"/>
<circle cx="582.09" cy="799.59" r="2.5"/>
<circle cx="573.76" cy="797.16" r="2.5"/>
<circle cx="594.05" cy="792.72" r="2.5"/>
<circle cx="583.39" cy="768.13" r="2.5"/>
<circle cx="579.58" cy="803.27" r="2.5"/>
<circle cx="581.47" cy="760.97" r="2.5"/>
<circle cx="587.55" cy="799.67" r="2.5"/>
<circle cx="583.67" cy="763.43" r="2.5"/>
<circle cx="591.65" cy="760.26" r="2.5"/>
<circle cx="588.96" cy="787.4" r="2.5"/>
<circle cx="579.21" cy="784.59" r="2.5"/>
<circle cx="581.19" cy="761.54" r="2.5"/>
<circle cx="580.6" cy="780.34" r="2.5"/>
<circle cx="576.02" cy="748.61" r="2.5"/>
<circle cx="597.55" cy="793.88" r="2.5"/>
<circle cx="581.62" cy="789.05" r="2.5"/>
<circle cx="576.75" cy="781.25" r="2.5"/>
<circle cx="591.61" cy="754.47" r="2.5"/>
<circle cx="596.94" cy="802.91" r="2.5"/>
<circle cx="581.86" cy="800.57" r="2.5"/>
<circle cx="583.11" cy="750.63" r="2.5"/>
<circle cx="580.84" cy="753.21" r="2.5"/>
<circle cx="568.58" cy="749.35" r="2.5"/>
<circle cx="587.2" cy="800.86" r="2.5"/>
<circle cx="592.59" cy="754.64" r="2.5"/>
<circle cx="588.42" cy="770.52" r="2.5"/>
<circle cx="577.07" cy="771.25" r="2.5"/>
<circle cx="579.35" cy="777.34" r="2.5"/>
<circle cx="579.79" cy="803.77" r="2.5"/>
<circle cx="580.67" cy="803.41" r="2.5"/>
<circle cx="594.35" cy="769.24" r="2.5"/>
<circle cx="585.96" cy="762.26" r="2.5"/>
<circle cx="581.03" cy="794.29" r="2.5"/>
<circle cx="590.03" cy="804.63" r="2.5"/>
<circle cx="583.6" cy="763.98" r="2.5"/>
<circle cx="587.3" cy="754.31" r="2.5"/>
<circle cx="587.64" cy="802.44" r="2.5"/>
<circle cx="586.67" cy="789.3" r="2.5"/>
<circle cx="578.05" cy="796.93" r="2.5"/>
<circle cx="584.85" cy="777.7" r="2.5"/>
<circle cx="584.77" cy="767.61" r="2.5"/>
<circle cx="585.28" cy="762.75" r="2.5"/>
<circle cx="597.04" cy="774.63" r="2.5"/>
<circle cx="589.28" cy="782.96" r="2.5"/>
<circle cx="572.68" cy="788.68" r="2.5"/>
<circle cx="580.68" cy="758.31" r="2.5"/>
<circle cx="570.96" cy="750.36" r="2.5"/>
<circle cx="597.32" cy="761.76" r="2.5"/>
<circle cx="588.34" cy="793.57" r="2.5"/>
<circle cx="579.24" cy="778.01" r="2.5"/>
<circle cx="588.67" cy="808.01" r="2.5"/>
<circle cx="585.27" cy="758.85" r="2.5"/>
<circle cx="584.15" cy="792.21" r="2.5"/>
<circle cx="590.41" cy="782.37" r="2.5"/>
<circle cx="570.76" cy="781.95" r="2.5"/>
<circle cx="593.57" cy="785.28" r="2.5"/>
<circle cx="578.65" cy="763.37" r="2.5"/>
<circle cx="597.94" cy="745.49" r="2.5"/>
<circle cx="571.79" cy="744.81" r="2.5"/>
<circle cx="590.79" cy="806.06" r="2.5"/>
<circle cx="600.8" cy="788.4" r="2.5"/>
<circle cx="575.31" cy="806.86" r="2.5"/>
<circle cx="589.28" cy="761.89" r="2.5"/>
<circle cx="600.34" cy="809.58" r="2.5"/>
<circle cx="594.45" cy="790.33" r="2.5"/>
<circle cx="589" cy="794.22" r="2.5"/>
<circle cx="588.56" cy="769.12" r="2.5"/>
<circle cx="572.03" cy="777.2" r="2.5"/>
<circle cx="568.94" cy="764.33" r="2.5"/>
<circle cx="573.14" cy="806.51" r="2.5"/>
<circle cx="591.26" cy="763.01" r="2.5"/>
<circle cx="587.6" cy="763.36" r="2.5"/>
<circle cx="590.59" cy="763.19" r="2.5"/>
<circle cx="575.19" cy="786.39" r="2.5"/>
<circle cx="592.44" cy="808.47" r="2.5"/>
<circle cx="595.12" cy="773.34" r="2.5"/>
<circle cx="584.82" cy="763.13" r="2.5"/>
<circle cx="588.58" cy="798.92" r="2.5"/>
<circle cx="587.6" cy="762.49" r="2.5"/>
<circle cx="592.37" cy="802.46" r="2.5"/>
<circle cx="592.05" cy="752.76" r="2.5"/>
<circle cx="590.06" cy="785.26" r="2.5"/>
<circle cx="576.39" cy="791.56" r="2.5"/>
<circle cx="577.36" cy="761.69" r="2.5"/>
<circle cx="582.31" cy="803.8" r="2.5"/>
<circle cx="585.75" cy="805.69" r="2.5"/>
<circle cx="589.49" cy="796.16" r="2.5"/>
<circle cx="584.6" cy="772.71" r="2.5"/>
<circle cx="582.14" cy="808.83" r="2.5"/>
<circle cx="595.76" cy="784.83" r="2.5"/>
<circle cx="580.86" cy="759.38" r="2.5"/>
<circle cx="581.14" cy="768.22" r="2.5"/>
<circle cx="579.55" cy="786.76" r="2.5"/>
<circle cx="584.13" cy="767.12" r="2.5"/>
<circle cx="574.99" cy="785.23" r="2.5"/>
<circle cx="583.88" cy="744.98" r="2.5"/>
<circle cx="581.79" cy="766.11" r="2.5"/>
<circle cx="589.88" cy="803.7" r="2.5"/>
<circle cx="583.97" cy="763.95" r="2.5"/>
<circle cx="580.73" cy="776.41" r="2.5"/>
<circle cx="594.25" cy="769.56" r="2.5"/>
<circle cx="589.82" cy="777.9" r="2.5"/>
<circle cx="590.91" cy="763.89" r="2.5"/>
<circle cx="582.21" cy="800.13" r="2.5"/>
<circle cx="598.64" cy="767.79" r="2.5"/>
<circle cx="587.69" cy="791.27" r="2.5"/>
<circle cx="577.04" cy="773.78" r="2.5"/>
<circle cx="587.19" cy="749.26" r="2.5"/>
<circle cx="592.93" cy="805.33" r="2.5"/>
<circle cx="591.64" cy="747.44" r="2.5"/>
<circle cx="582.09" cy="777.92" r="2.5"/>
<circle cx="591.19" cy="750.81" r="2.5"/>
<circle cx="592.25" cy="803.9" r="2.5"/>
<circle cx="574.72" cy="767.31" r="2.5"/>
<circle cx="573.15" cy="748.38" r="2.5"/>
<circle cx="593.58" cy="745.54" r="2.5"/>
<circle cx="585.16" cy="801.21" r="2.5"/>
<circle cx="575.96" cy="797.64" r="2.5"/>
<circle cx="584.37" cy="771.64" r="2.5"/>
<circle cx="579.35" cy="768.35" r="2.5"/>
<circle cx="584.41" cy="768.67" r="2.5"/>
<circle cx="584.66" cy="762.53" r="2.5"/>
<circle cx="579.29" cy="808.8" r="2.5"/>
<circle cx="585.54" cy="750.85" r="2.5"/>
<circle cx="577.39" cy="805.44" r="2.5"/>
<circle cx="584.09" cy="792.28" r="2.5"/>
<circle cx="573.42" cy="779.95" r="2.5"/>
<circle cx="594.21" cy="791.79" r="2.5"/>
<circle cx="582.21" cy="768.39" r="2.5"/>
<circle cx="576.7" cy="774.66" r="2.5"/>
<circle cx="582.16" cy="762.65" r="2.5"/>
<circle cx="600.32" cy="756.22" r="2.5"/>
<circle cx="593.36" cy="768.19" r="2.5"/>
<circle cx="589.83" cy="745.23" r="2.5"/>
<circle cx="578.48" cy="771.52" r="2.5"/>
<circle cx="596.1" cy="797.23" r="2.5"/>
<circle cx="585.52" cy="798.55" r="2.5"/>
<circle cx="590.37" cy="783.96" r="2.5"/>
<circle cx="584.77" cy="764.47" r="2.5"/>
<circle cx="574.83" cy="770.28" r="2.5"/>
<circle cx="587.96" cy="758.56" r="2.5"/>
<circle cx="579.75" cy="761.11" r="2.5"/>
<circle cx="582.99" cy="790.03" r="2.5"/>
<circle cx="602.29" cy="746.89" r="2.5"/>
<circle cx="573.52" cy="791.12" r="2.5"/>
<circle cx="582.3" cy="783.5" r="2.5"/>
<circle cx="591.92" cy="785.13" r="2.5"/>
<circle cx="594.33" cy="748.75" r="2.5"/>
<circle cx="571.22" cy="772.22" r="2.5"/>
<circle cx="588.43" cy="808.67" r="2.5"/>
<circle cx="578.17" cy="775.67" r="2.5"/>
<circle cx="587.02" cy="759.08" r="2.5"/>
<circle cx="579.39" cy="760.05" r="2.5"/>
<circle cx="589.29" cy="746.85" r="2.5"/>
<circle cx="579.25" cy="781.3" r="2.5"/>
<circle cx="586.88" cy="788.81" r="2.5"/>
<circle cx="588.59" cy="790.14" r="2.5"/>
<circle cx="586.07" cy="750.69" r="2.5"/>
<circle cx="586.05" cy="762.92" r="2.5"/>
<circle cx="586.87" cy="788.34" r="2.5"/>
<circle cx="575.99" cy="789.52" r="2.5"/>
<circle cx="578.28" cy="745.17" r="2.5"/>
<circle cx="575.69" cy="756.43" r="2.5"/>
<circle cx="597.12" cy="804.69" r="2.5"/>
<circle cx="593.6" cy="771.72" r="2.5"/>
<circle cx="588.12" cy="785.45" r="2.5"/>
<circle cx="580.93" cy="792.61" r="2.5"/>
<circle cx="581.59" cy="796.73" r="2.5"/>
<circle cx="588.09" cy="799.24" r="2.5"/>
<circle cx="576.85" cy="788.74" r="2.5"/>
<circle cx="600.41" cy="739.98" r="2.5"/>
<circle cx="584.63" cy="741.79" r="2.5"/>
<circle cx="581.6" cy="738.29" r="2.5"/>
<circle cx="589.78" cy="725.97" r="2.5"/>
<circle cx="587.89" cy="734.31" r="2.5"/>
<circle cx="582.56" cy="732.12" r="2.5"/>
<circle cx="585.89" cy="731.34" r="2.5"/>
<circle cx="579.43" cy="698.17" r="2.5"/>
<circle cx="585.74" cy="719.27" r="2.5"/>
<circle cx="572.28" cy="743.65" r="2.5"/>
<circle cx="578.11" cy="743.92" r="2.5"/>
<circle cx="586.15" cy="727.28" r="2.5"/>
<circle cx="581.08" cy="743.87" r="2.5"/>
<circle cx="572.22" cy="739.55" r="2.5"/>
<circle cx="589.32" cy="695.22" r="2.5"/>
<circle cx="594.39" cy="726.3" r="2.5"/>
<circle cx="587.79" cy="707.91" r="2.5"/>
<circle cx="574.34" cy="740.34" r="2.5"/>
<circle cx="576.01" cy="741.22" r="2.5"/>
<circle cx="599.21" cy="743.61" r="2.5"/>
<circle cx="591.65" cy="735.38" r="2.5"/>
<circle cx="592.94" cy="730.33" r="2.5"/>
<circle cx="571.13" cy="706.58" r="2.5"/>
<circle cx="581.37" cy="717.76" r="2.5"/>
<circle cx="587.16" cy="703.16" r="2.5"/>
<circle cx="581.05" cy="701.95" r="2.5"/>
<circle cx="598.85" cy="743.71" r="2.5"/>
<circle cx="581.71" cy="734.81" r="2.5"/>
<circle cx="583.38" cy="723.94" r="2.5"/>
<circle cx="580.51" cy="726.53" r="2.5"/>
<circle cx="593.36" cy="737.47" r="2.5"/>
<circle cx="589.23" cy="720.56" r="2.5"/>
<circle cx="590.59" cy="727.82" r="2.5"/>
<circle cx="595.99" cy="720.57" r="2.5"/>
<circle cx="578.55" cy="711.75" r="2.5"/>
<circle cx="589.17" cy="724.79" r="2.5"/>
<circle cx="588.72" cy="709.27" r="2.5"/>
<circle cx="586.01" cy="739.67" r="2.5"/>
<circle cx="587.2" cy="717.7" r="2.5"/>
<circle cx="592.19" cy="743.71" r="2.5"/>
<circle cx="584.02" cy="699.91" r="2.5"/>
<circle cx="578.78" cy="736.68" r="2.5"/>
<circle cx="587.92" cy="741" r="2.5"/>
<circle cx="578.59" cy="728.78" r="2.5"/>
<circle cx="589.49" cy="740.03" r="2.5"/>
<circle cx="580.43" cy="744.62" r="2.5"/>
<circle cx="599.74" cy="726.3" r="2.5"/>
<circle cx="579.5" cy="730.32" r="2.5"/>
<circle cx="585.94" cy="743.11" r="2.5"/>
<circle cx="584.85" cy="740.7" r="2.5"/>
<circle cx="573.42" cy="742.67" r="2.5"/>
<circle cx="571.38" cy="723.58" r="2.5"/>
<circle cx="587.37" cy="732.53" r="2.5"/>
<circle cx="589.35" cy="743.28" r="2.5"/>
<circle cx="585.41" cy="728.36" r="2.5"/>
<circle cx="583.76" cy="744.33" r="2.5"/>
<circle cx="581.29" cy="713.23" r="2.5"/>
<circle cx="591.21" cy="743.87" r="2.5"/>
<circle cx="588.72" cy="740.85" r="2.5"/>
<circle cx="598.2" cy="724.4" r="2.5"/>
<circle cx="580.05" cy="737.21" r="2.5"/>
<circle cx="576.49" cy="720.79" r="2.5"/>
<circle cx="583.17" cy="718" r="2.5"/>
<circle cx="576.64" cy="718.31" r="2.5"/>
<circle cx="580.23" cy="732.12" r="2.5"/>
<circle cx="589.11" cy="737.2" r="2.5"/>
<circle cx="578.94" cy="739.02" r="2.5"/>
<circle cx="596.15" cy="732.88" r="2.5"/>
<circle cx="580.66" cy="735.67" r="2.5"/>
<circle cx="570.62" cy="714.07" r="2.5"/>
<circle cx="590.75" cy="708.48" r="2.5"/>
<circle cx="592.12" cy="741.13" r="2.5"/>
<circle cx="598.44" cy="723.35" r="2.5"/>
<circle cx="575.03" cy="732.18" r="2.5"/>
<circle cx="580.16" cy="724.34" r="2.5"/>
<circle cx="603.66" cy="721.87" r="2.5"/>
<circle cx="595.91" cy="739.31" r="2.5"/>
<circle cx="587.73" cy="743.59" r="2.5"/>
<circle cx="584.2" cy="712.86" r="2.5"/>
<circle cx="589.8" cy="743.56" r="2.5"/>
<circle cx="590.46" cy="721.44" r="2.5"/>
<circle cx="592.31" cy="734.19" r="2.5"/>
<circle cx="591.15" cy="743.09" r="2.5"/>
<circle cx="584.32" cy="733.04" r="2.5"/>
<circle cx="601.26" cy="722.94" r="2.5"/>
<circle cx="586.47" cy="738.99" r="2.5"/>
<circle cx="580.13" cy="717.63" r="2.5"/>
<circle cx="589.84" cy="735.58" r="2.5"/>
<circle cx="581.87" cy="708.89" r="2.5"/>
<circle cx="595.27" cy="720.45" r="2.5"/>
<circle cx="588.76" cy="710.26" r="2.5"/>
<circle cx="586.62" cy="739.32" r="2.5"/>
<circle cx="595.53" cy="704.2" r="2.5"/>
<circle cx="593.71" cy="713.77" r="2.5"/>
<circle cx="587.43" cy="707.89" r="2.5"/>
<circle cx="592.5" cy="704.47" r="2.5"/>
<circle cx="577.35" cy="725.71" r="2.5"/>
<circle cx="584.61" cy="741.25" r="2.5"/>
<circle cx="592.61" cy="737.48" r="2.5"/>
<circle cx="584.47" cy="723.1" r="2.5"/>
<circle cx="576.05" cy="697.45" r="2.5"/>
<circle cx="581.17" cy="723.54" r="2.5"/>
<circle cx="580.52" cy="727.78" r="2.5"/>
<circle cx="585.53" cy="718.19" r="2.5"/>
<circle cx="584.28" cy="726.39" r="2.5"/>
<circle cx="592.61" cy="738.72" r="2.5"/>
<circle cx="580.63" cy="724.95" r="2.5"/>
<circle cx="576.77" cy="739.2" r="2.5"/>
<circle cx="572.14" cy="694.71" r="2.5"/>
<circle cx="581.2" cy="702.07" r="2.5"/>
<circle cx="569.35" cy="807.32" r="2.5"/>
<circle cx="577.18" cy="789.51" r="2.5"/>
<circle cx="569.76" cy="801.09" r="2.5"/>
<circle cx="581.81" cy="802.82" r="2.5"/>
<circle cx="572.32" cy="790.16" r="2.5"/>
<circle cx="580.41" cy="794.77" r="2.5"/>
<circle cx="574.86" cy="792.33" r="2.5"/>
<circle cx="563.38" cy="789.6" r="2.5"/>
<circle cx="583.69" cy="796.25" r="2.5"/>
<circle cx="565.42" cy="808.81" r="2.5"/>
<circle cx="572.75" cy="806.47" r="2.5"/>
<circle cx="572.41" cy="789.41" r="2.5"/>
<circle cx="571.64" cy="801.31" r="2.5"/>
<circle cx="573.11" cy="803.43" r="2.5"/>
<circle cx="563.82" cy="796.19" r="2.5"/>
<circle cx="587.84" cy="790.88" r="2.5"/>
<circle cx="571.52" cy="808.94" r="2.5"/>
<circle cx="581.59" cy="802.16" r="2.5"/>
<circle cx="573.45" cy="790.19" r="2.5"/>
<circle cx="597.33" cy="790.47" r="2.5"/>
<circle cx="583.72" cy="808.49" r="2.5"/>
<circle cx="579.21" cy="809" r="2.5"/>
<circle cx="579.94" cy="793.61" r="2.5"/>
<circle cx="577.88" cy="799.63" r="2.5"/>
<circle cx="579.09" cy="802.54" r="2.5"/>
<circle cx="583.21" cy="805.28" r="2.5"/>
<circle cx="567.7" cy="799.27" r="2.5"/>
<circle cx="587.25" cy="804.61" r="2.5"/>
<circle cx="588.7" cy="795.16" r="2.5"/>
<circle cx="605.14" cy="791.26" r="2.5"/>
<circle cx="569.93" cy="791.8" r="2.5"/>
<circle cx="592.05" cy="799.28" r="2.5"/>
<circle cx="576.46" cy="803.16" r="2.5"/>
<circle cx="595.45" cy="794.21" r="2.5"/>
<circle cx="572.59" cy="790.59" r="2.5"/>
<circle cx="581.71" cy="791.76" r="2.5"/>
<circle cx="571.92" cy="801.13" r="2.5"/>
<circle cx="560.97" cy="807.49" r="2.5"/>
<circle cx="596.85" cy="806.9" r="2.5"/>
<circle cx="578.3" cy="791.57" r="2.5"/>
<circle cx="564.61" cy="802.9" r="2.5"/>
<circle cx="576.79" cy="793.25" r="2.5"/>
<circle cx="592.06" cy="795.39" r="2.5"/>
<circle cx="561.06" cy="803.96" r="2.5"/>
<circle cx="600.38" cy="789.01" r="2.5"/>
<circle cx="563.53" cy="803.55" r="2.5"/>
<circle cx="584.04" cy="806.71" r="2.5"/>
<circle cx="572.38" cy="805.6" r="2.5"/>
<circle cx="580.92" cy="788.92" r="2.5"/>
<circle cx="588.24" cy="803.27" r="2.5"/>
<circle cx="561.44" cy="803.69" r="2.5"/>
<circle cx="580" cy="795.11" r="2.5"/>
<circle cx="594.43" cy="801.21" r="2.5"/>
<circle cx="575.74" cy="801.99" r="2.5"/>
<circle cx="568.63" cy="809.4" r="2.5"/>
<circle cx="592.01" cy="797.41" r="2.5"/>
<circle cx="573.55" cy="805.59" r="2.5"/>
<circle cx="563.61" cy="804.1" r="2.5"/>
<circle cx="573.75" cy="789.87" r="2.5"/>
<circle cx="582.34" cy="800" r="2.5"/>
<circle cx="590.24" cy="791.43" r="2.5"/>
<circle cx="578.2" cy="803.44" r="2.5"/>
<circle cx="585.82" cy="793" r="2.5"/>
<circle cx="584.41" cy="794.92" r="2.5"/>
<circle cx="581.28" cy="795.15" r="2.5"/>
<circle cx="571.05" cy="800.19" r="2.5"/>
<circle cx="597.31" cy="796.88" r="2.5"/>
<circle cx="598.32" cy="796.74" r="2.5"/>
<circle cx="570.08" cy="796.62" r="2.5"/>
<circle cx="577.22" cy="806.03" r="2.5"/>
<circle cx="594.52" cy="793.24" r="2.5"/>
<circle cx="586.51" cy="790.98" r="2.5"/>
<circle cx="556.49" cy="806.8" r="2.5"/>
<circle cx="582.98" cy="795.41" r="2.5"/>
<circle cx="582.16" cy="799.74" r="2.5"/>
<circle cx="567.81" cy="796.36" r="2.5"/>
<circle cx="575.35" cy="797.56" r="2.5"/>
<circle cx="580.61" cy="809.18" r="2.5"/>
<circle cx="582.13" cy="788.01" r="2.5"/>
<circle cx="575.36" cy="790.2" r="2.5"/>
<circle cx="582.23" cy="790.48" r="2.5"/>
<circle cx="588.71" cy="800.85" r="2.5"/>
<circle cx="594.22" cy="788.98" r="2.5"/>
<circle cx="579" cy="809.32" r="2.5"/>
<circle cx="578.32" cy="809.33" r="2.5"/>
<circle cx="594.98" cy="798.3" r="2.5"/>
<circle cx="569.39" cy="790.58" r="2.5"/>
<circle cx="579.48" cy="795.38" r="2.5"/>
<circle cx="566.42" cy="798.3" r="2.5"/>
<circle cx="571.39" cy="808.59" r="2.5"/>
<circle cx="582.45" cy="702.68" r="2.5"/>
<circle cx="576.63" cy="717.84" r="2.5"/>
<circle cx="585.36" cy="749.89" r="2.5"/>
<circle cx="588.02" cy="766.57" r="2.5"/>
<circle cx="595.86" cy="725.34" r="2.5"/>
<circle cx="598.61" cy="732.6" r="2.5"/>
<circle cx="584.35" cy="696.09" r="2.5"/>
<circle cx="566.88" cy="743.4" r="2.5"/>
<circle cx="582.83" cy="752.37" r="2.5"/>
<circle cx="564.34" cy="733.65" r="2.5"/>
<circle cx="565.62" cy="745.87" r="2.5"/>
<circle cx="581.01" cy="711.59" r="2.5"/>
<circle cx="605.36" cy="714.31" r="2.5"/>
<circle cx="570.48" cy="764.23" r="2.5"/>
<circle cx="556.6" cy="695.09" r="2.5"/>
<circle cx="591.09" cy="746.1" r="2.5"/>
<circle cx="586.63" cy="711.25" r="2.5"/>
<circle cx="571.86" cy="775.83" r="2.5"/>
<circle cx="595.13" cy="771.77" r="2.5"/>
<circle cx="583.75" cy="720.86" r="2.5"/>
<circle cx="597.18" cy="771.76" r="2.5"/>
<circle cx="587.86" cy="726.74" r="2.5"/>
<circle cx="576.43" cy="698.05" r="2.5"/>
<circle cx="598.67" cy="771.25" r="2.5"/>
<circle cx="582.49" cy="782.5" r="2.5"/>
<circle cx="592.94" cy="776.07" r="2.5"/>
<circle cx="585.55" cy="759.7" r="2.5"/>
<circle cx="584.51" cy="735.8" r="2.5"/>
<circle cx="598.45" cy="753.69" r="2.5"/>
<circle cx="589.96" cy="763.33" r="2.5"/>
<circle cx="585.69" cy="707.73" r="2.5"/>
<circle cx="592.3" cy="704.37" r="2.5"/>
<circle cx="580.73" cy="706.4" r="2.5"/>
<circle cx="606.42" cy="740.07" r="2.5"/>
<circle cx="592.03" cy="751.31" r="2.5"/>
<circle cx="582.09" cy="766.43" r="2.5"/>
<circle cx="612.29" cy="768.47" r="2.5"/>
<circle cx="564.05" cy="706.47" r="2.5"/>
<circle cx="579.84" cy="723.48" r="2.5"/>
<circle cx="586.62" cy="763" r="2.5"/>
<circle cx="603" cy="690" r="2.5"/>
<circle cx="600" cy="685" r="2.5"/>
<circle cx="612" cy="704" r="2.5"/>
<circle cx="624" cy="705" r="2.5"/>
<circle cx="608" cy="716" r="2.5"/>
<circle cx="610" cy="722" r="2.5"/>
<circle cx="555" cy="700" r="2.5"/>
<circle cx="557" cy="686" r="2.5"/>
<circle cx="562" cy="718" r="2.5"/>
<circle cx="552" cy="704" r="2.5"/>
<circle cx="556" cy="737" r="2.5"/>
<circle cx="568" cy="745" r="2.5"/>
<circle cx="565" cy="752" r="2.5"/>
<circle cx="612" cy="747" r="2.5"/>
<circle cx="610" cy="754" r="2.5"/>
<circle cx="611" cy="762" r="2.5"/>
<circle cx="618" cy="790" r="2.5"/>
<circle cx="614" cy="787" r="2.5"/>
<circle cx="608" cy="801" r="2.5"/>
<circle cx="609" cy="796" r="2.5"/>
<circle cx="556" cy="795" r="2.5"/>
<circle cx="558" cy="800" r="2.5"/>
<circle cx="554" cy="803" r="2.5"/>
<circle cx="560" cy="805" r="2.5"/>
<circle cx="563" cy="808" r="2.5"/>
<circle cx="607" cy="766" r="2.5"/>
<circle cx="603" cy="758" r="2.5"/>
<circle cx="560" cy="760" r="2.5"/>
<circle cx="566" cy="770" r="2.5"/>
</g>
<line x1="537.8" y1="758.2" x2="614.6" y2="781.2" stroke="#e8e8e8" stroke-width="1.1"/>
<line x1="537" y1="679" x2="537" y2="808.8" stroke="#808080" stroke-width="1.4"/>
<line x1="537" y1="656.5" x2="537" y2="678.6" stroke="#808080" stroke-width="1.1" stroke-dasharray="1.4 2.6"/>
<g fill="#8b1a1a">
<circle cx="543.5" cy="656.6" r="2.45"/>
<circle cx="576.6" cy="674.6" r="2.45"/>
<circle cx="565.4" cy="680.2" r="2.45"/>
<circle cx="561.3" cy="683.6" r="2.45"/>
<circle cx="527.6" cy="687.9" r="2.45"/>
<circle cx="581.7" cy="687.3" r="2.45"/>
<circle cx="567" cy="691.4" r="2.45"/>
<circle cx="552.3" cy="692.4" r="2.45"/>
<circle cx="531.1" cy="694.9" r="2.45"/>
<circle cx="540.9" cy="697.1" r="2.45"/>
<circle cx="553.5" cy="698.5" r="2.45"/>
<circle cx="572.1" cy="700.2" r="2.45"/>
<circle cx="571.5" cy="704.3" r="2.45"/>
<circle cx="583.4" cy="705.9" r="2.45"/>
<circle cx="588.3" cy="705.5" r="2.45"/>
<circle cx="589.3" cy="708.8" r="2.45"/>
<circle cx="578.7" cy="709.4" r="2.45"/>
<circle cx="568.9" cy="709.4" r="2.45"/>
<circle cx="567.4" cy="711.4" r="2.45"/>
<circle cx="581.7" cy="711.4" r="2.45"/>
<circle cx="583.4" cy="712.4" r="2.45"/>
<circle cx="589.9" cy="714.5" r="2.45"/>
<circle cx="585.4" cy="719.2" r="2.45"/>
<circle cx="548" cy="720" r="2.45"/>
<circle cx="575.6" cy="720.6" r="2.45"/>
<circle cx="574" cy="724.3" r="2.45"/>
<circle cx="575" cy="727.8" r="2.45"/>
<circle cx="560.7" cy="729.4" r="2.45"/>
<circle cx="576.8" cy="737.9" r="2.45"/>
<circle cx="590.9" cy="739.7" r="2.45"/>
<circle cx="574.2" cy="744.8" r="2.45"/>
<circle cx="580.1" cy="745.4" r="2.45"/>
<circle cx="588.9" cy="746" r="2.45"/>
<circle cx="594.6" cy="746" r="2.45"/>
<circle cx="584.8" cy="748.1" r="2.45"/>
<circle cx="580.1" cy="751.2" r="2.45"/>
<circle cx="573.4" cy="754.6" r="2.45"/>
<circle cx="571.5" cy="760.8" r="2.45"/>
<circle cx="576.6" cy="760.2" r="2.45"/>
<circle cx="581.3" cy="762.2" r="2.45"/>
<circle cx="593.6" cy="762.4" r="2.45"/>
<circle cx="574.6" cy="773" r="2.45"/>
<circle cx="573.6" cy="774.5" r="2.45"/>
<circle cx="582.8" cy="776.7" r="2.45"/>
<circle cx="590.3" cy="777.3" r="2.45"/>
<circle cx="570.9" cy="781.2" r="2.45"/>
<circle cx="570.5" cy="787.3" r="2.45"/>
<circle cx="579.3" cy="788.6" r="2.45"/>
<circle cx="592" cy="795.7" r="2.45"/>
<circle cx="586.5" cy="808.2" r="2.45"/>
<circle cx="595.4" cy="808.2" r="2.45"/>
</g>
<g fill="#e8352e">
<circle cx="556.8" cy="679.3" r="2.45"/>
<circle cx="569.5" cy="686.5" r="2.45"/>
<circle cx="579.1" cy="687.9" r="2.45"/>
<circle cx="542.3" cy="690" r="2.45"/>
<circle cx="520.2" cy="694.9" r="2.45"/>
<circle cx="571.5" cy="695.5" r="2.45"/>
<circle cx="540.9" cy="715.9" r="2.45"/>
<circle cx="579.7" cy="715.9" r="2.45"/>
<circle cx="578.7" cy="718" r="2.45"/>
<circle cx="566.8" cy="717.5" r="2.45"/>
<circle cx="592" cy="724.1" r="2.45"/>
<circle cx="582.6" cy="733" r="2.45"/>
<circle cx="572.6" cy="736.9" r="2.45"/>
<circle cx="573" cy="741.8" r="2.45"/>
<circle cx="576.2" cy="763.2" r="2.45"/>
<circle cx="585.2" cy="793.3" r="2.45"/>
</g>
<line x1="520.1" y1="683" x2="591.8" y2="733.2" stroke="#e8352e" stroke-width="1.5"/>
<line x1="527.8" y1="674.4" x2="595.5" y2="757.2" stroke="#8b1a1a" stroke-width="1.5"/>
<line x1="492" y1="646" x2="492" y2="816.95" stroke="#333" stroke-width="0.9"/>
<line x1="491.55" y1="816.5" x2="657.6" y2="816.5" stroke="#333" stroke-width="0.9"/>
<line x1="490.4" y1="679.8" x2="492" y2="679.8" stroke="#333" stroke-width="0.7"/>
<text transform="translate(489.9 682.1) scale(1 1.15)" font-size="7.8" fill="#4d4d4d" stroke="#4d4d4d" stroke-width="0.18" text-anchor="end">7.5</text>
<line x1="490.4" y1="722.7" x2="492" y2="722.7" stroke="#333" stroke-width="0.7"/>
<text transform="translate(489.9 725) scale(1 1.15)" font-size="7.8" fill="#4d4d4d" stroke="#4d4d4d" stroke-width="0.18" text-anchor="end">5.0</text>
<line x1="490.4" y1="765.6" x2="492" y2="765.6" stroke="#333" stroke-width="0.7"/>
<text transform="translate(489.9 767.9) scale(1 1.15)" font-size="7.8" fill="#4d4d4d" stroke="#4d4d4d" stroke-width="0.18" text-anchor="end">2.5</text>
<line x1="490.4" y1="808.5" x2="492" y2="808.5" stroke="#333" stroke-width="0.7"/>
<text transform="translate(489.9 810.8) scale(1 1.15)" font-size="7.8" fill="#4d4d4d" stroke="#4d4d4d" stroke-width="0.18" text-anchor="end">0.0</text>
<line x1="499.5" y1="816.5" x2="499.5" y2="818.3" stroke="#333" stroke-width="0.7"/>
<text transform="translate(497.5 825) scale(1 1.15)" font-size="7.8" fill="#4d4d4d" stroke="#4d4d4d" stroke-width="0.18" text-anchor="middle">−1.0</text>
<line x1="537.1" y1="816.5" x2="537.1" y2="818.3" stroke="#333" stroke-width="0.7"/>
<text transform="translate(535 825) scale(1 1.15)" font-size="7.8" fill="#4d4d4d" stroke="#4d4d4d" stroke-width="0.18" text-anchor="middle">−0.5</text>
<line x1="574.4" y1="816.5" x2="574.4" y2="818.3" stroke="#333" stroke-width="0.7"/>
<text transform="translate(574.4 825) scale(1 1.15)" font-size="7.8" fill="#4d4d4d" stroke="#4d4d4d" stroke-width="0.18" text-anchor="middle">0.0</text>
<line x1="612.6" y1="816.5" x2="612.6" y2="818.3" stroke="#333" stroke-width="0.7"/>
<text transform="translate(612.6 825) scale(1 1.15)" font-size="7.8" fill="#4d4d4d" stroke="#4d4d4d" stroke-width="0.18" text-anchor="middle">0.5</text>
<line x1="649.8" y1="816.5" x2="649.8" y2="818.3" stroke="#333" stroke-width="0.7"/>
<text transform="translate(644.4 825) scale(1 1.15)" font-size="7.8" fill="#4d4d4d" stroke="#4d4d4d" stroke-width="0.18" text-anchor="middle">1.0</text>
<text transform="translate(575 838.4) scale(1 1.07)" font-size="10.5" text-anchor="middle" fill="#111"><tspan font-style="italic">TCF4</tspan> Gene Effect (Chronos Score)</text>
<text x="472.3" y="727.9" font-size="9.9" text-anchor="middle" fill="#111" transform="rotate(-90 472.3 727.9)"><tspan font-style="italic" letter-spacing="-0.3">TCF4</tspan> Expression (log2 TPM)</text>
<text transform="translate(606.8 654.2) scale(1 1)" font-size="7.9" fill="#8b1a1a" stroke="#8b1a1a" stroke-width="0.18" font-style="italic">R = -0.51, p = 7.4e-05</text>
<text transform="translate(606.8 663.6) scale(1 1)" font-size="7.9" fill="#e8352e" stroke="#e8352e" stroke-width="0.18" font-style="italic">R = -0.44, p= 0.045</text>
<text transform="translate(606.8 673.3) scale(1 1)" font-size="7.9" fill="#8a8a8a" stroke="#8a8a8a" stroke-width="0.18" font-style="italic">R = -0.081, p = 0.012</text>
<text transform="translate(461.02 647.4) scale(0.84 1)" font-size="25">F</text>
</g>
<g id="pBL">
<text transform="translate(312 864.45) rotate(0.03)" font-size="7.9" fill="#111" stroke="#111" stroke-width="0.18">Cell Line Subtype</text>
<ellipse cx="315.8" cy="871.7" rx="3.9" ry="2.4" fill="#e0e0e0"/>
<text transform="translate(324 874.45) rotate(0.03)" font-size="7.9" fill="#111" stroke="#111" stroke-width="0.18">Other</text>
<ellipse cx="315.8" cy="881" rx="3.9" ry="2.4" fill="#e8352e"/>
<text transform="translate(324 883.75) rotate(0.03)" font-size="7.9" fill="#111" stroke="#111" stroke-width="0.18">Mature B−cell Malignancies</text>
<ellipse cx="315.8" cy="890.4" rx="3.9" ry="2.4" fill="#8b1a1a"/>
<text transform="translate(324 893.15) rotate(0.03)" font-size="7.9" fill="#111" stroke="#111" stroke-width="0.18">Other Lymphoid</text>
</g>
</svg>
</body></html>
